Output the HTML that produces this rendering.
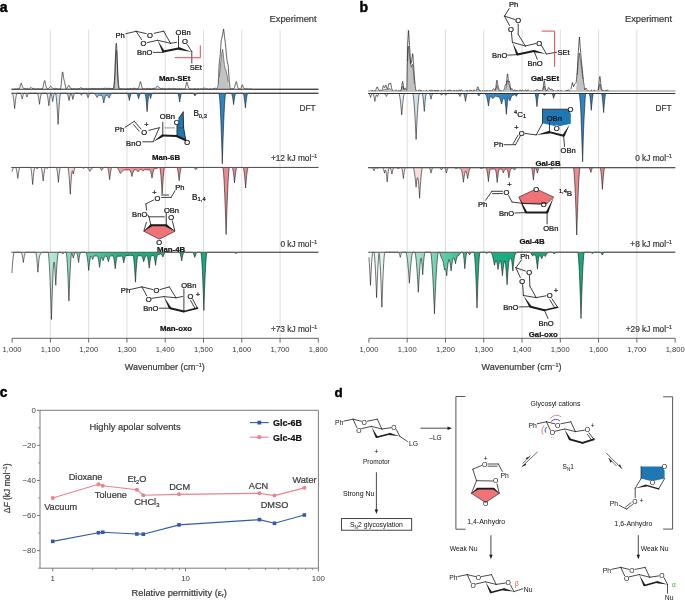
<!DOCTYPE html>
<html><head><meta charset="utf-8"><style>
html,body{margin:0;padding:0;background:#fff;overflow:hidden;width:685px;height:603px;}
svg{display:block;font-family:"Liberation Sans", sans-serif;will-change:transform;}
</style></head><body>
<svg width="685" height="603" viewBox="0 0 685 603">
<rect width="685" height="603" fill="#fff"/>
<line x1="50.38" y1="29.80" x2="50.38" y2="338.30" stroke="#d9d9d9" stroke-width="0.9" />
<line x1="88.66" y1="29.80" x2="88.66" y2="338.30" stroke="#d9d9d9" stroke-width="0.9" />
<line x1="126.94" y1="29.80" x2="126.94" y2="338.30" stroke="#d9d9d9" stroke-width="0.9" />
<line x1="165.22" y1="29.80" x2="165.22" y2="338.30" stroke="#d9d9d9" stroke-width="0.9" />
<line x1="203.50" y1="29.80" x2="203.50" y2="338.30" stroke="#d9d9d9" stroke-width="0.9" />
<line x1="241.78" y1="29.80" x2="241.78" y2="338.30" stroke="#d9d9d9" stroke-width="0.9" />
<line x1="280.06" y1="29.80" x2="280.06" y2="338.30" stroke="#d9d9d9" stroke-width="0.9" />
<line x1="12.10" y1="338.30" x2="318.34" y2="338.30" stroke="#555555" stroke-width="0.9" />
<line x1="12.10" y1="338.30" x2="12.10" y2="342.60" stroke="#555555" stroke-width="0.9" />
<text x="12.10" y="352.00" font-size="7.6" text-anchor="middle" font-weight="normal" fill="#3a3a3a" stroke="none">1,000</text>
<line x1="50.38" y1="338.30" x2="50.38" y2="342.60" stroke="#555555" stroke-width="0.9" />
<text x="50.38" y="352.00" font-size="7.6" text-anchor="middle" font-weight="normal" fill="#3a3a3a" stroke="none">1,100</text>
<line x1="88.66" y1="338.30" x2="88.66" y2="342.60" stroke="#555555" stroke-width="0.9" />
<text x="88.66" y="352.00" font-size="7.6" text-anchor="middle" font-weight="normal" fill="#3a3a3a" stroke="none">1,200</text>
<line x1="126.94" y1="338.30" x2="126.94" y2="342.60" stroke="#555555" stroke-width="0.9" />
<text x="126.94" y="352.00" font-size="7.6" text-anchor="middle" font-weight="normal" fill="#3a3a3a" stroke="none">1,300</text>
<line x1="165.22" y1="338.30" x2="165.22" y2="342.60" stroke="#555555" stroke-width="0.9" />
<text x="165.22" y="352.00" font-size="7.6" text-anchor="middle" font-weight="normal" fill="#3a3a3a" stroke="none">1,400</text>
<line x1="203.50" y1="338.30" x2="203.50" y2="342.60" stroke="#555555" stroke-width="0.9" />
<text x="203.50" y="352.00" font-size="7.6" text-anchor="middle" font-weight="normal" fill="#3a3a3a" stroke="none">1,500</text>
<line x1="241.78" y1="338.30" x2="241.78" y2="342.60" stroke="#555555" stroke-width="0.9" />
<text x="241.78" y="352.00" font-size="7.6" text-anchor="middle" font-weight="normal" fill="#3a3a3a" stroke="none">1,600</text>
<line x1="280.06" y1="338.30" x2="280.06" y2="342.60" stroke="#555555" stroke-width="0.9" />
<text x="280.06" y="352.00" font-size="7.6" text-anchor="middle" font-weight="normal" fill="#3a3a3a" stroke="none">1,700</text>
<line x1="318.34" y1="338.30" x2="318.34" y2="342.60" stroke="#555555" stroke-width="0.9" />
<text x="318.34" y="352.00" font-size="7.6" text-anchor="middle" font-weight="normal" fill="#3a3a3a" stroke="none">1,800</text>
<text x="164.72" y="369.80" font-size="9.0" text-anchor="middle" font-weight="normal" fill="#3a3a3a"  stroke="#3a3a3a" stroke-width="0.22">Wavenumber (cm<tspan dy="-3" font-size="5.5">−1</tspan><tspan dy="3">)</tspan></text>
<line x1="407.18" y1="29.80" x2="407.18" y2="338.30" stroke="#d9d9d9" stroke-width="0.9" />
<line x1="445.46" y1="29.80" x2="445.46" y2="338.30" stroke="#d9d9d9" stroke-width="0.9" />
<line x1="483.74" y1="29.80" x2="483.74" y2="338.30" stroke="#d9d9d9" stroke-width="0.9" />
<line x1="522.02" y1="29.80" x2="522.02" y2="338.30" stroke="#d9d9d9" stroke-width="0.9" />
<line x1="560.30" y1="29.80" x2="560.30" y2="338.30" stroke="#d9d9d9" stroke-width="0.9" />
<line x1="598.58" y1="29.80" x2="598.58" y2="338.30" stroke="#d9d9d9" stroke-width="0.9" />
<line x1="636.86" y1="29.80" x2="636.86" y2="338.30" stroke="#d9d9d9" stroke-width="0.9" />
<line x1="368.90" y1="338.30" x2="675.14" y2="338.30" stroke="#555555" stroke-width="0.9" />
<line x1="368.90" y1="338.30" x2="368.90" y2="342.60" stroke="#555555" stroke-width="0.9" />
<text x="368.90" y="352.00" font-size="7.6" text-anchor="middle" font-weight="normal" fill="#3a3a3a" stroke="none">1,000</text>
<line x1="407.18" y1="338.30" x2="407.18" y2="342.60" stroke="#555555" stroke-width="0.9" />
<text x="407.18" y="352.00" font-size="7.6" text-anchor="middle" font-weight="normal" fill="#3a3a3a" stroke="none">1,100</text>
<line x1="445.46" y1="338.30" x2="445.46" y2="342.60" stroke="#555555" stroke-width="0.9" />
<text x="445.46" y="352.00" font-size="7.6" text-anchor="middle" font-weight="normal" fill="#3a3a3a" stroke="none">1,200</text>
<line x1="483.74" y1="338.30" x2="483.74" y2="342.60" stroke="#555555" stroke-width="0.9" />
<text x="483.74" y="352.00" font-size="7.6" text-anchor="middle" font-weight="normal" fill="#3a3a3a" stroke="none">1,300</text>
<line x1="522.02" y1="338.30" x2="522.02" y2="342.60" stroke="#555555" stroke-width="0.9" />
<text x="522.02" y="352.00" font-size="7.6" text-anchor="middle" font-weight="normal" fill="#3a3a3a" stroke="none">1,400</text>
<line x1="560.30" y1="338.30" x2="560.30" y2="342.60" stroke="#555555" stroke-width="0.9" />
<text x="560.30" y="352.00" font-size="7.6" text-anchor="middle" font-weight="normal" fill="#3a3a3a" stroke="none">1,500</text>
<line x1="598.58" y1="338.30" x2="598.58" y2="342.60" stroke="#555555" stroke-width="0.9" />
<text x="598.58" y="352.00" font-size="7.6" text-anchor="middle" font-weight="normal" fill="#3a3a3a" stroke="none">1,600</text>
<line x1="636.86" y1="338.30" x2="636.86" y2="342.60" stroke="#555555" stroke-width="0.9" />
<text x="636.86" y="352.00" font-size="7.6" text-anchor="middle" font-weight="normal" fill="#3a3a3a" stroke="none">1,700</text>
<line x1="675.14" y1="338.30" x2="675.14" y2="342.60" stroke="#555555" stroke-width="0.9" />
<text x="675.14" y="352.00" font-size="7.6" text-anchor="middle" font-weight="normal" fill="#3a3a3a" stroke="none">1,800</text>
<text x="521.52" y="369.80" font-size="9.0" text-anchor="middle" font-weight="normal" fill="#3a3a3a"  stroke="#3a3a3a" stroke-width="0.22">Wavenumber (cm<tspan dy="-3" font-size="5.5">−1</tspan><tspan dy="3">)</tspan></text>
<text x="-0.20" y="11.90" font-size="14" text-anchor="start" font-weight="bold" fill="#000" stroke="#000" stroke-width="0.45">a</text>
<text x="359.60" y="11.60" font-size="14" text-anchor="start" font-weight="bold" fill="#000" stroke="#000" stroke-width="0.45">b</text>
<text x="316.60" y="22.30" font-size="9.3" text-anchor="end" font-weight="normal" fill="#3a3a3a"  stroke="#3a3a3a" stroke-width="0.22">Experiment</text>
<text x="672.00" y="22.30" font-size="9.3" text-anchor="end" font-weight="normal" fill="#3a3a3a"  stroke="#3a3a3a" stroke-width="0.22">Experiment</text>
<text x="315.60" y="110.80" font-size="8.3" text-anchor="end" font-weight="normal" fill="#3a3a3a"  stroke="#3a3a3a" stroke-width="0.22">DFT</text>
<text x="671.70" y="110.80" font-size="8.3" text-anchor="end" font-weight="normal" fill="#3a3a3a"  stroke="#3a3a3a" stroke-width="0.22">DFT</text>
<text x="317.20" y="161.30" font-size="8.3" text-anchor="end" font-weight="normal" fill="#3a3a3a"  stroke="#3a3a3a" stroke-width="0.22">+12 kJ mol<tspan dy="-3.6" font-size="5.2">−1</tspan></text>
<text x="317.20" y="247.20" font-size="8.3" text-anchor="end" font-weight="normal" fill="#3a3a3a"  stroke="#3a3a3a" stroke-width="0.22">0 kJ mol<tspan dy="-3.6" font-size="5.2">−1</tspan></text>
<text x="317.20" y="332.20" font-size="8.3" text-anchor="end" font-weight="normal" fill="#3a3a3a"  stroke="#3a3a3a" stroke-width="0.22">+73 kJ mol<tspan dy="-3.6" font-size="5.2">−1</tspan></text>
<text x="672.00" y="161.30" font-size="8.3" text-anchor="end" font-weight="normal" fill="#3a3a3a"  stroke="#3a3a3a" stroke-width="0.22">0 kJ mol<tspan dy="-3.6" font-size="5.2">−1</tspan></text>
<text x="672.00" y="247.40" font-size="8.3" text-anchor="end" font-weight="normal" fill="#3a3a3a"  stroke="#3a3a3a" stroke-width="0.22">+8 kJ mol<tspan dy="-3.6" font-size="5.2">−1</tspan></text>
<text x="672.00" y="332.40" font-size="8.3" text-anchor="end" font-weight="normal" fill="#3a3a3a"  stroke="#3a3a3a" stroke-width="0.22">+29 kJ mol<tspan dy="-3.6" font-size="5.2">−1</tspan></text>
<defs><linearGradient id="gba" gradientUnits="userSpaceOnUse" x1="12.10" y1="0" x2="318.40" y2="0"><stop offset="0" stop-color="#f3f7fb"/><stop offset="0.12" stop-color="#e2edf6"/><stop offset="0.2" stop-color="#b9d5ea"/><stop offset="0.3" stop-color="#7fb4de"/><stop offset="0.38" stop-color="#3f8fcb"/><stop offset="0.45" stop-color="#2b86c5"/><stop offset="1" stop-color="#2b86c5"/></linearGradient><linearGradient id="gpa" gradientUnits="userSpaceOnUse" x1="12.10" y1="0" x2="318.40" y2="0"><stop offset="0" stop-color="#fdf5f5"/><stop offset="0.12" stop-color="#fbe6e7"/><stop offset="0.2" stop-color="#f8d4d6"/><stop offset="0.3" stop-color="#f3b1b5"/><stop offset="0.4" stop-color="#ee8d93"/><stop offset="1" stop-color="#ec868d"/></linearGradient><linearGradient id="gga" gradientUnits="userSpaceOnUse" x1="12.10" y1="0" x2="318.40" y2="0"><stop offset="0" stop-color="#f2fbf7"/><stop offset="0.08" stop-color="#d4f1e5"/><stop offset="0.15" stop-color="#a6e2cb"/><stop offset="0.25" stop-color="#5fcba5"/><stop offset="0.35" stop-color="#22b185"/><stop offset="0.5" stop-color="#14ab7e"/><stop offset="1" stop-color="#14ab7e"/></linearGradient><linearGradient id="gbb" gradientUnits="userSpaceOnUse" x1="368.90" y1="0" x2="675.20" y2="0"><stop offset="0" stop-color="#f3f7fb"/><stop offset="0.12" stop-color="#e2edf6"/><stop offset="0.2" stop-color="#b9d5ea"/><stop offset="0.3" stop-color="#7fb4de"/><stop offset="0.38" stop-color="#3f8fcb"/><stop offset="0.45" stop-color="#2b86c5"/><stop offset="1" stop-color="#2b86c5"/></linearGradient><linearGradient id="gpb" gradientUnits="userSpaceOnUse" x1="368.90" y1="0" x2="675.20" y2="0"><stop offset="0" stop-color="#fdf5f5"/><stop offset="0.12" stop-color="#fbe6e7"/><stop offset="0.2" stop-color="#f8d4d6"/><stop offset="0.3" stop-color="#f3b1b5"/><stop offset="0.4" stop-color="#ee8d93"/><stop offset="1" stop-color="#ec868d"/></linearGradient><linearGradient id="ggb" gradientUnits="userSpaceOnUse" x1="368.90" y1="0" x2="675.20" y2="0"><stop offset="0" stop-color="#f2fbf7"/><stop offset="0.08" stop-color="#d4f1e5"/><stop offset="0.15" stop-color="#a6e2cb"/><stop offset="0.25" stop-color="#5fcba5"/><stop offset="0.35" stop-color="#22b185"/><stop offset="0.5" stop-color="#14ab7e"/><stop offset="1" stop-color="#14ab7e"/></linearGradient></defs>
<path d="M12.10,89.30 L12.1,89.3 113.8,88.0 114.2,85.7 114.6,81.3 115.0,74.0 115.4,64.6 115.8,55.6 116.2,50.4 116.3,50.0 116.6,51.4 117.0,58.0 117.4,67.5 117.8,76.4 118.2,82.9 118.6,86.6 118.8,88.0 218.2,89.3 219.3,77.3 220.5,64.3 221.8,53.3 222.6,49.3 223.4,55.3 224.3,64.3 225.2,68.3 226.3,71.3 227.3,76.3 228.3,82.3 229.3,89.3 318.4,89.3 L318.40,89.30 Z" fill="#c2c2c2" stroke="none"/>
<polyline points="113.8,88.0 114.2,85.7 114.6,81.3 115.0,74.0 115.4,64.6 115.8,55.6 116.2,50.4 116.3,50.0 116.6,51.4 117.0,58.0 117.4,67.5 117.8,76.4 118.2,82.9 118.6,86.6 118.8,88.0" fill="none" stroke="#333" stroke-width="0.55"/>
<polyline points="219.3,77.3 220.5,64.3 221.8,53.3 222.6,49.3 223.4,55.3 224.3,64.3 225.2,68.3 226.3,71.3 227.3,76.3 228.3,82.3" fill="none" stroke="#333" stroke-width="0.55"/>
<polyline points="12.1,89.3 13.3,89.3 13.7,89.3 14.1,89.2 14.5,89.1 14.9,89.0 15.1,89.0 15.3,89.0 15.7,89.1 15.8,89.1 16.1,89.1 16.2,89.2 16.5,89.1 16.6,89.1 16.9,89.0 16.9,89.0 17.0,88.9 17.4,88.8 17.6,88.7 17.8,88.8 18.2,88.9 18.6,89.1 18.9,89.2 19.0,89.2 19.0,89.2 19.3,88.8 19.4,88.6 19.4,88.6 19.4,88.5 19.7,88.0 19.8,87.5 20.1,86.6 20.2,85.9 20.5,84.8 20.6,84.2 20.7,83.9 20.9,83.5 21.0,83.2 21.2,83.2 21.3,83.3 21.3,83.3 21.4,83.5 21.7,84.2 21.7,84.3 21.8,84.7 22.1,85.6 22.1,85.8 22.2,86.2 22.5,86.9 22.5,86.9 22.5,87.0 22.6,87.2 22.9,87.6 23.0,87.8 23.1,87.9 23.3,88.0 23.4,88.1 23.4,88.3 23.7,88.4 23.8,88.5 24.1,88.6 24.2,88.6 24.5,88.5 24.6,88.5 24.9,88.4 25.0,88.3 25.0,88.3 25.2,88.3 25.4,88.4 25.6,88.5 25.8,88.6 26.0,88.7 26.2,88.8 26.4,88.8 26.6,88.8 26.8,88.7 27.0,88.6 27.0,88.6 27.2,88.5 27.5,88.5 27.6,88.5 28.0,88.7 28.4,89.0 28.8,89.2 28.8,89.1 29.2,89.1 29.2,89.1 29.2,89.1 29.3,89.1 29.6,88.9 29.6,88.9 30.0,88.4 30.0,88.4 30.4,87.8 30.4,87.8 30.6,87.5 30.8,87.4 30.8,87.4 31.2,87.5 31.2,87.5 31.2,87.5 31.4,87.7 31.6,87.9 31.6,87.9 31.8,88.1 32.0,88.3 32.0,88.3 32.1,88.4 32.4,88.4 32.4,88.4 32.5,88.5 32.5,88.4 32.8,88.4 33.0,88.3 33.0,88.3 33.2,88.3 33.2,88.3 33.2,88.3 33.4,88.3 33.4,88.3 33.8,88.4 33.8,88.5 34.1,88.6 34.2,88.6 34.5,88.6 34.6,88.6 34.8,88.7 35.0,88.7 35.0,88.7 35.0,88.7 35.4,88.9 35.8,89.1 36.0,89.1 36.2,89.1 36.4,89.1 36.6,89.1 36.6,89.1 36.8,89.0 37.2,88.7 37.6,88.5 37.8,88.4 38.0,88.4 38.3,88.6 38.4,88.7 38.7,88.9 38.8,88.9 39.1,89.0 39.2,89.0 39.5,89.0 39.6,89.0 39.6,89.0 39.9,88.9 40.1,88.9 40.3,88.9 40.5,88.9 40.7,89.0 40.9,89.0 41.1,89.0 41.2,89.0 41.5,88.9 41.6,88.9 41.9,88.8 41.9,88.8 42.0,88.7 42.2,88.7 42.3,88.7 42.4,88.4 42.5,88.4 42.6,88.2 42.8,87.8 42.9,87.8 43.0,87.4 43.2,86.6 43.2,86.5 43.4,85.7 43.6,84.6 43.6,84.4 43.8,83.4 44.0,82.3 44.0,82.2 44.1,82.1 44.1,81.9 44.2,81.4 44.4,80.8 44.6,80.6 44.7,80.6 44.8,80.8 44.9,80.9 45.0,81.4 45.2,82.3 45.3,82.5 45.4,83.3 45.6,84.5 45.7,84.7 45.8,85.4 45.9,85.8 46.0,86.4 46.1,86.5 46.4,87.5 46.5,87.6 46.7,88.0 46.8,88.1 46.8,88.2 46.9,88.3 47.0,88.4 47.2,88.7 47.3,88.7 47.6,88.8 47.7,88.8 47.7,88.8 48.0,88.7 48.1,88.6 48.1,88.6 48.4,88.5 48.5,88.4 48.5,88.4 48.5,88.4 48.6,88.3 48.8,88.2 48.9,88.1 49.0,88.0 49.2,87.8 49.3,87.7 49.4,87.6 49.6,87.4 49.7,87.2 49.8,87.1 50.0,86.9 50.1,86.7 50.2,86.6 50.4,86.4 50.4,86.4 50.5,86.3 50.6,86.3 50.7,86.3 50.9,86.3 50.9,86.3 51.0,86.4 51.2,86.5 51.3,86.7 51.4,86.8 51.6,87.0 51.7,87.3 51.8,87.4 52.0,87.6 52.1,87.8 52.2,87.9 52.4,88.0 52.5,88.1 52.6,88.2 52.7,88.2 52.8,88.3 52.9,88.4 53.0,88.4 53.2,88.5 53.3,88.7 53.6,88.8 53.7,89.0 53.9,89.1 54.0,89.1 54.3,89.1 54.4,89.1 54.7,88.9 54.8,88.9 54.8,88.9 55.1,88.6 55.5,88.3 55.6,88.3 55.8,88.3 55.9,88.3 56.0,88.3 56.3,88.5 56.4,88.5 56.7,88.7 56.8,88.7 57.1,88.8 57.2,88.8 57.4,88.9 57.5,88.9 57.6,88.9 57.6,89.0 58.0,89.1 58.4,89.2 58.5,89.2 58.8,89.2 58.9,89.2 59.2,89.2 59.2,89.2 59.3,89.2 59.7,89.2 60.1,89.1 60.3,89.1 60.4,89.1 60.5,88.2 60.5,88.2 60.8,87.4 60.9,86.6 60.9,86.5 61.2,84.9 61.3,83.5 61.3,83.4 61.6,80.9 61.7,79.0 61.7,78.8 62.0,76.1 62.1,74.4 62.1,74.3 62.1,74.2 62.4,72.7 62.4,72.7 62.5,72.2 62.6,72.1 62.6,71.9 62.8,72.2 62.9,72.9 63.0,73.3 63.0,73.3 63.2,74.5 63.3,75.8 63.4,76.3 63.4,76.4 63.6,77.6 63.7,78.6 63.8,78.9 63.8,79.0 64.0,79.6 64.1,80.2 64.2,80.3 64.2,80.4 64.2,80.4 64.4,80.8 64.5,81.2 64.6,81.6 64.6,81.6 64.8,82.4 64.8,82.6 64.8,83.2 65.0,83.9 65.0,84.0 65.4,86.1 65.4,86.1 65.8,87.8 65.8,87.8 65.8,87.9 66.2,88.7 66.2,88.7 66.2,88.7 66.4,88.9 66.5,88.9 66.6,88.9 66.6,88.9 66.6,88.8 66.9,88.5 67.0,88.4 67.3,87.8 67.4,87.7 67.4,87.7 67.6,87.2 67.7,87.0 67.8,86.9 67.8,86.9 68.1,86.2 68.2,86.1 68.2,86.1 68.5,85.6 68.6,85.5 68.6,85.5 68.9,85.3 68.9,85.3 69.0,85.3 69.0,85.3 69.2,85.5 69.3,85.6 69.4,85.7 69.4,85.8 69.4,85.9 69.6,86.3 69.7,86.5 69.8,86.7 70.0,87.3 70.1,87.5 70.2,87.7 70.4,88.1 70.5,88.2 70.6,88.3 70.8,88.4 70.9,88.5 71.0,88.5 71.0,88.5 71.2,88.6 71.3,88.6 71.4,88.7 71.6,88.7 72.0,88.8 72.1,88.9 72.4,89.0 72.5,89.0 72.8,89.0 72.9,89.0 73.2,88.8 73.2,88.8 73.3,88.8 73.7,88.6 74.0,88.5 74.1,88.5 74.5,88.7 74.9,89.0 75.0,89.0 75.3,89.1 75.4,89.2 75.7,89.2 75.8,89.2 75.8,89.2 76.2,89.1 76.6,89.0 76.8,88.9 76.9,88.9 77.0,88.9 77.3,89.0 77.4,89.0 77.7,89.0 77.8,89.0 78.1,89.0 78.2,89.0 78.5,88.9 78.6,88.9 78.6,88.9 78.7,88.9 78.7,88.9 78.8,88.8 78.9,88.8 79.0,88.8 79.2,88.8 79.3,88.7 79.4,88.7 79.6,88.6 79.7,88.5 79.8,88.4 80.0,88.3 80.1,88.1 80.2,88.0 80.4,87.9 80.5,87.8 80.5,87.8 80.6,87.7 80.6,87.7 80.8,87.7 81.0,87.7 81.2,87.8 81.4,87.9 81.5,88.0 81.6,88.1 81.8,88.2 81.8,88.2 82.0,88.3 82.2,88.4 82.2,88.4 82.4,88.5 82.5,88.5 82.6,88.6 82.6,88.6 83.0,88.6 83.0,88.6 83.4,88.6 83.4,88.6 83.6,88.6 83.8,88.7 83.8,88.7 84.2,88.9 84.2,88.9 84.4,89.0 84.5,89.1 84.6,89.1 84.9,89.1 85.0,89.1 85.3,89.0 85.4,88.9 85.4,88.9 85.7,88.7 86.1,88.4 86.3,88.4 86.5,88.4 86.9,88.6 87.3,88.9 87.5,89.1 87.7,89.1 87.8,89.1 88.1,89.1 88.1,89.1 88.2,89.0 88.7,88.7 89.0,88.5 89.3,88.4 89.5,88.4 89.8,88.7 90.0,88.8 90.2,88.9 90.4,88.9 90.7,88.9 90.8,88.9 91.0,88.8 91.1,88.7 91.2,88.7 91.6,88.4 91.8,88.4 92.0,88.4 92.1,88.4 92.4,88.6 92.5,88.6 92.8,88.8 92.9,88.8 93.2,88.7 93.3,88.7 93.6,88.6 93.7,88.6 93.7,88.6 93.9,88.6 94.1,88.6 94.2,88.6 94.5,88.7 94.5,88.7 94.9,88.8 95.0,88.8 95.3,88.8 95.3,88.8 95.7,88.7 95.8,88.7 95.8,88.8 96.0,88.7 96.2,88.8 96.3,88.8 96.5,88.9 96.8,88.9 97.0,88.9 97.2,88.9 97.3,88.9 97.5,88.8 97.8,88.7 97.8,88.7 98.0,88.7 98.0,88.7 98.2,88.6 98.3,88.6 98.4,88.6 98.8,88.6 98.8,88.6 99.2,88.7 99.2,88.7 99.5,88.6 99.6,88.6 99.8,88.7 100.0,88.7 100.0,88.7 100.0,88.7 100.3,88.8 100.4,88.8 100.7,88.9 100.8,88.9 101.1,88.9 101.2,88.9 101.5,88.6 101.6,88.6 101.6,88.6 101.9,88.3 102.0,88.3 102.2,88.2 102.3,88.3 102.5,88.3 102.7,88.4 102.8,88.5 103.1,88.7 103.1,88.7 103.2,88.7 103.5,88.7 103.5,88.7 103.7,88.7 103.9,88.6 103.9,88.6 104.0,88.6 104.0,88.6 104.3,88.4 104.5,88.3 104.7,88.2 104.8,88.2 104.9,88.2 104.9,88.2 105.1,88.2 105.2,88.2 105.3,88.2 105.5,88.3 105.7,88.4 105.7,88.4 105.9,88.5 106.0,88.5 106.1,88.5 106.3,88.5 106.5,88.4 106.5,88.4 106.7,88.4 106.7,88.4 106.8,88.3 106.9,88.3 107.0,88.3 107.1,88.3 107.2,88.3 107.3,88.3 107.4,88.3 107.7,88.4 107.7,88.4 107.8,88.4 107.8,88.4 108.1,88.4 108.2,88.4 108.5,88.3 108.6,88.3 108.7,88.2 108.9,88.2 108.9,88.2 109.0,88.3 109.0,88.3 109.1,88.3 109.4,88.4 109.5,88.4 109.8,88.4 109.9,88.4 110.2,88.4 110.3,88.4 110.5,88.4 110.6,88.5 110.7,88.5 110.7,88.5 111.1,88.7 111.2,88.8 111.5,88.9 111.6,88.9 111.9,88.9 112.0,88.8 112.3,88.6 112.4,88.6 112.4,88.6 112.8,88.3 113.0,88.2 113.2,88.3 113.4,88.4 113.6,88.5 113.7,87.0 113.8,86.3 114.0,85.1 114.0,84.8 114.2,83.2 114.4,80.7 114.5,80.1 114.6,77.1 114.8,73.1 114.8,72.2 114.9,71.3 115.0,68.1 115.2,62.2 115.2,61.9 115.3,60.3 115.4,57.3 115.7,51.5 115.7,50.2 115.8,48.0 116.0,44.6 116.1,44.0 116.2,43.4 116.3,43.2 116.5,43.7 116.5,44.2 116.6,45.4 116.8,49.3 116.9,50.6 117.0,53.2 117.1,54.2 117.1,56.0 117.2,59.2 117.3,60.9 117.4,63.6 117.7,69.9 117.7,71.3 117.8,73.7 118.0,78.5 118.1,79.5 118.2,81.0 118.5,83.9 118.5,84.4 118.6,85.3 118.8,86.7 118.9,86.9 118.9,87.0 119.0,87.1 119.0,88.6 119.2,88.6 119.4,88.6 119.5,88.6 119.8,88.7 119.9,88.8 120.2,88.9 120.3,88.9 120.6,89.0 120.7,89.0 121.0,88.9 121.1,88.9 121.1,89.0 121.3,88.9 121.5,89.0 121.9,89.0 122.3,89.2 122.5,89.2 122.7,89.2 122.9,89.2 123.1,89.2 123.1,89.2 123.3,89.2 123.7,89.1 124.1,89.0 124.3,89.0 124.5,89.0 124.9,89.1 125.3,89.2 125.6,89.3 125.7,89.2 126.0,89.2 126.1,89.2 126.1,89.2 126.4,89.2 126.8,89.0 127.2,88.9 127.4,88.9 127.6,88.9 128.0,89.0 128.4,89.1 128.4,89.1 128.8,89.1 128.8,89.1 129.2,89.0 129.2,89.0 129.2,89.0 129.6,88.7 130.0,88.5 130.2,88.4 130.4,88.5 130.8,88.7 131.2,89.0 131.5,89.1 131.6,89.1 131.9,89.1 132.0,89.1 132.1,89.1 132.3,89.0 132.7,88.7 133.1,88.5 133.1,88.4 133.3,88.3 133.5,88.3 133.5,88.3 133.9,88.4 133.9,88.4 134.3,88.4 134.3,88.4 134.7,88.3 134.7,88.3 135.0,88.4 135.1,88.4 135.1,88.4 135.2,88.4 135.5,88.7 135.9,89.0 136.3,89.1 136.3,89.1 136.7,89.1 136.7,89.1 136.8,89.1 137.1,89.0 137.5,88.7 137.9,88.4 138.1,88.4 138.2,88.4 138.3,88.0 138.6,87.8 138.7,87.6 138.7,87.5 138.9,87.0 139.1,86.6 139.1,86.4 139.3,85.5 139.5,84.9 139.5,84.6 139.8,83.5 139.9,82.9 139.9,82.7 139.9,82.7 140.2,82.0 140.3,81.7 140.4,81.7 140.4,81.6 140.6,81.7 140.7,82.2 140.8,82.3 140.9,83.0 141.1,83.9 141.2,84.0 141.3,84.9 141.5,85.8 141.6,86.0 141.8,86.7 141.9,87.4 142.0,87.4 142.2,87.9 142.2,88.0 142.3,88.3 142.3,88.3 142.4,88.3 142.6,88.6 142.7,89.0 142.8,89.0 143.1,89.1 143.2,89.1 143.5,89.2 143.6,89.2 143.9,89.2 144.0,89.2 144.0,89.2 144.3,89.1 144.7,89.0 144.9,89.0 145.1,89.0 145.5,89.1 145.6,89.1 145.9,89.1 146.0,89.1 146.3,89.0 146.4,89.0 146.7,88.8 146.8,88.8 146.8,88.7 147.2,88.5 147.4,88.4 147.6,88.4 148.0,88.7 148.1,88.7 148.4,88.9 148.5,88.9 148.8,88.9 148.9,88.9 149.2,88.8 149.3,88.7 149.3,88.7 149.7,88.5 149.9,88.4 150.1,88.5 150.5,88.7 150.9,89.0 151.0,89.0 151.3,89.1 151.4,89.1 151.7,89.0 151.8,89.0 151.8,89.0 152.2,88.7 152.6,88.5 152.6,88.5 152.8,88.4 153.0,88.4 153.0,88.4 153.4,88.4 153.4,88.4 153.8,88.4 153.8,88.4 154.2,88.4 154.2,88.3 154.2,88.3 154.4,88.3 154.6,88.3 154.6,88.3 154.6,88.3 154.7,88.3 155.0,88.4 155.0,88.4 155.1,88.4 155.4,88.3 155.4,88.3 155.5,88.3 155.8,88.1 155.8,88.0 155.9,87.9 156.2,87.5 156.2,87.4 156.3,87.3 156.3,87.2 156.6,86.8 156.7,86.6 156.9,86.3 157.0,86.3 157.1,86.2 157.2,86.2 157.4,86.2 157.5,86.2 157.6,86.2 157.7,86.3 157.8,86.3 157.9,86.5 157.9,86.5 158.2,86.7 158.3,86.8 158.3,86.8 158.6,87.0 158.7,87.1 158.8,87.2 158.8,87.2 158.8,87.3 159.0,87.4 159.0,87.4 159.2,87.6 159.2,87.6 159.4,87.8 159.6,87.9 159.6,88.0 159.8,88.1 159.9,88.2 160.0,88.2 160.2,88.3 160.3,88.3 160.4,88.4 160.6,88.4 160.7,88.5 160.7,88.5 160.8,88.5 160.8,88.5 160.8,88.5 161.0,88.5 161.1,88.6 161.2,88.7 161.5,88.7 161.6,88.7 161.9,88.6 162.0,88.5 162.3,88.4 162.4,88.4 162.5,88.4 162.5,88.4 162.7,88.4 163.1,88.7 163.2,88.8 163.5,88.9 163.6,89.0 163.9,89.0 164.0,89.0 164.3,89.0 164.3,89.0 164.4,88.9 164.8,88.8 165.0,88.8 165.2,88.8 165.4,88.8 165.6,88.9 165.8,89.0 166.0,89.0 166.2,89.1 166.4,89.1 166.6,89.1 166.8,89.0 166.9,89.0 167.0,89.0 167.2,89.0 167.2,89.0 167.4,89.0 167.6,88.9 167.8,88.9 168.0,88.8 168.2,88.7 168.4,88.6 168.6,88.4 168.8,88.3 169.0,88.3 169.0,88.3 169.0,88.3 169.2,88.3 169.4,88.4 169.6,88.5 169.8,88.6 170.0,88.6 170.2,88.6 170.4,88.6 170.6,88.6 170.8,88.6 170.8,88.6 170.9,88.6 171.0,88.6 171.4,88.8 171.6,88.9 171.8,89.0 171.9,89.0 172.2,89.0 172.3,88.9 172.6,88.8 172.7,88.7 172.8,88.7 173.2,88.5 173.4,88.4 173.4,88.4 173.6,88.4 173.8,88.5 173.9,88.6 174.2,88.7 174.3,88.7 174.6,88.7 174.8,88.7 175.0,88.7 175.2,88.7 175.2,88.7 175.2,88.7 175.4,88.7 175.7,88.8 175.8,88.8 176.1,88.9 176.2,88.9 176.4,89.0 176.6,89.0 176.8,89.0 177.0,89.0 177.1,89.0 177.2,89.0 177.4,89.0 177.7,89.0 177.8,89.1 178.1,89.0 178.2,89.0 178.4,88.9 178.6,88.8 178.8,88.7 178.9,88.7 179.0,88.7 179.3,88.6 179.4,88.6 179.6,88.7 179.8,88.8 180.0,88.8 180.2,88.9 180.4,88.9 180.6,88.9 180.8,88.9 181.0,88.8 181.1,88.8 181.2,88.8 181.4,88.7 181.6,88.8 182.0,88.9 182.1,89.0 182.4,89.1 182.5,89.1 182.8,89.2 182.9,89.2 183.2,89.1 183.2,89.2 183.3,89.1 183.7,89.1 183.9,89.1 184.1,89.1 184.5,89.1 184.7,88.9 184.9,88.8 185.0,88.6 185.1,88.5 185.3,88.1 185.4,87.6 185.5,87.5 185.7,86.8 185.7,86.7 185.8,86.0 185.9,85.8 186.2,84.0 186.3,83.8 186.6,82.4 186.7,82.3 186.8,82.1 186.9,82.1 187.0,82.2 187.1,82.2 187.2,82.6 187.4,83.3 187.5,83.5 187.7,84.3 187.8,85.2 187.9,85.3 188.1,86.1 188.2,86.8 188.3,86.9 188.4,87.3 188.6,87.7 188.6,87.7 188.7,87.7 188.8,88.0 188.9,88.0 189.1,88.1 189.1,88.2 189.1,88.2 189.2,88.4 189.3,88.4 189.7,88.6 189.7,88.6 190.1,88.8 190.1,88.8 190.4,88.9 190.5,88.9 190.5,88.9 190.7,88.9 190.8,88.9 190.9,88.9 190.9,88.9 191.3,89.0 191.3,89.0 191.7,89.0 191.7,89.0 192.1,88.9 192.1,88.9 192.3,89.0 192.5,89.0 192.5,89.0 192.5,89.0 192.9,89.1 193.0,89.1 193.3,89.1 193.4,89.1 193.7,89.0 193.8,89.0 194.1,88.8 194.1,88.8 194.2,88.7 194.6,88.5 194.9,88.4 195.0,88.5 195.4,88.7 195.8,89.0 196.2,89.1 196.2,89.1 196.6,89.2 196.6,89.2 196.7,89.2 197.0,89.1 197.4,88.8 197.8,88.7 198.0,88.6 198.2,88.6 198.6,88.8 199.0,89.0 199.2,89.1 199.4,89.2 199.6,89.2 199.8,89.1 199.8,89.2 200.0,89.1 200.4,88.9 200.8,88.8 201.0,88.7 201.2,88.7 201.6,88.9 201.6,88.9 202.0,89.0 202.0,89.0 202.4,88.9 202.4,88.9 202.8,88.6 202.8,88.6 202.8,88.6 203.2,88.3 203.3,88.3 203.4,88.2 203.6,88.2 203.7,88.2 204.0,88.2 204.1,88.2 204.4,88.2 204.5,88.2 204.8,88.2 204.9,88.2 205.1,88.2 205.2,88.2 205.3,88.3 205.3,88.3 205.4,88.3 205.7,88.5 205.8,88.6 206.1,88.7 206.2,88.8 206.5,88.8 206.6,88.8 206.9,88.7 206.9,88.7 207.0,88.7 207.2,88.7 207.4,88.7 207.8,88.9 208.2,89.1 208.5,89.2 208.6,89.2 208.9,89.2 209.0,89.2 209.0,89.2 209.3,89.1 209.7,88.9 210.1,88.7 210.3,88.7 210.5,88.7 210.9,88.9 211.3,89.1 211.5,89.2 211.7,89.2 211.9,89.2 212.1,89.1 212.1,89.1 212.3,89.0 212.7,88.8 213.1,88.5 213.3,88.5 213.5,88.5 213.8,88.5 213.9,88.5 214.2,88.5 214.3,88.5 214.6,88.4 214.7,88.3 214.9,88.2 215.0,88.2 215.1,88.1 215.2,88.2 215.2,88.2 215.3,88.2 215.4,88.2 215.8,88.3 215.8,88.3 216.2,88.4 216.2,88.4 216.6,88.4 216.6,88.4 216.8,88.4 216.9,88.4 217.0,88.5 217.0,88.5 217.1,88.5 217.3,88.6 217.4,88.2 217.5,87.8 217.8,86.7 217.9,86.2 218.2,85.0 218.3,84.5 218.3,84.3 218.6,77.7 218.7,76.4 218.7,75.3 218.9,69.9 219.1,66.4 219.1,66.2 219.3,62.3 219.5,60.6 219.5,60.5 219.9,57.3 219.9,57.2 220.2,54.9 220.3,53.4 220.3,53.2 220.7,47.8 220.7,47.6 220.8,46.8 220.9,44.6 221.1,42.2 221.1,42.0 221.2,40.9 221.5,39.6 221.5,39.6 221.9,37.8 221.9,37.8 222.3,35.9 222.3,35.9 222.6,34.5 222.7,33.9 222.7,33.8 222.8,33.6 222.9,32.5 223.1,31.6 223.3,30.3 223.5,29.5 223.6,29.0 223.8,30.4 223.9,31.8 224.2,33.9 224.3,35.2 224.5,36.8 224.6,37.1 224.7,38.2 224.8,38.7 224.9,40.0 225.2,41.7 225.3,42.6 225.3,43.1 225.8,47.7 226.2,52.3 226.4,55.1 226.4,55.2 226.6,56.3 226.8,58.3 226.9,59.4 227.0,59.8 227.2,61.3 227.3,62.0 227.6,63.1 228.0,64.7 228.2,65.5 228.2,66.0 228.4,68.4 228.8,74.2 229.2,80.0 229.2,80.1 229.3,81.3 229.6,83.8 229.7,85.0 230.0,87.4 230.1,88.0 230.1,88.6 230.2,89.1 230.5,89.0 230.9,88.9 231.1,88.9 231.2,88.8 231.3,88.8 231.5,88.8 231.7,88.8 231.9,88.8 232.1,88.8 232.3,88.7 232.5,88.7 232.7,88.6 232.9,88.6 232.9,88.6 232.9,88.6 233.0,88.6 233.1,88.6 233.3,88.7 233.5,88.7 233.8,88.7 233.9,88.7 234.0,88.4 234.2,88.1 234.3,87.9 234.4,87.7 234.6,87.2 234.7,86.9 234.7,86.7 234.8,86.6 234.8,86.5 234.9,85.9 235.2,85.0 235.3,84.2 235.4,83.8 235.6,83.2 235.8,82.5 235.8,82.3 236.0,81.9 236.2,81.7 236.2,81.6 236.2,81.6 236.4,81.7 236.6,82.1 236.6,82.3 236.6,82.4 236.8,82.8 237.0,84.0 237.2,84.6 237.3,85.1 237.4,85.7 237.4,85.9 237.6,86.5 237.8,87.3 237.8,87.5 238.0,87.8 238.2,88.3 238.2,88.3 238.4,88.5 238.4,88.6 238.6,88.8 238.6,88.8 239.0,88.7 239.0,88.7 239.1,88.7 239.2,88.7 239.4,88.8 239.8,88.9 240.2,89.1 240.3,89.1 240.5,89.1 240.6,89.0 240.7,88.9 240.9,88.6 241.0,88.5 241.0,88.4 241.1,88.2 241.3,87.6 241.5,86.9 241.7,86.1 241.9,85.4 242.1,85.0 242.1,84.9 242.3,84.8 242.4,84.9 242.5,85.0 242.7,85.6 242.8,86.0 242.9,86.2 243.1,86.9 243.2,87.3 243.3,87.5 243.5,88.0 243.6,88.2 243.7,88.2 243.9,88.4 243.9,88.4 244.0,88.5 244.1,88.5 244.1,88.6 244.2,88.6 244.4,88.6 244.8,88.8 244.8,88.8 245.2,88.9 245.2,88.9 245.6,88.9 245.7,88.9 246.0,88.6 246.1,88.6 246.1,88.6 246.4,88.4 246.7,88.3 246.8,88.4 247.2,88.6 247.5,88.8 247.7,88.9 247.9,89.0 248.1,89.1 248.3,89.1 248.4,89.1 248.5,89.1 248.7,89.1 249.1,89.0 249.2,89.0 249.3,89.0 249.5,89.0 249.6,89.0 249.9,89.0 250.0,89.0 250.3,89.0 250.4,89.0 250.7,88.9 250.8,88.9 251.1,88.9 251.1,88.9 251.1,88.9 251.2,88.9 251.6,89.0 252.0,89.2 252.4,89.2 252.8,89.3 252.9,89.3 318.4,89.3" fill="none" stroke="#1a1a1a" stroke-width="0.7" stroke-linejoin="round"/>
<path d="M12.10,93.30 L12.1,93.3 12.3,93.3 12.7,94.0 13.1,95.8 13.5,98.2 13.9,101.3 14.3,105.0 14.6,108.6 14.7,107.9 15.1,103.8 15.5,100.3 15.9,97.4 16.3,95.2 16.7,93.7 16.9,93.3 20.2,93.3 20.6,93.7 21.0,94.5 21.4,95.7 21.8,97.2 22.2,99.0 22.6,97.2 23.0,95.7 23.4,94.5 23.8,93.7 24.2,93.3 25.0,93.3 25.4,93.6 25.8,94.1 26.2,94.9 26.6,96.0 26.9,97.0 27.0,96.8 27.4,95.6 27.8,94.6 28.2,93.9 28.6,93.4 28.8,93.3 37.3,93.3 37.7,93.9 38.1,95.3 38.5,97.3 38.9,99.7 39.3,102.7 39.5,104.3 39.7,102.5 40.1,99.5 40.5,97.1 40.9,95.2 41.3,93.8 41.7,93.3 46.6,93.3 47.0,94.0 47.4,95.5 47.8,97.6 48.2,100.4 48.6,103.6 48.8,105.7 49.0,104.1 49.4,100.8 49.8,98.0 50.2,95.8 50.6,94.2 50.6,94.0 51.0,93.7 51.0,93.8 51.0,93.8 51.4,94.9 51.8,96.5 52.2,98.6 52.6,101.0 52.7,101.6 53.0,99.6 53.4,97.4 53.8,95.6 54.2,94.2 54.6,93.4 54.8,93.3 55.5,93.3 55.9,94.6 56.3,97.5 56.7,101.7 57.1,106.9 57.5,113.2 57.9,120.4 58.1,124.4 58.3,120.4 58.7,113.2 59.1,106.9 59.5,101.7 59.9,97.5 60.3,94.6 60.7,93.3 67.0,93.3 67.4,93.7 67.8,94.8 68.2,96.2 68.6,98.0 69.0,100.2 69.1,100.6 69.4,98.7 69.8,96.7 70.2,95.1 70.6,94.0 70.8,93.7 71.0,93.5 71.2,93.6 71.2,93.7 71.6,94.6 72.0,95.8 72.4,97.4 72.8,99.3 72.8,99.4 73.2,97.5 73.6,95.9 74.0,94.6 74.4,93.7 74.8,93.3 74.8,93.3 79.5,93.3 79.9,93.4 80.3,93.8 80.7,94.2 81.1,94.8 81.4,95.3 81.5,95.1 81.9,94.4 82.3,93.9 82.7,93.5 83.1,93.3 83.3,93.3 85.7,93.3 86.1,93.5 86.5,94.0 86.9,94.7 87.3,95.6 87.7,96.7 88.0,97.7 88.1,97.5 88.5,96.3 88.9,95.3 89.3,94.5 89.7,93.8 90.1,93.4 90.3,93.3 94.0,93.3 94.8,93.9 95.2,94.4 95.6,95.0 96.0,95.6 96.0,95.7 96.4,96.3 96.8,97.0 97.1,97.5 97.2,97.3 97.6,96.7 98.0,96.1 98.4,95.7 98.8,95.4 99.2,95.2 99.4,95.2 100.0,95.3 101.7,95.5 102.1,96.0 102.5,97.0 102.9,98.5 103.3,100.4 103.7,102.6 103.8,103.0 104.1,101.1 104.5,99.2 104.9,97.6 105.0,97.4 105.3,96.4 105.7,95.7 105.9,95.6 106.8,95.3 107.2,95.4 107.6,95.7 108.0,96.1 108.4,96.8 108.8,97.5 109.1,98.1 109.2,97.9 109.6,96.8 110.0,96.0 110.4,95.1 110.8,94.4 111.2,93.8 111.4,93.7 112.0,93.3 127.1,93.3 127.5,93.7 127.9,94.5 128.3,95.7 128.7,97.3 129.1,99.1 129.4,100.5 129.5,99.8 129.9,97.8 130.3,96.2 130.7,94.9 131.1,93.9 131.5,93.3 131.7,93.3 136.4,93.3 136.8,93.6 137.2,94.3 137.6,95.2 138.0,96.5 138.4,97.9 138.6,98.7 138.8,97.8 139.2,96.4 139.6,95.2 140.0,94.2 140.4,93.6 140.8,93.3 144.9,93.3 145.3,94.3 145.7,96.6 146.1,99.9 146.5,104.0 146.9,108.9 147.1,111.7 147.3,108.9 147.7,104.0 148.1,99.9 148.5,96.6 148.6,95.8 148.9,94.5 149.0,94.2 149.3,94.1 149.4,94.4 149.8,95.5 150.2,96.9 150.6,98.5 150.6,98.4 151.0,96.8 151.4,95.4 151.8,94.3 152.2,93.6 152.6,93.3 177.6,93.3 178.0,93.8 178.4,95.0 178.8,96.7 179.2,98.8 179.6,101.3 179.7,102.0 180.0,100.0 180.4,97.7 180.8,95.8 181.2,94.3 181.6,93.5 181.8,93.3 192.7,93.3 193.1,93.4 193.5,93.7 193.9,94.2 194.3,94.7 194.7,95.4 195.0,95.9 195.1,95.7 195.5,95.0 195.9,94.4 196.3,93.9 196.7,93.5 197.1,93.3 197.3,93.3 218.9,93.3 219.3,95.2 219.7,99.3 220.1,105.2 220.5,112.8 220.9,121.7 221.3,132.1 221.7,143.7 222.1,156.5 222.3,163.7 222.5,157.2 222.9,144.3 223.3,132.6 223.7,122.2 224.1,113.2 224.5,105.6 224.9,99.6 225.3,95.3 225.7,93.3 225.7,93.3 231.4,93.3 231.8,93.9 232.2,95.3 232.6,97.3 233.0,99.9 233.4,102.9 233.6,104.6 233.8,102.9 234.2,99.9 234.6,97.3 235.0,95.3 235.4,93.9 235.8,93.3 243.1,93.3 243.5,94.0 243.9,95.7 244.3,98.1 244.7,101.1 245.1,104.7 245.4,107.9 245.5,106.9 245.9,103.0 246.3,99.7 246.7,96.9 247.1,94.9 247.5,93.6 247.7,93.3 318.4,93.3 L318.40,93.30 Z" fill="url(#gba)" stroke="none"/>
<polyline points="12.1,93.3 12.3,93.3 12.7,94.0 13.1,95.8 13.5,98.2 13.9,101.3 14.3,105.0 14.6,108.6 14.7,107.9 15.1,103.8 15.5,100.3 15.9,97.4 16.3,95.2 16.7,93.7 16.9,93.3 20.2,93.3 20.6,93.7 21.0,94.5 21.4,95.7 21.8,97.2 22.2,99.0 22.6,97.2 23.0,95.7 23.4,94.5 23.8,93.7 24.2,93.3 25.0,93.3 25.4,93.6 25.8,94.1 26.2,94.9 26.6,96.0 26.9,97.0 27.0,96.8 27.4,95.6 27.8,94.6 28.2,93.9 28.6,93.4 28.8,93.3 37.3,93.3 37.7,93.9 38.1,95.3 38.5,97.3 38.9,99.7 39.3,102.7 39.5,104.3 39.7,102.5 40.1,99.5 40.5,97.1 40.9,95.2 41.3,93.8 41.7,93.3 46.6,93.3 47.0,94.0 47.4,95.5 47.8,97.6 48.2,100.4 48.6,103.6 48.8,105.7 49.0,104.1 49.4,100.8 49.8,98.0 50.2,95.8 50.6,94.2 50.6,94.0 51.0,93.7 51.0,93.8 51.0,93.8 51.4,94.9 51.8,96.5 52.2,98.6 52.6,101.0 52.7,101.6 53.0,99.6 53.4,97.4 53.8,95.6 54.2,94.2 54.6,93.4 54.8,93.3 55.5,93.3 55.9,94.6 56.3,97.5 56.7,101.7 57.1,106.9 57.5,113.2 57.9,120.4 58.1,124.4 58.3,120.4 58.7,113.2 59.1,106.9 59.5,101.7 59.9,97.5 60.3,94.6 60.7,93.3 67.0,93.3 67.4,93.7 67.8,94.8 68.2,96.2 68.6,98.0 69.0,100.2 69.1,100.6 69.4,98.7 69.8,96.7 70.2,95.1 70.6,94.0 70.8,93.7 71.0,93.5 71.2,93.6 71.2,93.7 71.6,94.6 72.0,95.8 72.4,97.4 72.8,99.3 72.8,99.4 73.2,97.5 73.6,95.9 74.0,94.6 74.4,93.7 74.8,93.3 74.8,93.3 79.5,93.3 79.9,93.4 80.3,93.8 80.7,94.2 81.1,94.8 81.4,95.3 81.5,95.1 81.9,94.4 82.3,93.9 82.7,93.5 83.1,93.3 83.3,93.3 85.7,93.3 86.1,93.5 86.5,94.0 86.9,94.7 87.3,95.6 87.7,96.7 88.0,97.7 88.1,97.5 88.5,96.3 88.9,95.3 89.3,94.5 89.7,93.8 90.1,93.4 90.3,93.3 94.0,93.3 94.8,93.9 95.2,94.4 95.6,95.0 96.0,95.6 96.0,95.7 96.4,96.3 96.8,97.0 97.1,97.5 97.2,97.3 97.6,96.7 98.0,96.1 98.4,95.7 98.8,95.4 99.2,95.2 99.4,95.2 100.0,95.3 101.7,95.5 102.1,96.0 102.5,97.0 102.9,98.5 103.3,100.4 103.7,102.6 103.8,103.0 104.1,101.1 104.5,99.2 104.9,97.6 105.0,97.4 105.3,96.4 105.7,95.7 105.9,95.6 106.8,95.3 107.2,95.4 107.6,95.7 108.0,96.1 108.4,96.8 108.8,97.5 109.1,98.1 109.2,97.9 109.6,96.8 110.0,96.0 110.4,95.1 110.8,94.4 111.2,93.8 111.4,93.7 112.0,93.3 127.1,93.3 127.5,93.7 127.9,94.5 128.3,95.7 128.7,97.3 129.1,99.1 129.4,100.5 129.5,99.8 129.9,97.8 130.3,96.2 130.7,94.9 131.1,93.9 131.5,93.3 131.7,93.3 136.4,93.3 136.8,93.6 137.2,94.3 137.6,95.2 138.0,96.5 138.4,97.9 138.6,98.7 138.8,97.8 139.2,96.4 139.6,95.2 140.0,94.2 140.4,93.6 140.8,93.3 144.9,93.3 145.3,94.3 145.7,96.6 146.1,99.9 146.5,104.0 146.9,108.9 147.1,111.7 147.3,108.9 147.7,104.0 148.1,99.9 148.5,96.6 148.6,95.8 148.9,94.5 149.0,94.2 149.3,94.1 149.4,94.4 149.8,95.5 150.2,96.9 150.6,98.5 150.6,98.4 151.0,96.8 151.4,95.4 151.8,94.3 152.2,93.6 152.6,93.3 177.6,93.3 178.0,93.8 178.4,95.0 178.8,96.7 179.2,98.8 179.6,101.3 179.7,102.0 180.0,100.0 180.4,97.7 180.8,95.8 181.2,94.3 181.6,93.5 181.8,93.3 192.7,93.3 193.1,93.4 193.5,93.7 193.9,94.2 194.3,94.7 194.7,95.4 195.0,95.9 195.1,95.7 195.5,95.0 195.9,94.4 196.3,93.9 196.7,93.5 197.1,93.3 197.3,93.3 218.9,93.3 219.3,95.2 219.7,99.3 220.1,105.2 220.5,112.8 220.9,121.7 221.3,132.1 221.7,143.7 222.1,156.5 222.3,163.7 222.5,157.2 222.9,144.3 223.3,132.6 223.7,122.2 224.1,113.2 224.5,105.6 224.9,99.6 225.3,95.3 225.7,93.3 225.7,93.3 231.4,93.3 231.8,93.9 232.2,95.3 232.6,97.3 233.0,99.9 233.4,102.9 233.6,104.6 233.8,102.9 234.2,99.9 234.6,97.3 235.0,95.3 235.4,93.9 235.8,93.3 243.1,93.3 243.5,94.0 243.9,95.7 244.3,98.1 244.7,101.1 245.1,104.7 245.4,107.9 245.5,106.9 245.9,103.0 246.3,99.7 246.7,96.9 247.1,94.9 247.5,93.6 247.7,93.3 318.4,93.3" fill="none" stroke="#151515" stroke-width="0.6" stroke-linejoin="round"/>
<path d="M12.00,167.40 L12.0,171.9 12.1,171.5 12.4,170.3 12.8,169.1 13.2,168.2 13.6,167.6 14.0,167.4 15.6,167.4 16.0,168.0 16.4,169.4 16.8,171.4 17.2,173.8 17.6,176.9 17.8,178.4 18.0,176.6 18.4,173.7 18.8,171.2 19.2,169.3 19.6,167.9 20.0,167.4 30.5,167.4 30.9,168.4 31.3,170.6 31.7,173.7 32.1,177.7 32.5,182.4 32.7,184.5 32.9,181.4 33.3,176.8 33.7,173.0 34.1,170.0 34.5,168.1 34.9,167.4 35.2,167.4 35.6,167.5 36.0,167.8 36.4,168.2 36.8,168.6 37.1,169.0 37.2,168.8 37.6,168.3 38.0,167.9 38.4,167.6 38.8,167.4 39.0,167.4 40.9,167.4 41.3,168.1 41.7,169.7 42.1,172.0 42.5,174.8 42.9,178.3 43.2,181.0 43.3,179.8 43.7,176.2 44.1,173.0 44.5,170.5 44.9,168.6 45.2,167.9 45.3,167.6 45.5,167.5 45.6,167.5 46.0,167.7 46.4,167.9 46.8,168.3 47.0,168.5 47.2,168.3 47.6,168.0 48.0,167.7 48.4,167.5 48.8,167.4 48.8,167.4 56.3,167.4 56.7,168.3 57.1,170.3 57.5,173.2 57.9,176.9 58.3,181.3 58.4,182.4 58.7,178.8 59.1,174.8 59.5,171.5 59.9,169.1 60.3,167.6 60.5,167.4 67.8,167.4 68.2,168.6 68.6,171.4 69.0,175.3 69.4,180.3 69.8,186.3 70.2,193.1 70.3,194.2 70.6,188.2 71.0,182.0 71.3,178.8 71.4,176.8 71.7,174.6 71.8,173.2 72.1,171.9 72.2,171.2 72.5,170.8 72.6,171.0 72.8,171.3 72.9,171.8 73.3,173.8 73.3,174.0 73.7,172.1 74.1,170.3 74.5,168.9 74.9,167.9 75.3,167.4 75.3,167.4 81.3,167.4 81.7,167.4 82.1,167.6 82.5,167.7 82.9,167.9 83.3,168.2 83.5,168.3 83.7,168.2 84.1,167.9 84.5,167.7 84.9,167.6 85.3,167.4 85.7,167.4 86.5,167.4 86.9,167.5 87.3,167.7 87.7,168.1 88.1,168.5 88.5,169.0 88.9,169.5 89.3,170.2 89.7,170.9 90.0,171.4 90.1,171.2 90.5,170.5 90.9,169.8 91.3,169.2 91.7,168.7 92.1,168.2 92.5,167.9 92.9,167.6 93.3,167.4 93.5,167.4 99.0,167.4 99.4,167.5 99.8,167.8 100.2,168.2 100.6,168.7 101.0,169.3 101.4,170.0 101.7,170.5 101.8,170.2 102.2,169.5 102.6,168.9 103.0,168.4 103.4,167.9 103.8,167.6 104.2,167.4 104.4,167.4 107.4,167.4 107.8,168.1 108.2,169.5 108.6,171.6 109.0,174.3 109.4,177.5 109.6,179.6 109.8,178.1 110.2,174.8 110.6,172.0 111.0,169.8 111.4,168.2 111.8,167.4 111.8,167.4 116.7,167.4 117.0,167.5 117.1,167.5 117.5,168.0 117.9,168.6 118.2,169.2 118.7,169.9 119.0,170.7 119.5,171.5 119.9,172.4 120.0,172.7 120.2,173.0 120.5,173.4 120.7,173.2 121.0,172.6 121.5,172.1 121.9,171.6 122.2,171.1 122.7,170.8 123.0,170.5 123.5,170.2 123.9,170.0 124.2,169.9 124.3,169.9 128.0,169.9 129.5,169.9 129.9,170.2 130.3,170.9 130.7,171.9 131.1,173.1 131.5,174.6 131.9,176.3 131.9,176.5 132.3,174.9 132.7,173.4 133.1,172.1 133.5,171.1 133.9,170.3 134.3,169.9 134.3,169.9 135.0,169.9 135.8,169.8 136.2,169.9 136.6,170.2 136.9,170.5 137.3,171.0 137.8,171.5 138.0,171.9 138.2,171.6 138.6,171.0 138.9,170.5 139.3,170.1 139.8,169.7 140.2,169.5 140.2,169.5 140.7,169.5 141.1,169.6 141.5,169.7 141.9,170.0 142.0,170.1 142.3,170.4 142.7,170.9 142.9,171.2 143.1,171.0 143.5,170.5 143.9,170.2 144.3,169.9 144.7,169.7 145.1,169.6 145.1,169.6 149.7,169.9 150.0,170.2 150.1,170.3 150.5,171.2 150.9,172.5 151.3,174.2 151.7,176.3 152.0,178.1 152.1,177.5 152.5,175.1 152.9,173.0 153.3,171.3 153.7,169.9 154.1,169.0 154.3,168.8 156.0,168.4 159.7,167.5 160.0,168.0 160.1,168.6 160.5,171.4 160.9,175.3 161.3,180.3 161.7,186.3 162.1,193.1 162.2,194.2 162.5,188.2 162.9,182.0 163.3,176.7 163.7,172.5 164.1,169.3 164.5,167.6 164.7,167.4 176.9,167.4 177.3,168.1 177.7,169.6 178.1,171.9 178.5,174.7 178.9,178.1 179.2,180.7 179.3,179.4 179.7,175.9 180.1,172.8 180.5,170.4 180.9,168.5 181.3,167.5 181.5,167.4 193.2,167.4 193.6,167.5 194.0,167.7 194.4,168.0 194.8,168.3 195.2,168.8 195.6,169.3 195.8,169.6 196.0,169.4 196.4,168.9 196.8,168.4 197.2,168.0 197.6,167.7 198.0,167.5 198.4,167.4 198.4,167.4 222.8,167.4 223.2,169.2 223.6,173.4 224.0,179.3 224.4,186.8 224.8,195.7 225.2,206.0 225.6,217.6 226.0,230.4 226.1,234.5 226.4,225.2 226.8,212.8 227.2,201.8 227.6,192.0 228.0,183.6 228.4,176.7 228.8,171.5 229.2,168.2 229.4,167.4 232.2,167.4 232.6,168.2 233.0,169.9 233.4,172.3 233.8,175.5 234.2,179.2 234.5,182.8 234.6,182.1 235.0,178.0 235.4,174.5 235.8,171.5 236.2,169.3 236.6,167.8 236.8,167.4 243.1,167.4 243.5,168.3 243.9,170.3 244.3,173.2 244.7,176.9 245.1,181.3 245.5,186.4 245.6,188.0 245.9,184.3 246.3,179.5 246.7,175.4 247.1,172.0 247.5,169.4 247.9,167.8 248.1,167.4 318.4,167.4 L318.40,167.40 Z" fill="url(#gpa)" stroke="none"/>
<polyline points="12.0,171.9 12.1,171.5 12.4,170.3 12.8,169.1 13.2,168.2 13.6,167.6 14.0,167.4 15.6,167.4 16.0,168.0 16.4,169.4 16.8,171.4 17.2,173.8 17.6,176.9 17.8,178.4 18.0,176.6 18.4,173.7 18.8,171.2 19.2,169.3 19.6,167.9 20.0,167.4 30.5,167.4 30.9,168.4 31.3,170.6 31.7,173.7 32.1,177.7 32.5,182.4 32.7,184.5 32.9,181.4 33.3,176.8 33.7,173.0 34.1,170.0 34.5,168.1 34.9,167.4 35.2,167.4 35.6,167.5 36.0,167.8 36.4,168.2 36.8,168.6 37.1,169.0 37.2,168.8 37.6,168.3 38.0,167.9 38.4,167.6 38.8,167.4 39.0,167.4 40.9,167.4 41.3,168.1 41.7,169.7 42.1,172.0 42.5,174.8 42.9,178.3 43.2,181.0 43.3,179.8 43.7,176.2 44.1,173.0 44.5,170.5 44.9,168.6 45.2,167.9 45.3,167.6 45.5,167.5 45.6,167.5 46.0,167.7 46.4,167.9 46.8,168.3 47.0,168.5 47.2,168.3 47.6,168.0 48.0,167.7 48.4,167.5 48.8,167.4 48.8,167.4 56.3,167.4 56.7,168.3 57.1,170.3 57.5,173.2 57.9,176.9 58.3,181.3 58.4,182.4 58.7,178.8 59.1,174.8 59.5,171.5 59.9,169.1 60.3,167.6 60.5,167.4 67.8,167.4 68.2,168.6 68.6,171.4 69.0,175.3 69.4,180.3 69.8,186.3 70.2,193.1 70.3,194.2 70.6,188.2 71.0,182.0 71.3,178.8 71.4,176.8 71.7,174.6 71.8,173.2 72.1,171.9 72.2,171.2 72.5,170.8 72.6,171.0 72.8,171.3 72.9,171.8 73.3,173.8 73.3,174.0 73.7,172.1 74.1,170.3 74.5,168.9 74.9,167.9 75.3,167.4 75.3,167.4 81.3,167.4 81.7,167.4 82.1,167.6 82.5,167.7 82.9,167.9 83.3,168.2 83.5,168.3 83.7,168.2 84.1,167.9 84.5,167.7 84.9,167.6 85.3,167.4 85.7,167.4 86.5,167.4 86.9,167.5 87.3,167.7 87.7,168.1 88.1,168.5 88.5,169.0 88.9,169.5 89.3,170.2 89.7,170.9 90.0,171.4 90.1,171.2 90.5,170.5 90.9,169.8 91.3,169.2 91.7,168.7 92.1,168.2 92.5,167.9 92.9,167.6 93.3,167.4 93.5,167.4 99.0,167.4 99.4,167.5 99.8,167.8 100.2,168.2 100.6,168.7 101.0,169.3 101.4,170.0 101.7,170.5 101.8,170.2 102.2,169.5 102.6,168.9 103.0,168.4 103.4,167.9 103.8,167.6 104.2,167.4 104.4,167.4 107.4,167.4 107.8,168.1 108.2,169.5 108.6,171.6 109.0,174.3 109.4,177.5 109.6,179.6 109.8,178.1 110.2,174.8 110.6,172.0 111.0,169.8 111.4,168.2 111.8,167.4 111.8,167.4 116.7,167.4 117.0,167.5 117.1,167.5 117.5,168.0 117.9,168.6 118.2,169.2 118.7,169.9 119.0,170.7 119.5,171.5 119.9,172.4 120.0,172.7 120.2,173.0 120.5,173.4 120.7,173.2 121.0,172.6 121.5,172.1 121.9,171.6 122.2,171.1 122.7,170.8 123.0,170.5 123.5,170.2 123.9,170.0 124.2,169.9 124.3,169.9 128.0,169.9 129.5,169.9 129.9,170.2 130.3,170.9 130.7,171.9 131.1,173.1 131.5,174.6 131.9,176.3 131.9,176.5 132.3,174.9 132.7,173.4 133.1,172.1 133.5,171.1 133.9,170.3 134.3,169.9 134.3,169.9 135.0,169.9 135.8,169.8 136.2,169.9 136.6,170.2 136.9,170.5 137.3,171.0 137.8,171.5 138.0,171.9 138.2,171.6 138.6,171.0 138.9,170.5 139.3,170.1 139.8,169.7 140.2,169.5 140.2,169.5 140.7,169.5 141.1,169.6 141.5,169.7 141.9,170.0 142.0,170.1 142.3,170.4 142.7,170.9 142.9,171.2 143.1,171.0 143.5,170.5 143.9,170.2 144.3,169.9 144.7,169.7 145.1,169.6 145.1,169.6 149.7,169.9 150.0,170.2 150.1,170.3 150.5,171.2 150.9,172.5 151.3,174.2 151.7,176.3 152.0,178.1 152.1,177.5 152.5,175.1 152.9,173.0 153.3,171.3 153.7,169.9 154.1,169.0 154.3,168.8 156.0,168.4 159.7,167.5 160.0,168.0 160.1,168.6 160.5,171.4 160.9,175.3 161.3,180.3 161.7,186.3 162.1,193.1 162.2,194.2 162.5,188.2 162.9,182.0 163.3,176.7 163.7,172.5 164.1,169.3 164.5,167.6 164.7,167.4 176.9,167.4 177.3,168.1 177.7,169.6 178.1,171.9 178.5,174.7 178.9,178.1 179.2,180.7 179.3,179.4 179.7,175.9 180.1,172.8 180.5,170.4 180.9,168.5 181.3,167.5 181.5,167.4 193.2,167.4 193.6,167.5 194.0,167.7 194.4,168.0 194.8,168.3 195.2,168.8 195.6,169.3 195.8,169.6 196.0,169.4 196.4,168.9 196.8,168.4 197.2,168.0 197.6,167.7 198.0,167.5 198.4,167.4 198.4,167.4 222.8,167.4 223.2,169.2 223.6,173.4 224.0,179.3 224.4,186.8 224.8,195.7 225.2,206.0 225.6,217.6 226.0,230.4 226.1,234.5 226.4,225.2 226.8,212.8 227.2,201.8 227.6,192.0 228.0,183.6 228.4,176.7 228.8,171.5 229.2,168.2 229.4,167.4 232.2,167.4 232.6,168.2 233.0,169.9 233.4,172.3 233.8,175.5 234.2,179.2 234.5,182.8 234.6,182.1 235.0,178.0 235.4,174.5 235.8,171.5 236.2,169.3 236.6,167.8 236.8,167.4 243.1,167.4 243.5,168.3 243.9,170.3 244.3,173.2 244.7,176.9 245.1,181.3 245.5,186.4 245.6,188.0 245.9,184.3 246.3,179.5 246.7,175.4 247.1,172.0 247.5,169.4 247.9,167.8 248.1,167.4 318.4,167.4" fill="none" stroke="#151515" stroke-width="0.6" stroke-linejoin="round"/>
<path d="M11.90,252.30 L11.9,273.0 12.1,270.0 12.4,265.5 12.8,260.8 13.2,256.9 13.6,254.1 14.0,252.5 14.2,252.3 21.2,252.3 21.6,252.9 22.0,254.2 22.4,256.0 22.8,258.4 23.2,261.2 23.4,262.5 23.6,260.6 24.0,257.9 24.4,255.6 24.8,253.9 25.2,252.7 25.6,252.3 35.6,252.3 36.0,253.3 36.5,255.7 36.9,259.1 37.2,263.4 37.6,268.6 37.7,269.7 37.9,272.2 38.0,270.1 38.1,269.0 38.5,265.0 38.5,264.1 38.9,260.9 38.9,260.2 39.2,257.8 39.3,257.4 39.6,255.9 39.7,255.6 40.0,255.2 40.0,255.0 40.1,254.7 40.1,254.7 40.5,254.0 40.9,253.4 41.3,252.9 41.7,252.5 42.1,252.3 42.3,252.3 48.1,252.3 48.5,254.2 48.9,258.3 49.3,264.2 49.7,271.7 50.1,280.7 50.5,291.0 50.9,302.6 51.3,315.4 51.4,319.5 51.7,310.2 52.1,297.8 52.5,286.7 52.9,277.0 53.1,271.3 53.3,268.8 53.5,265.2 53.7,263.8 53.9,262.3 54.1,262.0 54.3,262.5 54.5,263.4 54.7,265.9 54.7,266.2 55.1,272.6 55.5,280.0 55.8,285.3 55.9,282.4 56.3,274.7 56.7,268.0 57.1,262.3 57.5,257.7 57.9,254.4 58.3,252.5 58.5,252.3 60.6,252.3 61.0,252.4 61.4,252.6 61.8,252.9 62.2,253.3 62.6,253.7 62.8,254.0 63.0,253.8 63.4,253.3 63.8,252.9 64.2,252.6 64.6,252.4 65.0,252.3 65.0,252.3 66.1,252.3 66.5,254.1 66.9,258.0 67.3,263.8 67.7,271.0 68.1,279.7 68.5,289.6 68.9,300.8 68.9,301.1 69.3,290.1 69.7,280.1 70.1,271.4 70.5,264.1 70.9,258.3 70.9,258.2 71.3,254.5 71.3,254.4 71.7,253.2 71.7,253.2 71.7,253.2 72.1,254.1 72.5,255.2 72.9,256.5 73.3,258.0 73.7,256.5 74.1,255.2 74.5,254.1 74.9,253.2 75.3,252.6 75.7,252.3 76.4,252.3 76.8,252.9 77.2,254.2 77.6,256.0 78.0,258.4 78.4,261.2 78.6,262.5 78.8,260.6 79.2,257.9 79.6,255.6 80.0,253.9 80.4,252.7 80.8,252.3 85.0,252.3 86.4,253.7 86.8,254.8 87.2,256.9 87.6,259.8 88.0,263.2 88.0,263.5 88.4,267.0 88.7,270.5 88.8,269.7 89.2,265.7 89.6,262.2 90.0,259.4 90.3,257.7 90.4,257.3 90.7,256.3 90.8,256.2 91.0,256.1 91.1,256.2 91.5,256.8 91.9,257.6 92.3,258.5 92.6,259.4 92.7,259.2 93.1,258.2 93.5,257.4 93.9,256.7 94.3,256.2 94.7,255.9 94.9,255.9 97.4,256.1 97.8,256.7 98.2,258.2 98.6,260.2 99.0,262.7 99.4,265.8 99.6,267.4 99.8,265.6 100.0,264.2 100.2,262.7 100.6,260.1 100.7,259.4 101.0,258.3 101.1,257.9 101.4,257.3 101.5,257.2 101.8,257.4 101.9,257.7 102.3,258.6 102.7,259.7 103.1,260.8 103.1,260.7 103.5,259.4 103.9,258.3 104.3,257.4 104.7,256.7 105.1,256.2 105.5,256.0 106.0,256.0 106.4,256.3 106.8,256.9 107.2,257.7 107.6,258.8 108.0,260.2 108.4,261.7 108.8,260.1 109.2,258.8 109.6,257.6 110.0,256.7 110.4,256.1 110.8,255.8 113.0,255.9 113.4,256.7 113.8,258.2 114.2,260.4 114.6,263.2 115.0,266.5 115.2,268.8 115.4,267.3 115.8,263.9 116.2,261.0 116.6,258.7 117.0,257.1 117.4,256.2 117.4,256.2 120.0,256.3 121.7,256.1 122.1,256.5 122.5,257.5 122.9,258.8 123.3,260.5 123.7,262.6 123.7,262.8 124.1,260.9 124.5,259.0 124.9,257.5 125.3,256.4 125.7,255.8 125.7,255.7 130.0,255.3 133.0,255.5 133.4,256.7 133.8,259.4 134.2,263.4 134.6,268.3 135.0,274.3 135.4,281.1 135.5,282.2 135.8,276.2 136.2,270.1 136.6,264.9 137.0,260.6 137.4,257.6 137.8,255.8 138.0,255.7 140.0,255.8 141.3,255.8 141.7,256.1 142.1,256.7 142.5,257.6 142.9,258.8 143.3,260.2 143.7,261.8 143.7,261.8 144.1,260.2 144.5,258.9 144.9,257.7 145.3,256.8 145.7,256.1 146.1,255.8 146.1,255.8 147.0,255.8 147.4,256.5 147.8,258.0 148.2,260.1 148.6,262.9 149.0,266.1 149.2,268.2 149.4,266.6 149.8,263.3 150.0,261.6 150.2,260.5 150.6,258.2 151.0,256.5 151.4,255.7 151.4,255.6 153.4,255.4 153.8,255.9 154.2,257.1 154.6,259.0 155.0,261.3 155.4,264.1 155.6,265.3 155.8,263.4 156.2,260.6 156.6,258.3 157.0,256.5 157.4,255.3 157.8,254.8 158.0,254.8 160.6,253.9 161.0,253.9 161.4,254.3 161.8,254.8 162.2,255.5 162.6,256.3 162.9,257.1 163.0,256.9 163.4,255.7 163.8,254.6 164.2,253.7 164.6,252.9 165.0,252.4 165.0,252.4 165.2,252.3 179.4,252.3 179.8,252.7 180.2,253.7 180.6,255.2 181.0,257.0 181.4,259.1 181.7,261.0 181.8,260.4 182.2,258.1 182.6,256.1 183.0,254.5 183.4,253.2 183.8,252.5 184.0,252.3 192.4,252.3 192.8,252.6 193.2,253.1 193.6,253.9 194.0,254.9 194.4,256.1 194.8,257.4 194.8,257.3 195.2,255.9 195.6,254.8 196.0,253.8 196.4,253.0 196.8,252.5 197.2,252.3 200.8,252.3 201.2,254.1 201.6,258.2 202.0,264.1 202.4,271.5 202.8,280.4 203.2,290.6 203.6,302.1 203.9,310.5 204.0,306.4 204.4,294.5 204.8,283.8 205.2,274.5 205.6,266.5 206.0,260.1 206.4,255.3 206.8,252.6 207.0,252.3 233.3,252.3 233.7,252.4 234.1,252.5 234.5,252.7 234.9,252.9 235.3,253.1 235.7,253.4 235.9,253.6 236.1,253.4 236.5,253.1 236.9,252.9 237.3,252.6 237.7,252.5 238.1,252.3 238.5,252.3 318.4,252.3 L318.40,252.30 Z" fill="url(#gga)" stroke="none"/>
<polyline points="11.9,273.0 12.1,270.0 12.4,265.5 12.8,260.8 13.2,256.9 13.6,254.1 14.0,252.5 14.2,252.3 21.2,252.3 21.6,252.9 22.0,254.2 22.4,256.0 22.8,258.4 23.2,261.2 23.4,262.5 23.6,260.6 24.0,257.9 24.4,255.6 24.8,253.9 25.2,252.7 25.6,252.3 35.6,252.3 36.0,253.3 36.5,255.7 36.9,259.1 37.2,263.4 37.6,268.6 37.7,269.7 37.9,272.2 38.0,270.1 38.1,269.0 38.5,265.0 38.5,264.1 38.9,260.9 38.9,260.2 39.2,257.8 39.3,257.4 39.6,255.9 39.7,255.6 40.0,255.2 40.0,255.0 40.1,254.7 40.1,254.7 40.5,254.0 40.9,253.4 41.3,252.9 41.7,252.5 42.1,252.3 42.3,252.3 48.1,252.3 48.5,254.2 48.9,258.3 49.3,264.2 49.7,271.7 50.1,280.7 50.5,291.0 50.9,302.6 51.3,315.4 51.4,319.5 51.7,310.2 52.1,297.8 52.5,286.7 52.9,277.0 53.1,271.3 53.3,268.8 53.5,265.2 53.7,263.8 53.9,262.3 54.1,262.0 54.3,262.5 54.5,263.4 54.7,265.9 54.7,266.2 55.1,272.6 55.5,280.0 55.8,285.3 55.9,282.4 56.3,274.7 56.7,268.0 57.1,262.3 57.5,257.7 57.9,254.4 58.3,252.5 58.5,252.3 60.6,252.3 61.0,252.4 61.4,252.6 61.8,252.9 62.2,253.3 62.6,253.7 62.8,254.0 63.0,253.8 63.4,253.3 63.8,252.9 64.2,252.6 64.6,252.4 65.0,252.3 65.0,252.3 66.1,252.3 66.5,254.1 66.9,258.0 67.3,263.8 67.7,271.0 68.1,279.7 68.5,289.6 68.9,300.8 68.9,301.1 69.3,290.1 69.7,280.1 70.1,271.4 70.5,264.1 70.9,258.3 70.9,258.2 71.3,254.5 71.3,254.4 71.7,253.2 71.7,253.2 71.7,253.2 72.1,254.1 72.5,255.2 72.9,256.5 73.3,258.0 73.7,256.5 74.1,255.2 74.5,254.1 74.9,253.2 75.3,252.6 75.7,252.3 76.4,252.3 76.8,252.9 77.2,254.2 77.6,256.0 78.0,258.4 78.4,261.2 78.6,262.5 78.8,260.6 79.2,257.9 79.6,255.6 80.0,253.9 80.4,252.7 80.8,252.3 85.0,252.3 86.4,253.7 86.8,254.8 87.2,256.9 87.6,259.8 88.0,263.2 88.0,263.5 88.4,267.0 88.7,270.5 88.8,269.7 89.2,265.7 89.6,262.2 90.0,259.4 90.3,257.7 90.4,257.3 90.7,256.3 90.8,256.2 91.0,256.1 91.1,256.2 91.5,256.8 91.9,257.6 92.3,258.5 92.6,259.4 92.7,259.2 93.1,258.2 93.5,257.4 93.9,256.7 94.3,256.2 94.7,255.9 94.9,255.9 97.4,256.1 97.8,256.7 98.2,258.2 98.6,260.2 99.0,262.7 99.4,265.8 99.6,267.4 99.8,265.6 100.0,264.2 100.2,262.7 100.6,260.1 100.7,259.4 101.0,258.3 101.1,257.9 101.4,257.3 101.5,257.2 101.8,257.4 101.9,257.7 102.3,258.6 102.7,259.7 103.1,260.8 103.1,260.7 103.5,259.4 103.9,258.3 104.3,257.4 104.7,256.7 105.1,256.2 105.5,256.0 106.0,256.0 106.4,256.3 106.8,256.9 107.2,257.7 107.6,258.8 108.0,260.2 108.4,261.7 108.8,260.1 109.2,258.8 109.6,257.6 110.0,256.7 110.4,256.1 110.8,255.8 113.0,255.9 113.4,256.7 113.8,258.2 114.2,260.4 114.6,263.2 115.0,266.5 115.2,268.8 115.4,267.3 115.8,263.9 116.2,261.0 116.6,258.7 117.0,257.1 117.4,256.2 117.4,256.2 120.0,256.3 121.7,256.1 122.1,256.5 122.5,257.5 122.9,258.8 123.3,260.5 123.7,262.6 123.7,262.8 124.1,260.9 124.5,259.0 124.9,257.5 125.3,256.4 125.7,255.8 125.7,255.7 130.0,255.3 133.0,255.5 133.4,256.7 133.8,259.4 134.2,263.4 134.6,268.3 135.0,274.3 135.4,281.1 135.5,282.2 135.8,276.2 136.2,270.1 136.6,264.9 137.0,260.6 137.4,257.6 137.8,255.8 138.0,255.7 140.0,255.8 141.3,255.8 141.7,256.1 142.1,256.7 142.5,257.6 142.9,258.8 143.3,260.2 143.7,261.8 143.7,261.8 144.1,260.2 144.5,258.9 144.9,257.7 145.3,256.8 145.7,256.1 146.1,255.8 146.1,255.8 147.0,255.8 147.4,256.5 147.8,258.0 148.2,260.1 148.6,262.9 149.0,266.1 149.2,268.2 149.4,266.6 149.8,263.3 150.0,261.6 150.2,260.5 150.6,258.2 151.0,256.5 151.4,255.7 151.4,255.6 153.4,255.4 153.8,255.9 154.2,257.1 154.6,259.0 155.0,261.3 155.4,264.1 155.6,265.3 155.8,263.4 156.2,260.6 156.6,258.3 157.0,256.5 157.4,255.3 157.8,254.8 158.0,254.8 160.6,253.9 161.0,253.9 161.4,254.3 161.8,254.8 162.2,255.5 162.6,256.3 162.9,257.1 163.0,256.9 163.4,255.7 163.8,254.6 164.2,253.7 164.6,252.9 165.0,252.4 165.0,252.4 165.2,252.3 179.4,252.3 179.8,252.7 180.2,253.7 180.6,255.2 181.0,257.0 181.4,259.1 181.7,261.0 181.8,260.4 182.2,258.1 182.6,256.1 183.0,254.5 183.4,253.2 183.8,252.5 184.0,252.3 192.4,252.3 192.8,252.6 193.2,253.1 193.6,253.9 194.0,254.9 194.4,256.1 194.8,257.4 194.8,257.3 195.2,255.9 195.6,254.8 196.0,253.8 196.4,253.0 196.8,252.5 197.2,252.3 200.8,252.3 201.2,254.1 201.6,258.2 202.0,264.1 202.4,271.5 202.8,280.4 203.2,290.6 203.6,302.1 203.9,310.5 204.0,306.4 204.4,294.5 204.8,283.8 205.2,274.5 205.6,266.5 206.0,260.1 206.4,255.3 206.8,252.6 207.0,252.3 233.3,252.3 233.7,252.4 234.1,252.5 234.5,252.7 234.9,252.9 235.3,253.1 235.7,253.4 235.9,253.6 236.1,253.4 236.5,253.1 236.9,252.9 237.3,252.6 237.7,252.5 238.1,252.3 238.5,252.3 318.4,252.3" fill="none" stroke="#151515" stroke-width="0.6" stroke-linejoin="round"/>
<line x1="368.10" y1="91.0" x2="675.70" y2="91.0" stroke="#c6c6c6" stroke-width="1.8"/>
<path d="M368.90,91.00 L368.9,91.0 380.5,90.9 380.9,90.9 381.3,90.8 381.7,90.7 382.1,90.6 382.5,90.4 382.9,90.2 383.3,89.9 383.7,89.7 384.1,89.5 384.5,89.4 384.9,89.3 385.0,89.3 385.3,89.3 385.7,89.5 386.1,89.6 386.1,89.5 386.5,89.7 386.5,89.7 386.9,89.7 386.9,89.7 387.3,89.7 387.3,89.7 387.7,89.5 387.7,89.5 388.1,89.3 388.1,89.2 388.5,88.9 388.5,88.9 388.9,88.6 388.9,88.6 389.3,88.5 389.3,88.4 389.5,88.4 389.5,88.5 389.7,88.5 390.1,88.8 390.5,89.1 390.9,89.6 391.3,90.0 391.7,90.4 392.1,90.7 392.5,90.8 392.9,91.0 400.6,91.0 401.0,90.4 401.4,89.5 401.8,88.0 402.2,86.6 402.6,86.0 402.6,86.0 403.0,86.7 403.4,88.2 403.8,89.7 404.2,90.5 404.6,91.0 407.0,91.0 407.5,61.0 408.6,46.0 409.8,58.0 410.6,65.0 411.3,67.0 412.3,64.0 413.3,71.0 414.5,84.0 415.5,91.0 475.7,90.9 476.1,90.8 476.5,90.5 476.9,90.0 477.3,89.5 477.7,89.1 477.9,89.0 478.1,89.0 478.5,89.4 478.9,89.9 479.3,90.4 479.7,90.7 480.1,90.9 480.1,90.9 494.9,90.8 495.3,90.4 495.7,89.4 496.1,87.8 496.5,86.2 496.9,85.5 496.9,85.5 497.3,86.2 497.7,87.9 498.1,89.4 498.5,90.4 498.9,90.8 505.3,91.0 505.7,89.9 506.1,88.3 506.5,85.7 506.9,82.7 507.3,80.7 507.4,80.5 507.5,80.3 507.7,80.4 507.8,80.7 508.1,81.9 508.2,82.3 508.5,83.5 508.6,83.8 508.9,84.5 509.0,84.6 509.3,85.1 509.4,85.2 509.4,85.3 509.7,86.3 509.8,86.7 510.2,88.2 510.6,89.6 511.0,90.5 511.4,91.0 542.2,90.8 542.6,90.4 543.0,89.5 543.4,88.0 543.8,86.6 544.2,86.0 544.2,86.0 544.6,86.7 545.0,88.2 545.4,89.7 545.8,90.5 546.2,91.0 576.0,91.0 577.3,75.0 578.5,59.0 579.4,53.0 580.5,60.0 581.6,68.0 582.8,79.0 584.3,91.0 597.9,90.8 598.2,90.2 598.6,89.0 599.0,87.1 599.5,85.1 599.9,84.0 599.9,84.0 600.2,84.7 600.6,86.6 601.0,88.6 601.5,90.0 601.9,90.7 601.9,90.8 675.2,91.0 L675.20,91.00 Z" fill="#c2c2c2" stroke="none"/>
<polyline points="382.1,90.6 382.5,90.4 382.9,90.2 383.3,89.9 383.7,89.7 384.1,89.5 384.5,89.4 384.9,89.3 385.0,89.3 385.3,89.3 385.7,89.5 386.1,89.6 386.1,89.5 386.5,89.7 386.5,89.7 386.9,89.7 386.9,89.7 387.3,89.7 387.3,89.7 387.7,89.5 387.7,89.5 388.1,89.3 388.1,89.2 388.5,88.9 388.5,88.9 388.9,88.6 388.9,88.6 389.3,88.5 389.3,88.4 389.5,88.4 389.5,88.5 389.7,88.5 390.1,88.8 390.5,89.1 390.9,89.6 391.3,90.0 391.7,90.4" fill="none" stroke="#333" stroke-width="0.55"/>
<polyline points="401.0,90.4 401.4,89.5 401.8,88.0 402.2,86.6 402.6,86.0 402.6,86.0 403.0,86.7 403.4,88.2 403.8,89.7 404.2,90.5" fill="none" stroke="#333" stroke-width="0.55"/>
<polyline points="407.5,61.0 408.6,46.0 409.8,58.0 410.6,65.0 411.3,67.0 412.3,64.0 413.3,71.0 414.5,84.0" fill="none" stroke="#333" stroke-width="0.55"/>
<polyline points="476.5,90.5 476.9,90.0 477.3,89.5 477.7,89.1 477.9,89.0 478.1,89.0 478.5,89.4 478.9,89.9 479.3,90.4" fill="none" stroke="#333" stroke-width="0.55"/>
<polyline points="495.3,90.4 495.7,89.4 496.1,87.8 496.5,86.2 496.9,85.5 496.9,85.5 497.3,86.2 497.7,87.9 498.1,89.4 498.5,90.4" fill="none" stroke="#333" stroke-width="0.55"/>
<polyline points="505.7,89.9 506.1,88.3 506.5,85.7 506.9,82.7 507.3,80.7 507.4,80.5 507.5,80.3 507.7,80.4 507.8,80.7 508.1,81.9 508.2,82.3 508.5,83.5 508.6,83.8 508.9,84.5 509.0,84.6 509.3,85.1 509.4,85.2 509.4,85.3 509.7,86.3 509.8,86.7 510.2,88.2 510.6,89.6 511.0,90.5" fill="none" stroke="#333" stroke-width="0.55"/>
<polyline points="542.6,90.4 543.0,89.5 543.4,88.0 543.8,86.6 544.2,86.0 544.2,86.0 544.6,86.7 545.0,88.2 545.4,89.7 545.8,90.5" fill="none" stroke="#333" stroke-width="0.55"/>
<polyline points="577.3,75.0 578.5,59.0 579.4,53.0 580.5,60.0 581.6,68.0 582.8,79.0" fill="none" stroke="#333" stroke-width="0.55"/>
<polyline points="598.2,90.2 598.6,89.0 599.0,87.1 599.5,85.1 599.9,84.0 599.9,84.0 600.2,84.7 600.6,86.6 601.0,88.6 601.5,90.0" fill="none" stroke="#333" stroke-width="0.55"/>
<polyline points="371.3,90.6 371.7,90.4 371.9,90.3 372.1,90.4 372.5,90.5 372.8,90.7" fill="none" stroke="#1a1a1a" stroke-width="0.7" stroke-linejoin="round"/>
<polyline points="374.4,90.6 374.6,90.6 374.8,90.6 375.1,90.5 375.2,90.5 375.4,90.4 375.5,90.4 375.6,90.3 375.9,89.9 375.9,89.8 376.0,89.6 376.2,88.9 376.3,88.8 376.4,88.5 376.4,88.4 376.6,87.7 376.7,87.6 377.1,86.9 377.1,86.9 377.2,86.9 377.3,86.9 377.4,87.1 377.5,87.1 377.9,88.0 377.9,88.1 378.2,89.2 378.3,89.3 378.6,90.1 378.7,90.1 379.1,90.4 379.1,90.4 379.1,90.4 379.3,90.4 379.4,90.4 379.9,90.1 380.1,90.1 380.2,90.1 380.6,90.3 381.1,90.6 381.1,90.7" fill="none" stroke="#1a1a1a" stroke-width="0.7" stroke-linejoin="round"/>
<polyline points="381.9,90.5 381.9,90.5 381.9,90.4 382.2,90.0 382.3,89.5 382.6,88.8 382.7,88.0 383.0,87.1 383.0,87.1 383.1,86.5 383.4,85.9 383.5,85.8 383.5,85.7 383.6,85.7 383.8,85.9 383.9,86.3 383.9,86.4 384.0,86.7 384.2,86.9 384.3,87.3 384.3,87.3 384.4,87.5 384.6,87.7 384.7,87.6 384.7,87.6 384.8,87.6 384.8,87.5 385.0,87.2 385.1,86.7 385.2,86.3 385.3,86.1 385.4,85.9 385.4,85.8 385.5,85.5 385.6,85.2 385.7,85.0 385.9,84.9 385.9,85.0 386.0,85.1 386.1,85.3 386.3,85.9 386.4,86.4 386.5,86.7 386.7,87.7 386.8,88.2 386.9,88.4 387.0,88.8 387.1,88.8 387.1,88.8 387.2,88.9 387.2,89.0 387.3,89.1 387.4,89.1 387.6,88.8 387.7,88.6 387.8,88.7 387.8,88.5 387.9,88.2 388.1,87.1 388.2,86.6 388.3,86.2 388.5,85.1 388.6,84.7 388.7,84.4 388.9,84.0 388.9,84.0 389.0,84.0 389.0,84.0 389.0,83.7 389.1,83.7 389.4,84.0 389.4,84.0 389.5,84.1 389.7,84.1 389.8,84.1 389.8,84.1 389.9,84.0 389.9,83.8 390.2,83.3 390.2,83.2 390.3,83.1 390.3,83.0 390.6,83.0 390.6,83.0 390.7,83.1 390.7,83.3 390.8,83.8 391.0,84.7 391.1,85.1 391.1,85.5 391.4,87.1 391.5,87.5 391.5,87.9 391.8,88.8 391.8,89.0 391.9,89.1 391.9,89.3 392.2,89.8 392.2,90.1 392.3,90.2 392.6,90.4 392.7,90.5 393.1,90.6 393.1,90.7" fill="none" stroke="#1a1a1a" stroke-width="0.7" stroke-linejoin="round"/>
<polyline points="394.9,90.6 395.1,90.5 395.3,90.3 395.4,90.2 395.5,90.2 395.7,90.0 396.0,89.9 396.1,89.9 396.5,90.2 396.9,90.5 396.9,90.5" fill="none" stroke="#1a1a1a" stroke-width="0.7" stroke-linejoin="round"/>
<polyline points="398.1,90.7 398.5,90.5 398.7,90.5 398.9,90.5 399.0,90.5 399.3,90.6 399.4,90.7" fill="none" stroke="#1a1a1a" stroke-width="0.7" stroke-linejoin="round"/>
<polyline points="400.2,90.7 400.5,90.6 400.5,90.6 400.6,90.6 400.8,90.6 400.9,90.6 401.0,90.3 401.1,90.0 401.3,89.4 401.4,89.2 401.6,88.4 401.7,87.0 401.8,86.6 401.9,85.3 402.1,83.6 402.2,83.2 402.4,82.1 402.5,81.4 402.6,81.4 402.6,81.4 402.6,81.4 402.8,81.6 402.9,82.5 403.0,82.7 403.1,84.2 403.3,85.2 403.3,85.9 403.5,87.3 403.6,87.5 403.7,88.2 403.7,88.6 403.9,89.2 403.9,89.3 404.1,89.4 404.1,89.4 404.3,89.6 404.3,89.4 404.4,89.3 404.5,89.0 404.7,88.3 404.8,88.2 404.8,88.1 404.9,88.0 405.0,87.9 405.1,88.0 405.1,88.0 405.3,88.2 405.5,88.9 405.7,89.4 405.9,90.1 406.1,90.4" fill="none" stroke="#1a1a1a" stroke-width="0.7" stroke-linejoin="round"/>
<polyline points="406.8,90.4 406.9,87.9 406.9,86.9 407.2,70.8 407.2,70.2 407.6,45.6 407.6,45.5 408.0,39.3 408.2,36.0 408.4,33.3 408.4,32.9 408.6,30.5 408.8,33.7 408.8,34.2 409.2,39.8 409.2,40.3 409.6,45.7 409.6,45.8 409.6,46.3 410.0,52.6 410.0,53.1 410.1,53.3 410.3,56.9 410.3,57.6 410.4,59.3 410.8,63.7 410.8,63.6 411.2,63.1 411.4,62.9 411.6,61.1 411.6,60.9 412.0,57.9 412.0,57.8 412.0,57.7 412.1,57.5 412.4,55.4 412.7,53.7 412.8,55.0 413.2,59.4 413.4,61.8 413.5,62.5 413.6,64.5 414.0,71.1 414.3,75.8 414.3,76.2 414.4,77.1 414.7,80.7 414.8,81.6 415.1,85.0 415.2,85.7 415.2,85.8 415.2,86.1 415.5,88.3 415.8,90.3 415.9,90.3 416.2,90.2 416.3,90.3 416.7,90.4" fill="none" stroke="#1a1a1a" stroke-width="0.7" stroke-linejoin="round"/>
<polyline points="418.1,90.7 418.5,90.3 418.9,90.1 419.2,90.0 419.3,90.0 419.5,90.1 419.7,90.2 419.9,90.4 420.1,90.5 420.3,90.6 420.5,90.6 420.7,90.5 420.9,90.5 421.0,90.5 421.1,90.5 421.4,90.5 421.5,90.5 421.8,90.6 421.9,90.6" fill="none" stroke="#1a1a1a" stroke-width="0.7" stroke-linejoin="round"/>
<polyline points="423.1,90.7" fill="none" stroke="#1a1a1a" stroke-width="0.7" stroke-linejoin="round"/>
<polyline points="423.4,90.6 423.6,90.6 423.8,90.6" fill="none" stroke="#1a1a1a" stroke-width="0.7" stroke-linejoin="round"/>
<polyline points="426.0,90.7 426.4,90.5 426.6,90.5 426.8,90.5 427.2,90.6" fill="none" stroke="#1a1a1a" stroke-width="0.7" stroke-linejoin="round"/>
<polyline points="429.2,90.6 429.6,90.4 429.8,90.3 430.0,90.4 430.1,90.4 430.4,90.4 430.5,90.5 430.8,90.5 430.9,90.5 431.2,90.4 431.3,90.3 431.6,90.2 431.6,90.2 431.7,90.2 431.9,90.1 432.1,90.1 432.5,90.4 432.5,90.4 432.9,90.6 432.9,90.6" fill="none" stroke="#1a1a1a" stroke-width="0.7" stroke-linejoin="round"/>
<polyline points="433.7,90.7 433.7,90.6 434.1,90.5 434.4,90.5 434.5,90.5 434.6,90.5 434.9,90.6 435.0,90.6 435.3,90.7 435.4,90.7 435.7,90.6 435.8,90.6 436.1,90.6 436.2,90.5 436.2,90.6 436.4,90.5 436.6,90.6 436.7,90.5 437.0,90.6 437.1,90.6 437.4,90.6 437.5,90.6 437.8,90.5 437.9,90.5 438.2,90.4 438.2,90.4 438.3,90.4 438.5,90.4 438.7,90.4 439.1,90.5" fill="none" stroke="#1a1a1a" stroke-width="0.7" stroke-linejoin="round"/>
<polyline points="441.0,90.6 441.4,90.4 441.6,90.4 441.8,90.4 442.2,90.6" fill="none" stroke="#1a1a1a" stroke-width="0.7" stroke-linejoin="round"/>
<polyline points="444.0,90.4 444.4,90.2 444.6,90.1 444.8,90.2 445.2,90.4 445.6,90.7" fill="none" stroke="#1a1a1a" stroke-width="0.7" stroke-linejoin="round"/>
<polyline points="447.2,90.6 447.6,90.5 447.8,90.5 447.9,90.4 448.0,90.4 448.3,90.5 448.4,90.5 448.7,90.4 448.8,90.4 449.1,90.3 449.2,90.2 449.5,90.1 449.6,90.0 449.6,90.0 449.6,90.0 449.7,90.0 449.9,90.0 450.0,90.1 450.3,90.2 450.4,90.3 450.7,90.4 450.8,90.4 451.1,90.5 451.2,90.5 451.4,90.5 451.5,90.6 451.6,90.6 451.6,90.6" fill="none" stroke="#1a1a1a" stroke-width="0.7" stroke-linejoin="round"/>
<polyline points="453.2,90.6 453.3,90.6 453.3,90.6 453.7,90.5 453.9,90.5 454.1,90.5 454.5,90.6 454.6,90.7" fill="none" stroke="#1a1a1a" stroke-width="0.7" stroke-linejoin="round"/>
<polyline points="455.7,90.6 455.7,90.6 455.8,90.6 456.2,90.4 456.4,90.4 456.6,90.4 457.0,90.5 457.3,90.7" fill="none" stroke="#1a1a1a" stroke-width="0.7" stroke-linejoin="round"/>
<polyline points="458.1,90.7 458.2,90.6 458.3,90.6 458.5,90.4 458.9,90.2 459.1,90.1 459.3,90.1 459.4,90.2 459.7,90.3 459.8,90.3 460.1,90.4 460.2,90.4 460.5,90.3 460.6,90.2 460.9,90.1 460.9,90.0 461.0,90.0 461.3,89.9 461.4,90.0 461.4,90.0 461.8,90.2 461.8,90.2 462.2,90.5 462.2,90.5 462.6,90.7 462.6,90.7" fill="none" stroke="#1a1a1a" stroke-width="0.7" stroke-linejoin="round"/>
<polyline points="465.9,90.6 465.9,90.6 466.1,90.6 466.3,90.6 466.3,90.6 466.7,90.6 466.7,90.6 467.1,90.6 467.1,90.6 467.5,90.6 467.5,90.6 467.7,90.7 467.9,90.7 467.9,90.7" fill="none" stroke="#1a1a1a" stroke-width="0.7" stroke-linejoin="round"/>
<polyline points="468.9,90.7 469.1,90.6 469.3,90.5 469.5,90.4 469.5,90.4 469.7,90.4 469.8,90.3 469.9,90.3 470.1,90.3 470.2,90.3 470.5,90.4 470.6,90.4 470.9,90.5 471.0,90.5 471.3,90.5 471.4,90.5 471.6,90.5 471.7,90.5 471.8,90.5 471.8,90.5 472.2,90.7 472.2,90.6" fill="none" stroke="#1a1a1a" stroke-width="0.7" stroke-linejoin="round"/>
<polyline points="473.0,90.7 473.0,90.7 473.4,90.5 473.4,90.4 473.4,90.4 473.8,90.2 474.0,90.2 474.2,90.2 474.6,90.4 475.0,90.7" fill="none" stroke="#1a1a1a" stroke-width="0.7" stroke-linejoin="round"/>
<polyline points="476.1,90.6 476.2,90.3 476.5,89.9 476.6,89.6 476.8,89.0 476.9,88.9 477.0,88.5 477.3,87.7 477.4,87.4 477.7,86.8 477.8,86.8 477.9,86.8 478.1,87.0 478.2,87.2 478.2,87.3 478.5,88.1 478.6,88.4 478.6,88.5 478.7,88.7 478.9,89.4 479.0,89.6 479.3,90.1 479.4,90.2 479.7,90.4 479.7,90.5 479.8,90.5 480.0,90.5 480.2,90.5 480.6,90.6" fill="none" stroke="#1a1a1a" stroke-width="0.7" stroke-linejoin="round"/>
<polyline points="482.4,90.6 482.6,90.6 482.8,90.6 482.9,90.6 483.2,90.7" fill="none" stroke="#1a1a1a" stroke-width="0.7" stroke-linejoin="round"/>
<polyline points="484.4,90.7 484.4,90.7 484.5,90.6 484.8,90.6 484.9,90.6 485.1,90.6 485.3,90.7" fill="none" stroke="#1a1a1a" stroke-width="0.7" stroke-linejoin="round"/>
<polyline points="486.3,90.7 486.5,90.6 486.6,90.6 486.7,90.6 486.9,90.6 487.1,90.6 487.5,90.7" fill="none" stroke="#1a1a1a" stroke-width="0.7" stroke-linejoin="round"/>
<polyline points="489.3,90.6 489.7,90.4 490.0,90.4 490.1,90.4 490.5,90.6" fill="none" stroke="#1a1a1a" stroke-width="0.7" stroke-linejoin="round"/>
<polyline points="491.9,90.7 492.1,90.5 492.4,90.3 492.5,90.1 492.7,89.8 492.8,89.8 492.9,89.5 493.1,89.1 493.2,89.0 493.3,88.9 493.6,88.7 493.6,88.7 493.7,88.7 493.7,88.7 493.9,88.9 494.0,89.0 494.1,89.1 494.4,89.4 494.4,89.5 494.5,89.6 494.6,89.7 494.8,89.9 494.8,90.0 495.1,90.2 495.1,90.3 495.2,90.0 495.2,90.0 495.4,89.6 495.6,89.2 495.6,89.1 495.9,87.5 496.0,86.7 496.0,86.5 496.3,84.0 496.4,82.9 496.4,82.7 496.7,80.7 496.8,80.3 496.8,80.3 496.9,80.2 496.9,80.2 496.9,80.2 497.1,80.3 497.2,80.8 497.3,81.4 497.5,82.7 497.6,83.4 497.7,84.1 497.7,84.1 497.9,85.1 498.0,85.6 498.1,86.0 498.3,86.6 498.4,86.9 498.4,86.9 498.5,87.2 498.6,87.5 498.7,88.1 498.9,88.8 498.9,88.8 499.1,89.5 499.3,90.0 499.3,90.0 499.5,90.4 499.6,90.5 499.7,90.6 499.7,90.6" fill="none" stroke="#1a1a1a" stroke-width="0.7" stroke-linejoin="round"/>
<polyline points="500.1,90.7 500.5,90.6 500.7,90.5 500.9,90.6 501.3,90.7" fill="none" stroke="#1a1a1a" stroke-width="0.7" stroke-linejoin="round"/>
<polyline points="503.0,90.4 503.4,90.2 503.5,90.2 503.6,90.1 503.8,90.1 503.9,90.1 503.9,89.9 504.2,89.6 504.3,89.4 504.4,89.3 504.6,88.4 504.7,87.8 504.8,87.7 505.0,86.2 505.1,85.6 505.1,85.5 505.4,84.8 505.4,84.7 505.4,84.7 505.5,84.6 505.5,84.7 505.5,84.7 505.6,84.7 505.6,84.8 505.8,84.4 505.9,84.6 505.9,84.6 506.0,84.6 506.2,84.5 506.3,84.1 506.4,83.9 506.4,83.4 506.6,82.1 506.7,80.7 506.8,80.3 506.8,79.3 507.0,77.4 507.1,76.7 507.1,76.1 507.2,75.5 507.2,75.3 507.2,75.0 507.4,74.1 507.5,73.9 507.5,73.9 507.6,74.2 507.8,75.0 507.8,74.9 507.9,76.1 508.0,77.1 508.2,78.4 508.2,78.7 508.3,80.0 508.4,80.7 508.6,81.4 508.6,81.5 508.7,81.8 508.8,81.7 509.0,81.5 509.0,81.5 509.0,81.5 509.1,81.2 509.2,81.1 509.4,81.2 509.4,81.7 509.4,81.7 509.5,81.9 509.8,83.1 509.8,83.4 509.9,84.5 510.2,86.4 510.2,86.8 510.2,87.1 510.3,87.7 510.6,88.9 510.6,89.0 510.6,89.2 510.7,89.4 511.0,89.6 511.0,89.6 511.0,89.8 511.1,89.8 511.1,89.7 511.2,89.6 511.4,89.1 511.4,89.0 511.6,88.7 511.8,88.5 511.9,88.5 512.0,88.5 512.2,88.7 512.2,88.7 512.6,89.4 512.6,89.5 512.9,90.1 513.0,90.2 513.0,90.3 513.3,90.6 513.4,90.6 513.5,90.6 513.7,90.6 513.8,90.6 514.1,90.4 514.5,90.1 514.8,90.1 514.9,90.1 515.3,90.3 515.3,90.3 515.7,90.5 515.7,90.5 516.1,90.6 516.1,90.6 516.5,90.5 516.5,90.5 516.6,90.5 516.9,90.4 517.1,90.4 517.3,90.4 517.7,90.6" fill="none" stroke="#1a1a1a" stroke-width="0.7" stroke-linejoin="round"/>
<polyline points="518.9,90.7 519.0,90.7 519.4,90.3 519.8,90.1 520.0,90.0 520.2,90.0 520.6,90.3 521.0,90.5 521.4,90.6 521.8,90.4 521.9,90.4 522.2,90.2 522.4,90.1 522.6,90.2 523.0,90.4 523.4,90.7" fill="none" stroke="#1a1a1a" stroke-width="0.7" stroke-linejoin="round"/>
<polyline points="524.5,90.7 524.9,90.4 525.3,90.1 525.5,90.1 525.7,90.1 526.1,90.3 526.3,90.5 526.5,90.6 526.7,90.6 526.9,90.7 527.1,90.6 527.3,90.5 527.3,90.4 527.5,90.3 527.9,90.1 528.1,90.0 528.3,90.0 528.7,90.3 529.1,90.6" fill="none" stroke="#1a1a1a" stroke-width="0.7" stroke-linejoin="round"/>
<polyline points="531.1,90.6 531.3,90.6 531.5,90.6" fill="none" stroke="#1a1a1a" stroke-width="0.7" stroke-linejoin="round"/>
<polyline points="533.8,90.7 534.0,90.6 534.2,90.7" fill="none" stroke="#1a1a1a" stroke-width="0.7" stroke-linejoin="round"/>
<polyline points="534.6,90.7" fill="none" stroke="#1a1a1a" stroke-width="0.7" stroke-linejoin="round"/>
<polyline points="535.0,90.7 535.3,90.6 535.4,90.5 535.7,90.3 535.8,90.2 535.8,90.2 536.1,90.0 536.2,89.9 536.3,89.9 536.5,89.9 536.6,89.9 536.9,89.9 537.0,89.9 537.3,89.9 537.4,89.9 537.7,89.9 537.8,89.9 538.0,89.9 538.1,89.9 538.2,90.0 538.2,90.0 538.3,90.1 538.6,90.2 538.7,90.3 539.0,90.5 539.1,90.5 539.4,90.5 539.5,90.5 539.8,90.5 539.8,90.4 539.9,90.4 540.1,90.4 540.3,90.4 540.7,90.6" fill="none" stroke="#1a1a1a" stroke-width="0.7" stroke-linejoin="round"/>
<polyline points="542.3,90.6 542.5,90.1 542.7,89.9 542.8,89.5 542.9,89.1 542.9,89.0 543.1,88.3 543.2,87.5 543.3,86.4 543.5,85.2 543.6,84.1 543.7,82.9 543.9,81.8 544.0,81.1 544.1,80.6 544.2,80.6 544.3,80.6 544.4,81.0 544.5,81.8 544.6,82.4 544.7,82.8 544.7,82.9 544.7,83.2 544.8,84.0 544.9,85.3 545.1,86.5 545.2,87.5 545.3,88.4 545.5,89.1 545.6,89.6 545.7,90.0 545.9,90.2 545.9,90.2 546.0,90.5 546.3,90.4 546.4,90.4 546.4,90.5 546.5,90.5 546.7,90.5 546.7,90.5 547.0,90.5 547.1,90.4 547.1,90.4 547.4,90.2 547.5,90.2 547.5,90.1 547.8,89.4 547.9,89.4 547.9,89.2 548.2,88.4 548.3,88.3 548.3,88.2 548.3,88.1 548.5,87.7 548.6,87.6 548.7,87.6 548.7,87.6 548.8,87.6 549.0,87.8 549.1,87.9 549.1,88.0 549.4,88.8 549.5,88.9 549.5,89.0 549.8,89.5 549.8,89.6 549.9,89.7 549.9,89.7 550.2,89.9 550.2,89.9 550.3,89.9 550.3,89.9 550.4,89.8 550.5,89.8 550.6,89.7 550.6,89.8 550.7,89.7 551.0,89.3 551.1,89.2 551.2,89.0 551.4,89.0 551.5,89.0 551.5,89.0 551.6,89.0 551.8,89.1 551.9,89.3 552.0,89.5 552.2,89.6 552.3,89.8 552.3,89.8 552.4,90.0 552.6,90.1 552.8,90.2 553.0,90.3 553.0,90.3 553.1,90.4 553.2,90.4 553.2,90.4 553.5,90.5 553.6,90.6 553.9,90.7 554.0,90.7" fill="none" stroke="#1a1a1a" stroke-width="0.7" stroke-linejoin="round"/>
<polyline points="557.4,90.4 557.8,90.2 558.0,90.1 558.2,90.2 558.6,90.4 559.0,90.7" fill="none" stroke="#1a1a1a" stroke-width="0.7" stroke-linejoin="round"/>
<polyline points="560.5,90.6 560.9,90.4 561.1,90.4 561.3,90.4 561.7,90.5" fill="none" stroke="#1a1a1a" stroke-width="0.7" stroke-linejoin="round"/>
<polyline points="565.5,90.7 565.6,90.6 565.9,90.6 566.0,90.6 566.0,90.6 566.1,90.6 566.2,90.6 566.4,90.6 566.6,90.6 566.8,90.6 567.0,90.6 567.2,90.5 567.5,90.4 567.6,90.2 567.9,90.1 567.9,90.0 568.0,90.0 568.0,90.0 568.3,89.9 568.4,89.9 568.5,89.9 568.8,90.1 568.9,90.1 569.2,90.4 569.2,90.4 569.6,90.6 569.6,90.6 569.9,90.7" fill="none" stroke="#1a1a1a" stroke-width="0.7" stroke-linejoin="round"/>
<polyline points="570.9,89.4 571.1,88.5 571.2,87.8 571.5,86.8 571.6,86.0 571.7,85.9 571.9,85.0 572.3,83.1 572.4,82.5 572.7,83.5 572.8,83.9 572.9,84.3 573.1,85.0 573.2,85.5 573.5,86.6 573.5,86.8 573.6,86.6 573.9,86.0 574.0,85.7 574.3,85.0 574.4,84.7 574.6,84.3 574.7,84.2 574.7,84.2 574.8,84.0 575.2,83.5 575.6,83.1 575.9,82.7 576.0,82.5 576.2,82.1 576.3,81.2 576.4,80.0 576.5,79.3 576.7,76.9 577.1,72.5 577.3,70.2 577.5,66.7 577.5,66.1 577.7,62.4 577.9,59.3 577.9,58.8 578.3,52.2 578.3,51.7 578.4,50.3 578.7,46.5 578.7,46.1 579.1,41.2 579.1,40.8 579.3,37.9 579.4,37.0 579.5,38.0 579.5,38.4 579.6,38.9 579.9,43.2 580.3,47.6 580.3,47.9 580.7,52.6 580.9,55.2 581.1,57.4 581.1,57.7 581.3,59.6 581.5,61.9 581.9,66.0 582.3,69.5 582.3,69.9 582.3,70.1 582.7,73.5 582.7,74.1 582.8,74.4 583.1,77.4 583.5,81.1 583.5,81.5 583.9,83.9 584.0,85.0 584.1,85.3 584.2,86.3 584.3,86.5 584.4,87.6 584.6,88.9 584.7,89.1 584.8,90.0 584.8,89.9 585.0,89.6 585.1,89.6 585.2,89.2 585.4,88.8 585.5,88.7 585.6,88.4 585.8,88.1 585.8,88.1 585.9,88.1 585.9,88.1 586.0,88.1 586.0,88.1 586.2,88.3 586.4,88.6 586.6,89.1 586.8,89.6 586.9,89.7 587.0,90.1 587.2,90.4 587.2,90.4 587.4,90.6" fill="none" stroke="#1a1a1a" stroke-width="0.7" stroke-linejoin="round"/>
<polyline points="588.5,90.6 588.7,90.6 588.9,90.6" fill="none" stroke="#1a1a1a" stroke-width="0.7" stroke-linejoin="round"/>
<polyline points="590.5,90.6 590.5,90.6 590.7,90.5 591.1,90.3 591.3,90.2 591.5,90.3 591.9,90.5" fill="none" stroke="#1a1a1a" stroke-width="0.7" stroke-linejoin="round"/>
<polyline points="592.3,90.7" fill="none" stroke="#1a1a1a" stroke-width="0.7" stroke-linejoin="round"/>
<polyline points="593.5,90.5 593.9,90.4 594.1,90.3 594.3,90.3 594.4,90.4 594.7,90.5 594.8,90.5 595.1,90.7" fill="none" stroke="#1a1a1a" stroke-width="0.7" stroke-linejoin="round"/>
<polyline points="597.9,90.2 598.0,90.1 598.0,90.1 598.0,90.0 598.3,88.7 598.4,88.6 598.7,85.8 598.8,85.6 599.0,83.2 599.1,81.6 599.2,81.4 599.3,79.5 599.5,77.7 599.6,77.6 599.7,76.6 599.9,76.4 599.9,76.4 600.0,76.5 600.1,77.2 600.3,78.6 600.4,78.8 600.5,80.6 600.7,82.8 600.8,83.0 600.8,83.8 600.9,84.8 601.1,86.0 601.1,86.6 601.2,86.8 601.3,87.9 601.5,88.6 601.5,88.9 601.7,89.6 601.9,89.8 601.9,90.3 602.1,90.4 602.3,90.4 602.5,90.4 602.7,90.4 602.9,90.4 602.9,90.4 603.0,90.4 603.1,90.4 603.5,90.6 603.6,90.7" fill="none" stroke="#1a1a1a" stroke-width="0.7" stroke-linejoin="round"/>
<polyline points="604.7,90.6 604.7,90.6 604.8,90.5 605.2,90.3 605.5,90.3 605.6,90.3 605.7,90.3 606.0,90.4 606.1,90.4 606.4,90.5 606.5,90.5 606.8,90.4 606.9,90.4 607.2,90.2 607.3,90.2 607.3,90.2 607.5,90.2 607.7,90.2 608.1,90.4 608.5,90.7" fill="none" stroke="#1a1a1a" stroke-width="0.7" stroke-linejoin="round"/>
<path d="M368.90,93.50 L368.9,93.7 369.0,93.8 369.4,94.4 369.8,95.2 370.2,96.3 370.5,97.4 370.6,97.2 371.0,96.0 371.4,94.9 371.8,94.2 372.2,93.6 372.4,93.5 372.8,93.5 373.2,94.0 373.6,95.0 374.0,96.6 374.4,98.6 374.8,100.9 374.9,101.4 375.2,99.4 375.6,97.4 375.6,97.3 376.0,95.9 376.0,95.8 376.4,95.1 376.4,95.1 376.8,95.0 376.8,95.0 377.0,95.2 377.2,95.7 377.5,96.5 377.6,96.2 378.0,95.3 378.4,94.5 378.8,93.9 379.2,93.6 379.4,93.5 384.0,93.5 384.4,93.7 384.8,94.0 385.2,94.5 385.6,95.1 386.0,95.9 386.3,96.5 386.4,96.3 386.8,95.5 387.2,94.8 387.6,94.2 388.0,93.8 388.4,93.5 388.6,93.5 398.9,93.5 399.3,94.3 399.7,96.1 400.1,98.6 400.5,101.8 400.9,105.6 401.3,110.0 401.7,114.9 402.1,110.0 402.5,105.6 402.9,101.8 403.3,98.6 403.7,96.1 404.1,94.3 404.5,93.5 412.7,93.5 413.1,94.7 413.5,97.4 413.9,101.3 414.3,106.2 414.7,112.0 415.1,118.7 415.5,126.3 415.9,134.7 416.1,139.4 416.3,135.1 416.7,126.7 417.1,119.1 417.5,112.3 417.9,106.4 418.3,101.5 418.7,97.5 419.1,94.8 419.5,93.5 419.5,93.5 422.1,93.5 422.5,94.5 422.9,96.8 423.3,100.0 423.7,104.1 424.1,109.0 424.3,111.4 424.5,108.4 424.9,103.6 425.3,99.6 425.7,96.5 426.1,94.4 426.5,93.5 429.0,93.5 429.4,93.9 429.8,94.7 430.2,95.8 430.6,97.3 431.0,99.1 431.4,97.3 431.8,95.8 432.2,94.7 432.6,93.9 433.0,93.5 439.3,93.5 439.7,93.6 440.1,93.8 440.5,94.1 440.9,94.5 441.3,94.9 441.5,95.2 441.7,95.0 442.1,94.5 442.5,94.1 442.9,93.8 443.3,93.6 443.6,93.5 443.7,93.5 443.7,93.5 444.0,93.6 444.4,93.8 444.8,94.1 445.2,94.5 445.6,94.9 445.8,95.2 446.0,95.0 446.4,94.5 446.8,94.1 447.2,93.8 447.6,93.6 448.0,93.5 448.0,93.5 457.6,93.5 458.0,93.7 458.4,94.0 458.8,94.5 459.2,95.1 459.6,95.9 459.9,96.5 460.0,96.3 460.4,95.5 460.8,94.8 461.2,94.2 461.6,93.8 462.0,93.5 462.2,93.5 463.4,93.5 463.8,94.0 464.2,95.0 464.6,96.6 465.0,98.6 465.4,100.9 465.5,101.4 465.8,99.4 466.2,97.3 466.6,95.6 467.0,94.3 467.4,93.6 467.6,93.5 476.6,93.5 477.0,93.6 477.4,93.9 477.8,94.3 478.2,94.9 478.6,95.5 478.9,96.0 479.0,95.8 479.4,95.1 479.8,94.5 480.2,94.1 480.6,93.7 481.0,93.5 481.2,93.5 485.0,93.5 486.3,95.4 486.7,96.5 487.0,98.1 487.1,98.3 487.5,100.1 487.9,102.3 488.3,105.0 488.4,106.0 488.7,104.1 489.1,101.4 489.4,99.6 489.5,99.2 489.8,97.9 489.9,97.6 490.2,96.8 490.3,96.7 490.5,96.5 490.6,96.5 491.0,96.7 491.0,96.8 491.4,97.1 491.8,97.5 492.2,97.9 492.6,98.4 492.8,98.7 493.0,98.4 493.4,98.0 493.8,97.5 494.2,97.1 494.6,96.8 495.0,96.5 495.0,96.5 495.4,96.3 495.8,96.3 496.2,96.3 496.2,96.3 499.0,97.0 499.1,97.0 499.5,97.4 499.9,98.2 500.3,99.3 500.7,100.6 501.1,102.2 501.5,104.0 501.5,104.1 501.9,102.6 502.3,101.2 502.7,100.0 503.0,99.3 503.1,99.1 503.5,98.3 503.9,97.9 503.9,97.9 504.2,97.8 504.6,98.7 505.1,100.8 505.4,103.9 505.9,107.7 506.2,112.4 506.4,114.3 506.6,111.1 507.0,107.1 507.1,106.5 507.4,102.7 507.6,101.0 507.9,99.7 508.1,98.7 508.2,98.0 508.4,97.8 508.6,97.8 508.9,98.2 509.2,99.0 509.6,99.9 510.0,100.9 510.1,100.7 510.4,99.3 510.9,98.2 511.0,97.8 511.2,97.1 511.6,96.3 512.0,95.7 512.4,95.5 514.1,94.8 514.5,94.8 514.9,94.9 515.0,95.0 515.3,95.2 515.7,95.5 516.1,95.9 516.4,96.3 516.5,96.0 516.9,95.1 517.0,95.0 517.3,94.5 517.7,94.0 518.1,93.7 518.5,93.5 518.7,93.5 534.9,93.5 535.3,94.3 535.7,96.2 536.1,98.8 536.5,102.2 536.9,106.3 536.9,106.7 537.3,103.0 537.7,99.5 538.1,96.6 538.5,94.6 538.9,93.5 538.9,93.5 542.3,93.5 542.7,93.6 543.1,93.8 543.5,94.1 543.9,94.5 544.3,95.0 544.5,95.3 544.7,95.1 545.1,94.6 545.5,94.2 545.9,93.9 546.3,93.6 546.7,93.5 546.7,93.5 551.7,93.5 552.1,93.8 552.5,94.5 552.9,95.6 553.3,96.9 553.7,98.3 553.7,98.2 554.1,96.7 554.5,95.4 554.9,94.4 555.3,93.7 555.7,93.5 579.2,93.5 579.6,95.4 580.0,99.5 580.5,105.5 580.9,113.0 581.2,121.9 581.6,132.3 582.0,143.9 582.5,156.7 582.6,161.8 582.9,153.4 583.2,140.8 583.6,129.6 584.0,119.6 584.5,111.0 584.9,103.8 585.2,98.3 585.6,94.6 586.0,93.5 589.1,93.5 589.5,94.5 590.0,96.6 590.4,99.7 590.8,103.7 591.1,108.4 591.3,110.3 591.5,107.1 592.0,102.6 592.4,98.9 592.8,96.0 593.1,94.1 593.5,93.5 601.4,93.5 601.8,94.5 602.2,96.8 602.6,100.2 603.0,104.4 603.4,109.4 603.6,112.5 603.8,110.0 604.2,104.9 604.6,100.6 605.0,97.1 605.4,94.7 605.8,93.5 605.8,93.5 675.2,93.5 L675.20,93.50 Z" fill="url(#gbb)" stroke="none"/>
<polyline points="368.9,93.7 369.0,93.8 369.4,94.4 369.8,95.2 370.2,96.3 370.5,97.4 370.6,97.2 371.0,96.0 371.4,94.9 371.8,94.2 372.2,93.6 372.4,93.5 372.8,93.5 373.2,94.0 373.6,95.0 374.0,96.6 374.4,98.6 374.8,100.9 374.9,101.4 375.2,99.4 375.6,97.4 375.6,97.3 376.0,95.9 376.0,95.8 376.4,95.1 376.4,95.1 376.8,95.0 376.8,95.0 377.0,95.2 377.2,95.7 377.5,96.5 377.6,96.2 378.0,95.3 378.4,94.5 378.8,93.9 379.2,93.6 379.4,93.5 384.0,93.5 384.4,93.7 384.8,94.0 385.2,94.5 385.6,95.1 386.0,95.9 386.3,96.5 386.4,96.3 386.8,95.5 387.2,94.8 387.6,94.2 388.0,93.8 388.4,93.5 388.6,93.5 398.9,93.5 399.3,94.3 399.7,96.1 400.1,98.6 400.5,101.8 400.9,105.6 401.3,110.0 401.7,114.9 402.1,110.0 402.5,105.6 402.9,101.8 403.3,98.6 403.7,96.1 404.1,94.3 404.5,93.5 412.7,93.5 413.1,94.7 413.5,97.4 413.9,101.3 414.3,106.2 414.7,112.0 415.1,118.7 415.5,126.3 415.9,134.7 416.1,139.4 416.3,135.1 416.7,126.7 417.1,119.1 417.5,112.3 417.9,106.4 418.3,101.5 418.7,97.5 419.1,94.8 419.5,93.5 419.5,93.5 422.1,93.5 422.5,94.5 422.9,96.8 423.3,100.0 423.7,104.1 424.1,109.0 424.3,111.4 424.5,108.4 424.9,103.6 425.3,99.6 425.7,96.5 426.1,94.4 426.5,93.5 429.0,93.5 429.4,93.9 429.8,94.7 430.2,95.8 430.6,97.3 431.0,99.1 431.4,97.3 431.8,95.8 432.2,94.7 432.6,93.9 433.0,93.5 439.3,93.5 439.7,93.6 440.1,93.8 440.5,94.1 440.9,94.5 441.3,94.9 441.5,95.2 441.7,95.0 442.1,94.5 442.5,94.1 442.9,93.8 443.3,93.6 443.6,93.5 443.7,93.5 443.7,93.5 444.0,93.6 444.4,93.8 444.8,94.1 445.2,94.5 445.6,94.9 445.8,95.2 446.0,95.0 446.4,94.5 446.8,94.1 447.2,93.8 447.6,93.6 448.0,93.5 448.0,93.5 457.6,93.5 458.0,93.7 458.4,94.0 458.8,94.5 459.2,95.1 459.6,95.9 459.9,96.5 460.0,96.3 460.4,95.5 460.8,94.8 461.2,94.2 461.6,93.8 462.0,93.5 462.2,93.5 463.4,93.5 463.8,94.0 464.2,95.0 464.6,96.6 465.0,98.6 465.4,100.9 465.5,101.4 465.8,99.4 466.2,97.3 466.6,95.6 467.0,94.3 467.4,93.6 467.6,93.5 476.6,93.5 477.0,93.6 477.4,93.9 477.8,94.3 478.2,94.9 478.6,95.5 478.9,96.0 479.0,95.8 479.4,95.1 479.8,94.5 480.2,94.1 480.6,93.7 481.0,93.5 481.2,93.5 485.0,93.5 486.3,95.4 486.7,96.5 487.0,98.1 487.1,98.3 487.5,100.1 487.9,102.3 488.3,105.0 488.4,106.0 488.7,104.1 489.1,101.4 489.4,99.6 489.5,99.2 489.8,97.9 489.9,97.6 490.2,96.8 490.3,96.7 490.5,96.5 490.6,96.5 491.0,96.7 491.0,96.8 491.4,97.1 491.8,97.5 492.2,97.9 492.6,98.4 492.8,98.7 493.0,98.4 493.4,98.0 493.8,97.5 494.2,97.1 494.6,96.8 495.0,96.5 495.0,96.5 495.4,96.3 495.8,96.3 496.2,96.3 496.2,96.3 499.0,97.0 499.1,97.0 499.5,97.4 499.9,98.2 500.3,99.3 500.7,100.6 501.1,102.2 501.5,104.0 501.5,104.1 501.9,102.6 502.3,101.2 502.7,100.0 503.0,99.3 503.1,99.1 503.5,98.3 503.9,97.9 503.9,97.9 504.2,97.8 504.6,98.7 505.1,100.8 505.4,103.9 505.9,107.7 506.2,112.4 506.4,114.3 506.6,111.1 507.0,107.1 507.1,106.5 507.4,102.7 507.6,101.0 507.9,99.7 508.1,98.7 508.2,98.0 508.4,97.8 508.6,97.8 508.9,98.2 509.2,99.0 509.6,99.9 510.0,100.9 510.1,100.7 510.4,99.3 510.9,98.2 511.0,97.8 511.2,97.1 511.6,96.3 512.0,95.7 512.4,95.5 514.1,94.8 514.5,94.8 514.9,94.9 515.0,95.0 515.3,95.2 515.7,95.5 516.1,95.9 516.4,96.3 516.5,96.0 516.9,95.1 517.0,95.0 517.3,94.5 517.7,94.0 518.1,93.7 518.5,93.5 518.7,93.5 534.9,93.5 535.3,94.3 535.7,96.2 536.1,98.8 536.5,102.2 536.9,106.3 536.9,106.7 537.3,103.0 537.7,99.5 538.1,96.6 538.5,94.6 538.9,93.5 538.9,93.5 542.3,93.5 542.7,93.6 543.1,93.8 543.5,94.1 543.9,94.5 544.3,95.0 544.5,95.3 544.7,95.1 545.1,94.6 545.5,94.2 545.9,93.9 546.3,93.6 546.7,93.5 546.7,93.5 551.7,93.5 552.1,93.8 552.5,94.5 552.9,95.6 553.3,96.9 553.7,98.3 553.7,98.2 554.1,96.7 554.5,95.4 554.9,94.4 555.3,93.7 555.7,93.5 579.2,93.5 579.6,95.4 580.0,99.5 580.5,105.5 580.9,113.0 581.2,121.9 581.6,132.3 582.0,143.9 582.5,156.7 582.6,161.8 582.9,153.4 583.2,140.8 583.6,129.6 584.0,119.6 584.5,111.0 584.9,103.8 585.2,98.3 585.6,94.6 586.0,93.5 589.1,93.5 589.5,94.5 590.0,96.6 590.4,99.7 590.8,103.7 591.1,108.4 591.3,110.3 591.5,107.1 592.0,102.6 592.4,98.9 592.8,96.0 593.1,94.1 593.5,93.5 601.4,93.5 601.8,94.5 602.2,96.8 602.6,100.2 603.0,104.4 603.4,109.4 603.6,112.5 603.8,110.0 604.2,104.9 604.6,100.6 605.0,97.1 605.4,94.7 605.8,93.5 605.8,93.5 675.2,93.5" fill="none" stroke="#151515" stroke-width="0.6" stroke-linejoin="round"/>
<path d="M368.90,167.60 L368.9,167.6 372.1,167.6 372.5,167.8 372.9,168.3 373.3,169.1 373.7,170.0 374.0,170.9 374.1,170.7 374.5,169.6 374.9,168.8 375.3,168.1 375.7,167.7 375.7,167.7 375.9,167.6 376.1,167.7 376.5,167.8 376.9,168.0 377.3,168.3 377.5,168.5 377.7,168.4 378.1,168.1 378.5,167.8 378.9,167.7 379.3,167.6 379.3,167.6 382.5,167.6 382.9,168.0 383.3,168.8 383.7,169.9 384.1,171.4 384.5,173.1 384.5,173.1 384.9,171.3 385.1,170.5 385.3,170.1 385.5,170.1 385.7,170.4 385.9,171.1 386.1,171.9 386.3,173.3 386.5,174.6 386.7,176.8 387.1,181.1 387.2,181.9 387.5,178.2 387.9,174.4 388.3,171.3 388.7,169.1 389.1,167.7 389.3,167.6 389.9,167.6 390.3,168.0 390.7,168.9 391.1,170.2 391.5,171.9 391.9,173.9 391.9,174.0 392.3,172.1 392.7,170.4 393.1,169.0 393.5,168.1 393.9,167.6 393.9,167.6 396.4,167.6 396.8,167.7 397.1,167.9 397.6,168.3 397.9,168.7 398.2,169.0 398.4,168.8 398.8,168.4 399.1,168.0 399.6,167.8 399.9,167.6 400.1,167.6 401.4,167.6 401.8,168.3 402.2,170.0 402.6,172.3 403.0,175.2 403.4,178.4 403.4,178.0 403.8,174.6 404.2,171.8 404.6,169.6 405.0,168.1 405.4,167.6 413.1,167.6 413.5,168.3 413.9,169.7 414.3,171.8 414.7,174.4 415.1,177.6 415.5,181.2 415.9,185.2 416.1,187.2 416.3,184.8 416.7,180.8 416.7,180.7 417.1,178.3 417.1,178.2 417.5,177.6 417.5,177.6 417.9,178.4 417.9,178.5 418.3,180.7 418.3,180.8 418.7,184.6 418.7,184.7 419.1,189.4 419.1,190.2 419.5,196.9 419.6,198.2 419.9,192.5 420.3,186.2 420.7,180.7 421.1,176.0 421.5,172.2 421.9,169.4 422.3,167.8 422.5,167.6 429.0,167.6 429.4,168.0 429.8,168.8 430.2,169.9 430.6,171.4 431.0,173.1 431.0,173.1 431.4,171.3 431.8,169.9 432.2,168.7 432.6,167.9 433.0,167.6 439.2,167.6 439.6,167.7 440.0,168.0 440.4,168.4 440.8,168.9 441.2,169.5 441.5,170.0 441.6,169.8 442.0,169.1 442.4,168.6 442.8,168.1 443.2,167.8 443.6,167.6 443.8,167.6 444.4,167.6 444.8,168.0 445.2,168.8 445.6,169.9 446.0,171.4 446.4,173.1 446.4,173.1 446.8,171.3 447.2,169.9 447.6,168.7 448.0,167.9 448.4,167.6 454.2,167.6 454.6,167.7 455.0,167.8 455.4,168.1 455.8,168.4 456.2,168.8 456.4,169.0 456.6,168.8 457.0,168.4 457.4,168.1 457.8,167.9 458.2,167.7 458.6,167.6 458.6,167.6 459.0,167.6 461.0,169.6 461.2,169.7 461.6,170.5 462.0,172.0 462.4,174.3 462.8,177.0 463.2,180.3 463.4,182.2 463.6,180.6 464.0,177.6 464.4,175.1 464.8,173.2 465.0,172.4 465.2,171.7 465.6,170.9 465.6,170.9 465.6,170.9 466.0,171.2 466.4,172.2 466.8,173.7 467.2,175.6 467.6,177.9 467.7,178.6 468.0,176.5 468.4,174.1 468.8,172.1 469.0,171.2 469.2,170.4 469.6,169.2 469.8,168.8 471.0,167.6 479.2,167.6 479.6,167.7 480.0,167.8 480.4,168.1 480.8,168.4 481.2,168.8 481.4,169.0 481.6,168.8 482.0,168.4 482.4,168.1 482.8,167.9 483.2,167.7 483.6,167.6 483.6,167.6 485.0,167.6 486.4,168.6 486.8,169.8 487.0,170.8 487.2,171.7 487.6,174.3 488.0,177.6 488.4,181.5 488.4,181.6 488.8,177.8 489.2,174.5 489.6,171.8 490.0,170.0 490.4,169.1 490.4,169.1 493.0,169.1 495.2,169.1 495.6,169.9 496.0,171.8 496.4,174.5 496.8,178.0 497.2,182.1 497.2,182.5 497.6,178.7 498.0,175.2 498.4,172.3 498.8,170.3 499.0,169.5 499.2,169.2 499.2,169.1 501.2,169.1 501.6,169.3 502.0,169.8 502.4,170.5 502.8,171.4 503.2,172.5 503.3,172.9 503.6,172.1 504.0,171.1 504.4,170.3 504.8,169.6 505.0,169.3 505.2,169.2 505.4,169.1 506.8,169.0 507.2,169.5 507.6,170.6 508.0,172.3 508.4,174.4 508.8,176.9 508.9,177.8 509.2,175.8 509.6,173.4 510.0,171.4 510.4,169.8 510.8,168.8 511.0,168.6 511.0,168.6 512.4,168.2 512.8,168.3 513.2,168.5 513.6,168.8 514.0,169.2 514.4,169.7 514.7,170.1 514.8,169.8 515.0,169.5 515.2,169.1 515.6,168.6 516.0,168.1 516.4,167.8 516.8,167.6 517.0,167.6 531.4,167.6 531.8,168.4 532.2,170.2 532.6,172.8 533.0,176.1 533.4,180.0 533.4,180.1 533.8,176.3 534.2,173.0 534.6,170.3 535.0,168.5 535.4,167.6 535.4,167.6 535.8,168.0 536.2,168.8 536.6,169.9 537.0,171.4 537.4,173.1 537.4,173.1 537.8,171.3 538.2,169.9 538.6,168.7 539.0,167.9 539.4,167.6 549.3,167.6 549.7,167.7 550.1,167.9 550.5,168.2 550.9,168.5 551.3,168.9 551.5,169.2 551.7,169.0 552.1,168.6 552.5,168.2 552.9,167.9 553.3,167.7 553.7,167.6 553.7,167.6 573.4,167.6 573.8,169.4 574.2,173.5 574.6,179.5 575.0,187.0 575.4,195.9 575.8,206.2 576.2,217.8 576.6,230.6 576.7,235.0 577.0,226.0 577.4,213.6 577.8,202.4 578.2,192.6 578.6,184.2 579.0,177.2 579.4,171.9 579.8,168.5 580.0,167.6 588.9,167.6 589.3,167.9 589.7,168.7 590.1,169.7 590.5,171.0 590.9,172.5 590.9,172.4 591.3,170.8 591.7,169.5 592.1,168.5 592.5,167.8 592.9,167.6 600.1,167.6 600.5,168.7 600.9,171.2 601.3,174.8 601.7,179.3 602.1,184.7 602.4,189.3 602.5,187.7 602.9,181.9 603.3,176.9 603.7,172.9 604.1,169.8 604.5,168.0 604.7,167.6 675.2,167.6 L675.20,167.60 Z" fill="url(#gpb)" stroke="none"/>
<polyline points="368.9,167.6 372.1,167.6 372.5,167.8 372.9,168.3 373.3,169.1 373.7,170.0 374.0,170.9 374.1,170.7 374.5,169.6 374.9,168.8 375.3,168.1 375.7,167.7 375.7,167.7 375.9,167.6 376.1,167.7 376.5,167.8 376.9,168.0 377.3,168.3 377.5,168.5 377.7,168.4 378.1,168.1 378.5,167.8 378.9,167.7 379.3,167.6 379.3,167.6 382.5,167.6 382.9,168.0 383.3,168.8 383.7,169.9 384.1,171.4 384.5,173.1 384.5,173.1 384.9,171.3 385.1,170.5 385.3,170.1 385.5,170.1 385.7,170.4 385.9,171.1 386.1,171.9 386.3,173.3 386.5,174.6 386.7,176.8 387.1,181.1 387.2,181.9 387.5,178.2 387.9,174.4 388.3,171.3 388.7,169.1 389.1,167.7 389.3,167.6 389.9,167.6 390.3,168.0 390.7,168.9 391.1,170.2 391.5,171.9 391.9,173.9 391.9,174.0 392.3,172.1 392.7,170.4 393.1,169.0 393.5,168.1 393.9,167.6 393.9,167.6 396.4,167.6 396.8,167.7 397.1,167.9 397.6,168.3 397.9,168.7 398.2,169.0 398.4,168.8 398.8,168.4 399.1,168.0 399.6,167.8 399.9,167.6 400.1,167.6 401.4,167.6 401.8,168.3 402.2,170.0 402.6,172.3 403.0,175.2 403.4,178.4 403.4,178.0 403.8,174.6 404.2,171.8 404.6,169.6 405.0,168.1 405.4,167.6 413.1,167.6 413.5,168.3 413.9,169.7 414.3,171.8 414.7,174.4 415.1,177.6 415.5,181.2 415.9,185.2 416.1,187.2 416.3,184.8 416.7,180.8 416.7,180.7 417.1,178.3 417.1,178.2 417.5,177.6 417.5,177.6 417.9,178.4 417.9,178.5 418.3,180.7 418.3,180.8 418.7,184.6 418.7,184.7 419.1,189.4 419.1,190.2 419.5,196.9 419.6,198.2 419.9,192.5 420.3,186.2 420.7,180.7 421.1,176.0 421.5,172.2 421.9,169.4 422.3,167.8 422.5,167.6 429.0,167.6 429.4,168.0 429.8,168.8 430.2,169.9 430.6,171.4 431.0,173.1 431.0,173.1 431.4,171.3 431.8,169.9 432.2,168.7 432.6,167.9 433.0,167.6 439.2,167.6 439.6,167.7 440.0,168.0 440.4,168.4 440.8,168.9 441.2,169.5 441.5,170.0 441.6,169.8 442.0,169.1 442.4,168.6 442.8,168.1 443.2,167.8 443.6,167.6 443.8,167.6 444.4,167.6 444.8,168.0 445.2,168.8 445.6,169.9 446.0,171.4 446.4,173.1 446.4,173.1 446.8,171.3 447.2,169.9 447.6,168.7 448.0,167.9 448.4,167.6 454.2,167.6 454.6,167.7 455.0,167.8 455.4,168.1 455.8,168.4 456.2,168.8 456.4,169.0 456.6,168.8 457.0,168.4 457.4,168.1 457.8,167.9 458.2,167.7 458.6,167.6 458.6,167.6 459.0,167.6 461.0,169.6 461.2,169.7 461.6,170.5 462.0,172.0 462.4,174.3 462.8,177.0 463.2,180.3 463.4,182.2 463.6,180.6 464.0,177.6 464.4,175.1 464.8,173.2 465.0,172.4 465.2,171.7 465.6,170.9 465.6,170.9 465.6,170.9 466.0,171.2 466.4,172.2 466.8,173.7 467.2,175.6 467.6,177.9 467.7,178.6 468.0,176.5 468.4,174.1 468.8,172.1 469.0,171.2 469.2,170.4 469.6,169.2 469.8,168.8 471.0,167.6 479.2,167.6 479.6,167.7 480.0,167.8 480.4,168.1 480.8,168.4 481.2,168.8 481.4,169.0 481.6,168.8 482.0,168.4 482.4,168.1 482.8,167.9 483.2,167.7 483.6,167.6 483.6,167.6 485.0,167.6 486.4,168.6 486.8,169.8 487.0,170.8 487.2,171.7 487.6,174.3 488.0,177.6 488.4,181.5 488.4,181.6 488.8,177.8 489.2,174.5 489.6,171.8 490.0,170.0 490.4,169.1 490.4,169.1 493.0,169.1 495.2,169.1 495.6,169.9 496.0,171.8 496.4,174.5 496.8,178.0 497.2,182.1 497.2,182.5 497.6,178.7 498.0,175.2 498.4,172.3 498.8,170.3 499.0,169.5 499.2,169.2 499.2,169.1 501.2,169.1 501.6,169.3 502.0,169.8 502.4,170.5 502.8,171.4 503.2,172.5 503.3,172.9 503.6,172.1 504.0,171.1 504.4,170.3 504.8,169.6 505.0,169.3 505.2,169.2 505.4,169.1 506.8,169.0 507.2,169.5 507.6,170.6 508.0,172.3 508.4,174.4 508.8,176.9 508.9,177.8 509.2,175.8 509.6,173.4 510.0,171.4 510.4,169.8 510.8,168.8 511.0,168.6 511.0,168.6 512.4,168.2 512.8,168.3 513.2,168.5 513.6,168.8 514.0,169.2 514.4,169.7 514.7,170.1 514.8,169.8 515.0,169.5 515.2,169.1 515.6,168.6 516.0,168.1 516.4,167.8 516.8,167.6 517.0,167.6 531.4,167.6 531.8,168.4 532.2,170.2 532.6,172.8 533.0,176.1 533.4,180.0 533.4,180.1 533.8,176.3 534.2,173.0 534.6,170.3 535.0,168.5 535.4,167.6 535.4,167.6 535.8,168.0 536.2,168.8 536.6,169.9 537.0,171.4 537.4,173.1 537.4,173.1 537.8,171.3 538.2,169.9 538.6,168.7 539.0,167.9 539.4,167.6 549.3,167.6 549.7,167.7 550.1,167.9 550.5,168.2 550.9,168.5 551.3,168.9 551.5,169.2 551.7,169.0 552.1,168.6 552.5,168.2 552.9,167.9 553.3,167.7 553.7,167.6 553.7,167.6 573.4,167.6 573.8,169.4 574.2,173.5 574.6,179.5 575.0,187.0 575.4,195.9 575.8,206.2 576.2,217.8 576.6,230.6 576.7,235.0 577.0,226.0 577.4,213.6 577.8,202.4 578.2,192.6 578.6,184.2 579.0,177.2 579.4,171.9 579.8,168.5 580.0,167.6 588.9,167.6 589.3,167.9 589.7,168.7 590.1,169.7 590.5,171.0 590.9,172.5 590.9,172.4 591.3,170.8 591.7,169.5 592.1,168.5 592.5,167.8 592.9,167.6 600.1,167.6 600.5,168.7 600.9,171.2 601.3,174.8 601.7,179.3 602.1,184.7 602.4,189.3 602.5,187.7 602.9,181.9 603.3,176.9 603.7,172.9 604.1,169.8 604.5,168.0 604.7,167.6 675.2,167.6" fill="none" stroke="#151515" stroke-width="0.6" stroke-linejoin="round"/>
<path d="M368.90,252.20 L368.9,257.1 368.9,257.4 369.3,262.6 369.7,269.2 370.1,277.0 370.5,285.3 370.5,284.6 370.9,275.7 371.3,268.1 371.7,261.7 372.1,256.8 372.5,253.4 372.9,252.2 373.9,252.2 374.3,254.0 374.7,257.9 375.1,263.6 375.5,270.7 375.9,279.3 376.3,289.1 376.6,297.6 376.7,295.1 377.1,284.6 377.5,275.3 377.9,267.3 378.3,260.8 378.7,255.9 378.9,253.9 379.1,253.3 379.3,253.9 379.3,254.0 379.7,258.1 380.1,263.9 380.5,271.3 380.9,280.1 381.3,290.3 381.7,301.7 381.9,307.2 382.1,300.5 382.5,289.2 382.9,279.2 383.3,270.5 383.7,263.3 384.1,257.6 384.5,253.7 384.9,252.2 398.3,252.2 398.7,252.5 399.1,253.3 399.5,254.4 399.9,255.7 400.3,257.3 400.3,257.2 400.7,255.6 401.1,254.3 401.5,253.2 401.9,252.5 402.3,252.2 405.9,252.2 406.3,253.0 406.7,254.8 407.1,257.3 407.5,260.6 407.9,264.4 408.3,268.9 408.7,273.8 409.1,279.3 409.4,283.2 409.5,281.1 409.9,275.4 410.3,270.3 410.7,265.7 411.1,261.7 411.5,258.2 411.9,255.5 412.3,253.4 412.7,252.3 412.9,252.2 414.8,252.2 415.2,253.2 415.6,255.5 416.0,258.7 416.4,262.7 416.8,267.6 417.2,273.1 417.6,279.4 418.0,286.3 418.3,292.3 418.4,290.8 418.8,283.5 419.2,276.8 419.6,270.8 420.0,265.5 420.4,261.1 420.4,261.0 420.8,258.5 420.8,258.5 421.2,258.2 421.2,258.2 421.6,260.0 421.6,260.1 421.8,262.3 422.0,264.1 422.4,269.6 422.7,274.8 422.8,273.7 423.2,267.6 423.6,262.4 424.0,258.1 424.4,254.9 424.8,252.7 425.0,252.2 430.5,252.2 430.9,253.4 431.3,256.2 431.7,260.3 432.1,265.4 432.5,271.5 432.9,278.5 433.3,286.3 433.7,295.1 434.1,304.6 434.5,313.8 434.5,312.7 434.9,302.6 435.3,293.3 435.7,284.7 436.1,277.0 436.5,270.2 436.9,264.3 437.3,259.4 437.7,255.6 438.1,253.0 438.5,252.2 439.5,252.2 441.5,258.2 441.9,258.4 442.3,259.1 442.7,260.3 443.1,261.8 443.5,263.7 443.9,266.0 444.3,268.5 444.4,268.7 444.5,269.9 444.7,269.1 444.8,269.1 445.0,268.7 445.1,268.6 445.1,268.6 445.5,269.0 445.6,269.1 445.9,270.4 445.9,270.5 446.3,272.8 446.4,272.9 446.7,275.8 446.7,275.4 446.8,275.2 447.1,271.4 447.1,270.6 447.6,267.0 447.9,263.9 448.4,261.5 448.8,259.9 448.9,259.6 449.1,259.5 449.3,260.0 449.7,261.4 450.0,263.0 450.1,263.4 450.5,265.9 450.9,269.0 451.1,270.9 451.3,269.2 451.7,265.8 452.1,262.9 452.5,260.5 452.9,258.8 453.3,257.9 453.3,257.9 453.5,257.8 453.9,258.1 454.3,258.9 454.7,260.1 455.0,261.4 455.1,261.7 455.5,263.5 455.5,263.8 455.9,261.7 456.3,259.6 456.7,258.0 457.1,256.7 457.5,256.0 457.5,255.9 459.0,255.2 461.0,252.2 462.7,252.2 463.1,253.2 463.5,255.3 463.9,258.4 464.3,262.3 464.7,266.9 464.8,268.7 465.1,265.4 465.5,261.0 465.9,257.4 466.3,254.5 466.7,252.7 466.9,252.2 467.2,252.2 467.6,252.3 468.0,252.7 468.4,253.1 468.8,253.7 469.2,254.4 469.5,255.0 469.6,254.8 470.0,254.0 470.4,253.4 470.8,252.8 471.2,252.5 471.6,252.2 471.8,252.2 474.0,252.2 474.4,254.0 474.8,258.0 475.2,263.9 475.6,271.2 476.0,280.1 476.4,290.2 476.8,301.6 477.0,308.1 477.2,302.2 477.6,290.8 478.0,280.5 478.4,271.7 478.8,264.2 479.2,258.3 479.6,254.1 480.0,252.2 480.0,252.2 484.4,252.2 484.8,252.3 485.2,252.4 485.6,252.7 486.0,253.0 486.4,253.3 486.6,253.5 486.8,253.3 487.2,253.0 487.6,252.7 488.0,252.4 488.4,252.3 488.8,252.2 488.8,252.2 491.0,252.2 492.0,254.2 492.4,255.4 492.8,257.0 493.2,258.9 493.5,260.4 493.6,260.9 494.0,262.8 494.4,264.9 494.5,265.3 494.8,263.9 495.2,262.3 495.6,260.9 496.0,260.4 496.4,260.7 496.8,262.0 497.0,262.7 497.2,264.1 497.6,266.7 498.0,269.5 498.0,269.4 498.4,266.8 498.8,264.5 499.2,262.7 499.6,261.3 500.0,260.4 500.1,260.3 500.4,260.6 500.5,261.0 500.9,262.8 501.3,265.4 501.7,268.6 502.1,272.3 502.4,275.7 502.5,274.7 502.9,271.0 503.0,270.0 503.3,267.6 503.7,264.7 504.1,262.6 504.5,261.2 504.7,260.9 505.1,261.9 505.5,264.5 505.9,268.1 506.3,272.8 506.7,278.4 507.1,284.7 507.1,284.5 507.5,277.9 507.9,272.2 508.0,271.1 508.3,267.3 508.7,263.3 509.1,260.4 509.5,259.1 510.8,258.1 511.2,258.7 511.6,260.4 512.0,262.8 512.0,263.0 512.4,266.3 512.8,270.3 512.9,271.1 513.2,267.3 513.6,263.0 514.0,259.5 514.4,256.8 514.8,255.0 515.0,254.7 515.0,254.7 517.0,252.2 530.0,252.2 530.0,252.2 530.4,252.6 530.8,253.1 531.2,253.8 531.6,254.5 532.0,255.3 532.2,255.8 532.4,255.8 532.8,255.6 533.0,255.5 533.2,255.4 533.6,255.2 534.0,255.0 534.4,255.0 534.4,255.0 535.4,255.2 535.8,256.1 536.1,258.0 536.5,260.8 537.0,264.3 537.4,268.5 537.4,269.1 537.8,265.5 538.0,263.2 538.1,261.9 538.5,258.9 539.0,256.7 539.4,255.5 539.5,255.4 539.5,255.4 539.9,255.5 540.3,255.9 540.7,256.4 541.1,257.1 541.5,258.0 541.8,258.7 541.9,258.5 542.3,257.4 542.7,256.5 543.0,255.8 543.0,255.8 543.1,255.6 543.4,255.2 543.5,255.1 543.8,255.0 543.9,255.0 544.1,255.1 544.2,255.2 544.6,255.6 545.0,256.2 545.3,256.6 545.4,256.3 545.8,255.4 546.2,254.7 546.6,254.0 547.0,253.5 547.0,253.4 547.4,253.0 547.6,252.9 549.0,252.2 551.9,252.2 552.3,252.3 552.7,252.5 553.1,252.8 553.5,253.2 553.9,253.7 554.1,254.0 554.3,253.8 554.7,253.3 555.1,252.9 555.5,252.6 555.9,252.3 556.3,252.2 556.3,252.2 577.7,252.2 578.1,254.0 578.5,258.1 578.9,264.0 579.3,271.5 579.7,280.5 580.1,290.8 580.5,302.3 580.9,315.1 581.0,318.5 581.3,308.6 581.7,296.4 582.1,285.4 582.5,275.8 582.9,267.6 583.3,260.9 583.7,255.8 584.1,252.7 584.3,252.2 590.2,252.2 590.6,252.3 591.0,252.4 591.4,252.7 591.8,253.0 592.2,253.4 592.4,253.6 592.6,253.4 593.0,253.0 593.4,252.7 593.8,252.5 594.2,252.3 594.6,252.2 594.6,252.2 600.0,252.2 600.4,252.3 600.8,252.7 601.2,253.1 601.6,253.7 602.0,254.4 602.3,255.0 602.4,254.8 602.8,254.0 603.2,253.4 603.6,252.8 604.0,252.5 604.4,252.2 604.6,252.2 675.2,252.2 L675.20,252.20 Z" fill="url(#ggb)" stroke="none"/>
<polyline points="368.9,257.1 368.9,257.4 369.3,262.6 369.7,269.2 370.1,277.0 370.5,285.3 370.5,284.6 370.9,275.7 371.3,268.1 371.7,261.7 372.1,256.8 372.5,253.4 372.9,252.2 373.9,252.2 374.3,254.0 374.7,257.9 375.1,263.6 375.5,270.7 375.9,279.3 376.3,289.1 376.6,297.6 376.7,295.1 377.1,284.6 377.5,275.3 377.9,267.3 378.3,260.8 378.7,255.9 378.9,253.9 379.1,253.3 379.3,253.9 379.3,254.0 379.7,258.1 380.1,263.9 380.5,271.3 380.9,280.1 381.3,290.3 381.7,301.7 381.9,307.2 382.1,300.5 382.5,289.2 382.9,279.2 383.3,270.5 383.7,263.3 384.1,257.6 384.5,253.7 384.9,252.2 398.3,252.2 398.7,252.5 399.1,253.3 399.5,254.4 399.9,255.7 400.3,257.3 400.3,257.2 400.7,255.6 401.1,254.3 401.5,253.2 401.9,252.5 402.3,252.2 405.9,252.2 406.3,253.0 406.7,254.8 407.1,257.3 407.5,260.6 407.9,264.4 408.3,268.9 408.7,273.8 409.1,279.3 409.4,283.2 409.5,281.1 409.9,275.4 410.3,270.3 410.7,265.7 411.1,261.7 411.5,258.2 411.9,255.5 412.3,253.4 412.7,252.3 412.9,252.2 414.8,252.2 415.2,253.2 415.6,255.5 416.0,258.7 416.4,262.7 416.8,267.6 417.2,273.1 417.6,279.4 418.0,286.3 418.3,292.3 418.4,290.8 418.8,283.5 419.2,276.8 419.6,270.8 420.0,265.5 420.4,261.1 420.4,261.0 420.8,258.5 420.8,258.5 421.2,258.2 421.2,258.2 421.6,260.0 421.6,260.1 421.8,262.3 422.0,264.1 422.4,269.6 422.7,274.8 422.8,273.7 423.2,267.6 423.6,262.4 424.0,258.1 424.4,254.9 424.8,252.7 425.0,252.2 430.5,252.2 430.9,253.4 431.3,256.2 431.7,260.3 432.1,265.4 432.5,271.5 432.9,278.5 433.3,286.3 433.7,295.1 434.1,304.6 434.5,313.8 434.5,312.7 434.9,302.6 435.3,293.3 435.7,284.7 436.1,277.0 436.5,270.2 436.9,264.3 437.3,259.4 437.7,255.6 438.1,253.0 438.5,252.2 439.5,252.2 441.5,258.2 441.9,258.4 442.3,259.1 442.7,260.3 443.1,261.8 443.5,263.7 443.9,266.0 444.3,268.5 444.4,268.7 444.5,269.9 444.7,269.1 444.8,269.1 445.0,268.7 445.1,268.6 445.1,268.6 445.5,269.0 445.6,269.1 445.9,270.4 445.9,270.5 446.3,272.8 446.4,272.9 446.7,275.8 446.7,275.4 446.8,275.2 447.1,271.4 447.1,270.6 447.6,267.0 447.9,263.9 448.4,261.5 448.8,259.9 448.9,259.6 449.1,259.5 449.3,260.0 449.7,261.4 450.0,263.0 450.1,263.4 450.5,265.9 450.9,269.0 451.1,270.9 451.3,269.2 451.7,265.8 452.1,262.9 452.5,260.5 452.9,258.8 453.3,257.9 453.3,257.9 453.5,257.8 453.9,258.1 454.3,258.9 454.7,260.1 455.0,261.4 455.1,261.7 455.5,263.5 455.5,263.8 455.9,261.7 456.3,259.6 456.7,258.0 457.1,256.7 457.5,256.0 457.5,255.9 459.0,255.2 461.0,252.2 462.7,252.2 463.1,253.2 463.5,255.3 463.9,258.4 464.3,262.3 464.7,266.9 464.8,268.7 465.1,265.4 465.5,261.0 465.9,257.4 466.3,254.5 466.7,252.7 466.9,252.2 467.2,252.2 467.6,252.3 468.0,252.7 468.4,253.1 468.8,253.7 469.2,254.4 469.5,255.0 469.6,254.8 470.0,254.0 470.4,253.4 470.8,252.8 471.2,252.5 471.6,252.2 471.8,252.2 474.0,252.2 474.4,254.0 474.8,258.0 475.2,263.9 475.6,271.2 476.0,280.1 476.4,290.2 476.8,301.6 477.0,308.1 477.2,302.2 477.6,290.8 478.0,280.5 478.4,271.7 478.8,264.2 479.2,258.3 479.6,254.1 480.0,252.2 480.0,252.2 484.4,252.2 484.8,252.3 485.2,252.4 485.6,252.7 486.0,253.0 486.4,253.3 486.6,253.5 486.8,253.3 487.2,253.0 487.6,252.7 488.0,252.4 488.4,252.3 488.8,252.2 488.8,252.2 491.0,252.2 492.0,254.2 492.4,255.4 492.8,257.0 493.2,258.9 493.5,260.4 493.6,260.9 494.0,262.8 494.4,264.9 494.5,265.3 494.8,263.9 495.2,262.3 495.6,260.9 496.0,260.4 496.4,260.7 496.8,262.0 497.0,262.7 497.2,264.1 497.6,266.7 498.0,269.5 498.0,269.4 498.4,266.8 498.8,264.5 499.2,262.7 499.6,261.3 500.0,260.4 500.1,260.3 500.4,260.6 500.5,261.0 500.9,262.8 501.3,265.4 501.7,268.6 502.1,272.3 502.4,275.7 502.5,274.7 502.9,271.0 503.0,270.0 503.3,267.6 503.7,264.7 504.1,262.6 504.5,261.2 504.7,260.9 505.1,261.9 505.5,264.5 505.9,268.1 506.3,272.8 506.7,278.4 507.1,284.7 507.1,284.5 507.5,277.9 507.9,272.2 508.0,271.1 508.3,267.3 508.7,263.3 509.1,260.4 509.5,259.1 510.8,258.1 511.2,258.7 511.6,260.4 512.0,262.8 512.0,263.0 512.4,266.3 512.8,270.3 512.9,271.1 513.2,267.3 513.6,263.0 514.0,259.5 514.4,256.8 514.8,255.0 515.0,254.7 515.0,254.7 517.0,252.2 530.0,252.2 530.0,252.2 530.4,252.6 530.8,253.1 531.2,253.8 531.6,254.5 532.0,255.3 532.2,255.8 532.4,255.8 532.8,255.6 533.0,255.5 533.2,255.4 533.6,255.2 534.0,255.0 534.4,255.0 534.4,255.0 535.4,255.2 535.8,256.1 536.1,258.0 536.5,260.8 537.0,264.3 537.4,268.5 537.4,269.1 537.8,265.5 538.0,263.2 538.1,261.9 538.5,258.9 539.0,256.7 539.4,255.5 539.5,255.4 539.5,255.4 539.9,255.5 540.3,255.9 540.7,256.4 541.1,257.1 541.5,258.0 541.8,258.7 541.9,258.5 542.3,257.4 542.7,256.5 543.0,255.8 543.0,255.8 543.1,255.6 543.4,255.2 543.5,255.1 543.8,255.0 543.9,255.0 544.1,255.1 544.2,255.2 544.6,255.6 545.0,256.2 545.3,256.6 545.4,256.3 545.8,255.4 546.2,254.7 546.6,254.0 547.0,253.5 547.0,253.4 547.4,253.0 547.6,252.9 549.0,252.2 551.9,252.2 552.3,252.3 552.7,252.5 553.1,252.8 553.5,253.2 553.9,253.7 554.1,254.0 554.3,253.8 554.7,253.3 555.1,252.9 555.5,252.6 555.9,252.3 556.3,252.2 556.3,252.2 577.7,252.2 578.1,254.0 578.5,258.1 578.9,264.0 579.3,271.5 579.7,280.5 580.1,290.8 580.5,302.3 580.9,315.1 581.0,318.5 581.3,308.6 581.7,296.4 582.1,285.4 582.5,275.8 582.9,267.6 583.3,260.9 583.7,255.8 584.1,252.7 584.3,252.2 590.2,252.2 590.6,252.3 591.0,252.4 591.4,252.7 591.8,253.0 592.2,253.4 592.4,253.6 592.6,253.4 593.0,253.0 593.4,252.7 593.8,252.5 594.2,252.3 594.6,252.2 594.6,252.2 600.0,252.2 600.4,252.3 600.8,252.7 601.2,253.1 601.6,253.7 602.0,254.4 602.3,255.0 602.4,254.8 602.8,254.0 603.2,253.4 603.6,252.8 604.0,252.5 604.4,252.2 604.6,252.2 675.2,252.2" fill="none" stroke="#151515" stroke-width="0.6" stroke-linejoin="round"/>
<line x1="11.30" y1="89.3" x2="318.40" y2="89.3" stroke="#333333" stroke-width="1.05"/>
<line x1="11.30" y1="93.3" x2="318.40" y2="93.3" stroke="#333333" stroke-width="1.05"/>
<line x1="11.30" y1="167.4" x2="318.40" y2="167.4" stroke="#555555" stroke-width="1.05"/>
<line x1="11.30" y1="252.3" x2="318.40" y2="252.3" stroke="#555555" stroke-width="1.05"/>
<line x1="368.10" y1="93.5" x2="675.20" y2="93.5" stroke="#333333" stroke-width="1.05"/>
<line x1="368.10" y1="167.6" x2="675.20" y2="167.6" stroke="#555555" stroke-width="1.05"/>
<line x1="368.10" y1="252.2" x2="675.20" y2="252.2" stroke="#555555" stroke-width="1.05"/>
<text x="115.4" y="37.8" font-size="7.6" text-anchor="start" font-weight="normal" fill="#111"  stroke="#111" stroke-width="0.22">Ph</text>
<line x1="125.9" y1="33.7" x2="136.1" y2="31.3" stroke="#1c1c1c" stroke-width="0.85" stroke-linecap="round"/>
<line x1="136.1" y1="31.3" x2="146.2" y2="33.6" stroke="#1c1c1c" stroke-width="0.85" stroke-linecap="round"/>
<line x1="154.0" y1="33.3" x2="163.7" y2="31.2" stroke="#1c1c1c" stroke-width="0.85" stroke-linecap="round"/>
<line x1="163.7" y1="31.2" x2="170.5" y2="43.3" stroke="#1c1c1c" stroke-width="0.85" stroke-linecap="round"/>
<line x1="136.1" y1="31.3" x2="141.6" y2="39.6" stroke="#1c1c1c" stroke-width="0.85" stroke-linecap="round"/>
<line x1="147.2" y1="42.6" x2="157.6" y2="40.3" stroke="#1c1c1c" stroke-width="0.85" stroke-linecap="round"/>
<line x1="157.6" y1="40.3" x2="170.5" y2="43.3" stroke="#1c1c1c" stroke-width="0.85" stroke-linecap="round"/>
<line x1="170.5" y1="43.3" x2="176.5" y2="42.4" stroke="#1c1c1c" stroke-width="0.85" stroke-linecap="round"/>
<line x1="187.3" y1="44.5" x2="191.8" y2="51.7" stroke="#1c1c1c" stroke-width="0.85" stroke-linecap="round"/>
<line x1="178.5" y1="48.5" x2="178.5" y2="35.8" stroke="#1c1c1c" stroke-width="0.85" stroke-linecap="round"/>
<line x1="153.4" y1="52.4" x2="163.2" y2="52.4" stroke="#1c1c1c" stroke-width="0.85" stroke-linecap="round"/>
<line x1="191.8" y1="51.7" x2="191.8" y2="63.0" stroke="#1c1c1c" stroke-width="0.85" stroke-linecap="round"/>
<polygon points="157.6,40.3 162.4,52.2 164.6,51.0" fill="#1c1c1c"/>
<line x1="163.5" y1="51.6" x2="178.5" y2="48.4" stroke="#1c1c1c" stroke-width="2.0" stroke-linecap="round"/>
<polygon points="191.8,51.9 178.8,47.1 178.2,49.7" fill="#1c1c1c"/>
<text x="150.0" y="37.9" font-size="7.6" text-anchor="middle" font-weight="normal" fill="#111"  stroke="#111" stroke-width="0.22">O</text>
<text x="143.4" y="46.2" font-size="7.6" text-anchor="middle" font-weight="normal" fill="#111"  stroke="#111" stroke-width="0.22">O</text>
<text x="144.7" y="55.3" font-size="7.6" text-anchor="middle" font-weight="normal" fill="#111"  stroke="#111" stroke-width="0.22">BnO</text>
<text x="183.2" y="34.7" font-size="7.6" text-anchor="middle" font-weight="normal" fill="#111"  stroke="#111" stroke-width="0.22">OBn</text>
<text x="184.9" y="43.7" font-size="7.6" text-anchor="middle" font-weight="normal" fill="#111"  stroke="#111" stroke-width="0.22">O</text>
<text x="195.8" y="70.0" font-size="7.6" text-anchor="middle" font-weight="normal" fill="#111"  stroke="#111" stroke-width="0.22">SEt</text>
<text x="174.7" y="80.8" font-size="7.8" text-anchor="middle" font-weight="bold" fill="#111"  stroke="#111" stroke-width="0.22">Man-SEt</text>
<polyline points="175.2,57.7 200.3,57.7 200.3,45.8" fill="none" stroke="#e8474f" stroke-width="1.0" stroke-linejoin="round" stroke-linecap="round"/>
<polygon points="177.0,124.8 178.8,118.2 183.2,112.0 183.6,127.7 185.8,140.1 182.1,138.7 177.0,135.0" fill="#1f77b4" stroke="none" stroke-width="0.7" stroke-linejoin="round"/>
<text x="119.5" y="131.9" font-size="7.6" text-anchor="middle" font-weight="normal" fill="#111"  stroke="#111" stroke-width="0.22">Ph</text>
<line x1="125.1" y1="127.3" x2="134.3" y2="121.3" stroke="#1c1c1c" stroke-width="0.85" stroke-linecap="round"/>
<line x1="134.3" y1="121.3" x2="141.0" y2="129.0" stroke="#1c1c1c" stroke-width="0.85" stroke-linecap="round"/>
<line x1="133.6" y1="124.6" x2="139.2" y2="131.2" stroke="#1c1c1c" stroke-width="0.85" stroke-linecap="round"/>
<text x="144.1" y="134.8" font-size="7.6" text-anchor="middle" font-weight="normal" fill="#111"  stroke="#111" stroke-width="0.22">O</text>
<text x="146.4" y="127.3" font-size="7.4" text-anchor="middle" font-weight="normal" fill="#111"  stroke="#111" stroke-width="0.22">+</text>
<line x1="148.9" y1="130.3" x2="159.8" y2="127.6" stroke="#1c1c1c" stroke-width="0.85" stroke-linecap="round"/>
<line x1="159.0" y1="128.4" x2="153.2" y2="141.6" stroke="#1c1c1c" stroke-width="0.85" stroke-linecap="round"/>
<text x="133.7" y="145.7" font-size="7.6" text-anchor="middle" font-weight="normal" fill="#111"  stroke="#111" stroke-width="0.22">BnO</text>
<line x1="142.7" y1="141.8" x2="153.2" y2="141.8" stroke="#1c1c1c" stroke-width="0.85" stroke-linecap="round"/>
<polygon points="153.2,141.8 163.3,136.7 161.9,134.5" fill="#1c1c1c"/>
<line x1="162.6" y1="135.6" x2="176.5" y2="136.0" stroke="#1c1c1c" stroke-width="2.0" stroke-linecap="round"/>
<line x1="176.5" y1="136.0" x2="185.3" y2="140.0" stroke="#1c1c1c" stroke-width="2.0" stroke-linecap="round"/>
<line x1="162.8" y1="122.2" x2="162.8" y2="135.5" stroke="#1c1c1c" stroke-width="0.85" stroke-linecap="round"/>
<line x1="165.0" y1="127.9" x2="174.5" y2="127.9" stroke="#888" stroke-width="0.9" stroke-linecap="round"/>
<line x1="179.2" y1="127.9" x2="182.1" y2="127.9" stroke="#444" stroke-width="0.9" stroke-linecap="round"/>
<line x1="177.0" y1="124.6" x2="177.0" y2="135.0" stroke="#1c1c1c" stroke-width="0.85" stroke-linecap="round"/>
<line x1="178.8" y1="118.2" x2="183.2" y2="112.0" stroke="#1c1c1c" stroke-width="0.85" stroke-linecap="round"/>
<line x1="183.2" y1="112.0" x2="183.6" y2="127.7" stroke="#1c1c1c" stroke-width="0.85" stroke-linecap="round"/>
<line x1="183.6" y1="127.7" x2="185.8" y2="140.1" stroke="#1c1c1c" stroke-width="0.85" stroke-linecap="round"/>
<text x="167.4" y="118.7" font-size="7.6" text-anchor="middle" font-weight="normal" fill="#111"  stroke="#111" stroke-width="0.22">OBn</text>
<circle cx="176.6" cy="122.0" r="2.6" fill="#fff"/>
<text x="176.6" y="124.9" font-size="7.6" text-anchor="middle" font-weight="normal" fill="#111"  stroke="#111" stroke-width="0.22">O</text>
<text x="187.2" y="145.4" font-size="7.6" text-anchor="middle" font-weight="normal" fill="#111"  stroke="#111" stroke-width="0.22">O</text>
<text x="193.4" y="116.2" font-size="8.2" text-anchor="start" font-weight="normal" fill="#111"  stroke="#111" stroke-width="0.22">B<tspan dy="1.6" font-size="5.8">0,3</tspan></text>
<text x="166.0" y="160.1" font-size="7.8" text-anchor="middle" font-weight="bold" fill="#111"  stroke="#111" stroke-width="0.22">Man-6B</text>
<polygon points="143.9,231.3 150.9,225.3 166.3,225.3 175.0,231.3 159.3,239.2" fill="#f07378" stroke="#1c1c1c" stroke-width="0.6" stroke-linejoin="round"/>
<polygon points="143.9,231.3 152.0,226.3 150.4,224.3" fill="#1c1c1c"/>
<line x1="151.0" y1="225.3" x2="166.2" y2="225.3" stroke="#1c1c1c" stroke-width="2.1" stroke-linecap="round"/>
<polygon points="175.0,231.3 166.7,224.2 165.3,226.4" fill="#1c1c1c"/>
<text x="179.8" y="189.7" font-size="7.6" text-anchor="middle" font-weight="normal" fill="#111"  stroke="#111" stroke-width="0.22">Ph</text>
<line x1="175.0" y1="190.8" x2="171.3" y2="197.2" stroke="#1c1c1c" stroke-width="0.85" stroke-linecap="round"/>
<line x1="161.6" y1="195.0" x2="168.8" y2="195.0" stroke="#1c1c1c" stroke-width="0.85" stroke-linecap="round"/>
<line x1="161.6" y1="197.4" x2="171.3" y2="197.4" stroke="#1c1c1c" stroke-width="0.85" stroke-linecap="round"/>
<text x="157.4" y="200.6" font-size="7.6" text-anchor="middle" font-weight="normal" fill="#111"  stroke="#111" stroke-width="0.22">O</text>
<text x="154.4" y="194.6" font-size="7.4" text-anchor="middle" font-weight="normal" fill="#111"  stroke="#111" stroke-width="0.22">+</text>
<line x1="153.6" y1="200.0" x2="145.9" y2="203.9" stroke="#1c1c1c" stroke-width="0.85" stroke-linecap="round"/>
<line x1="145.9" y1="203.9" x2="146.6" y2="210.0" stroke="#1c1c1c" stroke-width="0.85" stroke-linecap="round"/>
<line x1="147.8" y1="214.8" x2="148.9" y2="216.8" stroke="#1c1c1c" stroke-width="0.85" stroke-linecap="round"/>
<text x="139.7" y="216.6" font-size="7.6" text-anchor="middle" font-weight="normal" fill="#111"  stroke="#111" stroke-width="0.22">BnO</text>
<line x1="148.9" y1="216.8" x2="164.3" y2="216.8" stroke="#1c1c1c" stroke-width="0.85" stroke-linecap="round"/>
<line x1="148.9" y1="216.8" x2="150.9" y2="225.0" stroke="#1c1c1c" stroke-width="0.85" stroke-linecap="round"/>
<line x1="143.9" y1="231.0" x2="146.4" y2="222.3" stroke="#1c1c1c" stroke-width="0.85" stroke-linecap="round"/>
<text x="171.5" y="213.1" font-size="7.6" text-anchor="middle" font-weight="normal" fill="#111"  stroke="#111" stroke-width="0.22">OBn</text>
<line x1="166.3" y1="213.6" x2="166.3" y2="225.0" stroke="#1c1c1c" stroke-width="0.85" stroke-linecap="round"/>
<text x="171.3" y="220.1" font-size="7.6" text-anchor="middle" font-weight="normal" fill="#111"  stroke="#111" stroke-width="0.22">O</text>
<line x1="172.3" y1="220.8" x2="174.8" y2="230.8" stroke="#1c1c1c" stroke-width="0.85" stroke-linecap="round"/>
<text x="159.3" y="244.9" font-size="7.6" text-anchor="middle" font-weight="normal" fill="#111"  stroke="#111" stroke-width="0.22">O</text>
<text x="192.1" y="199.6" font-size="8.2" text-anchor="start" font-weight="normal" fill="#111"  stroke="#111" stroke-width="0.22">B<tspan dy="1.6" font-size="5.8">1,4</tspan></text>
<text x="171.1" y="251.7" font-size="7.8" text-anchor="middle" font-weight="bold" fill="#111"  stroke="#111" stroke-width="0.22">Man-4B</text>
<text x="125.5" y="293.3" font-size="7.6" text-anchor="middle" font-weight="normal" fill="#111"  stroke="#111" stroke-width="0.22">Ph</text>
<line x1="130.2" y1="289.5" x2="141.9" y2="286.9" stroke="#1c1c1c" stroke-width="0.85" stroke-linecap="round"/>
<line x1="141.9" y1="286.9" x2="153.0" y2="289.6" stroke="#1c1c1c" stroke-width="0.85" stroke-linecap="round"/>
<line x1="160.0" y1="289.6" x2="169.3" y2="286.9" stroke="#1c1c1c" stroke-width="0.85" stroke-linecap="round"/>
<line x1="169.3" y1="286.9" x2="176.0" y2="297.8" stroke="#1c1c1c" stroke-width="0.85" stroke-linecap="round"/>
<line x1="141.9" y1="286.9" x2="146.8" y2="295.9" stroke="#1c1c1c" stroke-width="0.85" stroke-linecap="round"/>
<line x1="151.8" y1="298.3" x2="163.8" y2="296.6" stroke="#1c1c1c" stroke-width="0.85" stroke-linecap="round"/>
<line x1="163.8" y1="296.6" x2="176.0" y2="297.8" stroke="#1c1c1c" stroke-width="0.85" stroke-linecap="round"/>
<line x1="176.0" y1="297.8" x2="182.5" y2="296.5" stroke="#1c1c1c" stroke-width="0.85" stroke-linecap="round"/>
<text x="148.7" y="301.7" font-size="7.6" text-anchor="middle" font-weight="normal" fill="#111"  stroke="#111" stroke-width="0.22">O</text>
<text x="156.5" y="292.9" font-size="7.6" text-anchor="middle" font-weight="normal" fill="#111"  stroke="#111" stroke-width="0.22">O</text>
<text x="150.8" y="311.1" font-size="7.6" text-anchor="middle" font-weight="normal" fill="#111"  stroke="#111" stroke-width="0.22">BnO</text>
<line x1="159.3" y1="308.2" x2="170.2" y2="308.2" stroke="#1c1c1c" stroke-width="0.85" stroke-linecap="round"/>
<polygon points="163.8,296.6 169.1,308.9 171.3,307.7" fill="#1c1c1c"/>
<line x1="170.2" y1="308.3" x2="183.9" y2="311.5" stroke="#1c1c1c" stroke-width="2.0" stroke-linecap="round"/>
<line x1="183.9" y1="311.5" x2="197.5" y2="308.1" stroke="#1c1c1c" stroke-width="1.6" stroke-linecap="round"/>
<line x1="183.9" y1="289.0" x2="183.9" y2="311.0" stroke="#1c1c1c" stroke-width="0.85" stroke-linecap="round"/>
<text x="188.8" y="287.8" font-size="7.6" text-anchor="middle" font-weight="normal" fill="#111"  stroke="#111" stroke-width="0.22">OBn</text>
<text x="190.5" y="298.5" font-size="7.6" text-anchor="middle" font-weight="normal" fill="#111"  stroke="#111" stroke-width="0.22">O</text>
<text x="198.0" y="296.7" font-size="7.4" text-anchor="middle" font-weight="normal" fill="#111"  stroke="#111" stroke-width="0.22">+</text>
<line x1="192.5" y1="299.0" x2="197.5" y2="308.1" stroke="#1c1c1c" stroke-width="0.85" stroke-linecap="round"/>
<line x1="190.5" y1="300.2" x2="195.2" y2="308.8" stroke="#1c1c1c" stroke-width="0.85" stroke-linecap="round"/>
<text x="176.0" y="331.4" font-size="7.8" text-anchor="middle" font-weight="bold" fill="#111"  stroke="#111" stroke-width="0.22">Man-oxo</text>
<text x="513.7" y="7.3" font-size="7.6" text-anchor="middle" font-weight="normal" fill="#111"  stroke="#111" stroke-width="0.22">Ph</text>
<line x1="509.2" y1="8.6" x2="504.5" y2="16.1" stroke="#1c1c1c" stroke-width="0.85" stroke-linecap="round"/>
<line x1="504.5" y1="16.1" x2="515.2" y2="19.6" stroke="#1c1c1c" stroke-width="0.85" stroke-linecap="round"/>
<line x1="504.5" y1="16.1" x2="509.5" y2="25.5" stroke="#1c1c1c" stroke-width="0.85" stroke-linecap="round"/>
<text x="518.2" y="23.3" font-size="7.6" text-anchor="middle" font-weight="normal" fill="#111"  stroke="#111" stroke-width="0.22">O</text>
<text x="511.0" y="31.7" font-size="7.6" text-anchor="middle" font-weight="normal" fill="#111"  stroke="#111" stroke-width="0.22">O</text>
<line x1="518.2" y1="24.0" x2="518.2" y2="34.3" stroke="#1c1c1c" stroke-width="0.85" stroke-linecap="round"/>
<line x1="518.2" y1="34.3" x2="525.3" y2="46.0" stroke="#1c1c1c" stroke-width="0.85" stroke-linecap="round"/>
<line x1="511.4" y1="32.5" x2="512.4" y2="42.3" stroke="#1c1c1c" stroke-width="0.85" stroke-linecap="round"/>
<line x1="512.4" y1="42.3" x2="525.3" y2="46.0" stroke="#1c1c1c" stroke-width="0.85" stroke-linecap="round"/>
<line x1="525.3" y1="46.0" x2="535.8" y2="43.5" stroke="#1c1c1c" stroke-width="0.85" stroke-linecap="round"/>
<line x1="541.5" y1="45.5" x2="546.4" y2="53.9" stroke="#1c1c1c" stroke-width="0.85" stroke-linecap="round"/>
<polygon points="512.4,42.3 516.3,55.1 518.5,54.1" fill="#1c1c1c"/>
<line x1="517.4" y1="54.6" x2="534.0" y2="51.1" stroke="#1c1c1c" stroke-width="2.0" stroke-linecap="round"/>
<polygon points="546.4,54.0 534.3,49.9 533.7,52.3" fill="#1c1c1c"/>
<text x="539.1" y="45.9" font-size="7.6" text-anchor="middle" font-weight="normal" fill="#111"  stroke="#111" stroke-width="0.22">O</text>
<line x1="546.4" y1="54.0" x2="556.8" y2="52.2" stroke="#1c1c1c" stroke-width="0.85" stroke-linecap="round"/>
<text x="563.6" y="54.5" font-size="7.6" text-anchor="middle" font-weight="normal" fill="#111"  stroke="#111" stroke-width="0.22">SEt</text>
<text x="499.7" y="58.2" font-size="7.6" text-anchor="middle" font-weight="normal" fill="#111"  stroke="#111" stroke-width="0.22">BnO</text>
<line x1="507.8" y1="55.1" x2="517.2" y2="54.7" stroke="#1c1c1c" stroke-width="0.85" stroke-linecap="round"/>
<line x1="534.0" y1="51.1" x2="537.3" y2="59.3" stroke="#1c1c1c" stroke-width="0.85" stroke-linecap="round"/>
<text x="535.1" y="66.4" font-size="7.6" text-anchor="middle" font-weight="normal" fill="#111"  stroke="#111" stroke-width="0.22">BnO</text>
<text x="545.0" y="80.8" font-size="7.8" text-anchor="middle" font-weight="bold" fill="#111"  stroke="#111" stroke-width="0.22">Gal-SEt</text>
<polyline points="542.0,31.1 554.6,31.1 554.6,66.5" fill="none" stroke="#e8474f" stroke-width="1.0" stroke-linejoin="round" stroke-linecap="round"/>
<polygon points="542.5,109.2 568.4,109.2 570.8,113.6 570.8,123.7 560.3,126.1 554.7,126.1 549.1,124.7 542.5,123.3" fill="#1f77b4" stroke="none" stroke-width="0.7" stroke-linejoin="round"/>
<line x1="542.5" y1="109.2" x2="567.0" y2="109.2" stroke="#1c1c1c" stroke-width="0.8" stroke-linecap="round"/>
<line x1="542.5" y1="109.2" x2="542.5" y2="123.3" stroke="#1c1c1c" stroke-width="0.78" stroke-linecap="round"/>
<text x="514.0" y="116.7" font-size="8.0" text-anchor="start" font-weight="normal" fill="#111"  stroke="#111" stroke-width="0.22"><tspan dy="-2.8" font-size="5.6">4</tspan><tspan dy="2.8">C</tspan><tspan dy="1.6" font-size="5.6">1</tspan></text>
<text x="516.4" y="130.3" font-size="7.4" text-anchor="middle" font-weight="normal" fill="#111"  stroke="#111" stroke-width="0.22">+</text>
<text x="521.7" y="135.7" font-size="7.6" text-anchor="middle" font-weight="normal" fill="#111"  stroke="#111" stroke-width="0.22">O</text>
<line x1="520.3" y1="136.0" x2="515.5" y2="144.7" stroke="#1c1c1c" stroke-width="0.85" stroke-linecap="round"/>
<line x1="518.0" y1="135.2" x2="513.2" y2="143.5" stroke="#1c1c1c" stroke-width="0.85" stroke-linecap="round"/>
<line x1="515.5" y1="144.7" x2="504.0" y2="144.7" stroke="#1c1c1c" stroke-width="0.85" stroke-linecap="round"/>
<text x="498.5" y="147.4" font-size="7.6" text-anchor="middle" font-weight="normal" fill="#111"  stroke="#111" stroke-width="0.22">Ph</text>
<line x1="525.4" y1="133.5" x2="536.2" y2="134.9" stroke="#1c1c1c" stroke-width="0.85" stroke-linecap="round"/>
<line x1="536.2" y1="134.9" x2="542.5" y2="123.3" stroke="#1c1c1c" stroke-width="0.85" stroke-linecap="round"/>
<polygon points="536.2,134.9 549.8,133.4 549.2,130.8" fill="#1c1c1c"/>
<line x1="549.5" y1="132.1" x2="563.6" y2="135.7" stroke="#1c1c1c" stroke-width="2.0" stroke-linecap="round"/>
<polygon points="569.6,124.5 562.5,135.1 564.7,136.3" fill="#1c1c1c"/>
<line x1="549.5" y1="122.5" x2="549.5" y2="132.1" stroke="#1c1c1c" stroke-width="0.85" stroke-linecap="round"/>
<text x="554.3" y="121.2" font-size="7.6" text-anchor="middle" font-weight="normal" fill="#111"  stroke="#111" stroke-width="0.22">OBn</text>
<text x="570.4" y="112.3" font-size="7.6" text-anchor="middle" font-weight="normal" fill="#111"  stroke="#111" stroke-width="0.22">O</text>
<circle cx="556.7" cy="127.8" r="2.5" fill="#fff"/>
<text x="556.7" y="130.6" font-size="7.6" text-anchor="middle" font-weight="normal" fill="#111"  stroke="#111" stroke-width="0.22">O</text>
<line x1="563.6" y1="135.7" x2="564.5" y2="146.5" stroke="#1c1c1c" stroke-width="0.85" stroke-linecap="round"/>
<text x="568.1" y="153.2" font-size="7.6" text-anchor="middle" font-weight="normal" fill="#111"  stroke="#111" stroke-width="0.22">OBn</text>
<text x="548.0" y="165.5" font-size="7.8" text-anchor="middle" font-weight="bold" fill="#111"  stroke="#111" stroke-width="0.22">Gal-6B</text>
<polygon points="518.7,197.1 536.2,188.9 553.7,197.1 547.1,203.4 522.6,203.4" fill="#f07378" stroke="#1c1c1c" stroke-width="0.6" stroke-linejoin="round"/>
<text x="509.4" y="187.2" font-size="7.4" text-anchor="middle" font-weight="normal" fill="#111"  stroke="#111" stroke-width="0.22">+</text>
<text x="506.4" y="195.1" font-size="7.6" text-anchor="middle" font-weight="normal" fill="#111"  stroke="#111" stroke-width="0.22">O</text>
<line x1="502.5" y1="191.3" x2="491.9" y2="191.3" stroke="#1c1c1c" stroke-width="0.85" stroke-linecap="round"/>
<line x1="502.5" y1="193.6" x2="492.6" y2="193.6" stroke="#1c1c1c" stroke-width="0.85" stroke-linecap="round"/>
<line x1="491.9" y1="191.3" x2="485.6" y2="200.2" stroke="#1c1c1c" stroke-width="0.85" stroke-linecap="round"/>
<text x="482.7" y="206.5" font-size="7.6" text-anchor="middle" font-weight="normal" fill="#111"  stroke="#111" stroke-width="0.22">Ph</text>
<line x1="508.6" y1="195.5" x2="512.0" y2="202.0" stroke="#1c1c1c" stroke-width="0.85" stroke-linecap="round"/>
<line x1="512.0" y1="202.0" x2="522.6" y2="203.4" stroke="#1c1c1c" stroke-width="0.85" stroke-linecap="round"/>
<line x1="522.6" y1="203.4" x2="540.5" y2="204.2" stroke="#1c1c1c" stroke-width="0.85" stroke-linecap="round"/>
<polygon points="518.7,197.1 525.0,212.9 527.2,211.9" fill="#1c1c1c"/>
<line x1="526.1" y1="212.4" x2="547.1" y2="212.4" stroke="#1c1c1c" stroke-width="2.0" stroke-linecap="round"/>
<polygon points="553.7,197.1 546.0,211.9 548.2,212.9" fill="#1c1c1c"/>
<circle cx="536.2" cy="188.9" r="2.7" fill="#fff"/>
<text x="536.2" y="191.6" font-size="7.6" text-anchor="middle" font-weight="normal" fill="#111"  stroke="#111" stroke-width="0.22">O</text>
<text x="543.6" y="207.4" font-size="7.6" text-anchor="middle" font-weight="normal" fill="#111"  stroke="#111" stroke-width="0.22">O</text>
<text x="506.5" y="216.1" font-size="7.6" text-anchor="middle" font-weight="normal" fill="#111"  stroke="#111" stroke-width="0.22">BnO</text>
<line x1="515.0" y1="213.0" x2="526.1" y2="212.6" stroke="#1c1c1c" stroke-width="0.85" stroke-linecap="round"/>
<line x1="547.1" y1="212.4" x2="547.1" y2="223.8" stroke="#1c1c1c" stroke-width="0.85" stroke-linecap="round"/>
<text x="550.8" y="230.7" font-size="7.6" text-anchor="middle" font-weight="normal" fill="#111"  stroke="#111" stroke-width="0.22">OBn</text>
<text x="559.0" y="195.9" font-size="8.0" text-anchor="start" font-weight="normal" fill="#111"  stroke="#111" stroke-width="0.22"><tspan dy="-2.8" font-size="5.6">1,4</tspan><tspan dy="2.8">B</tspan></text>
<text x="532.0" y="244.3" font-size="7.8" text-anchor="middle" font-weight="bold" fill="#111"  stroke="#111" stroke-width="0.22">Gal-4B</text>
<text x="524.8" y="259.1" font-size="7.6" text-anchor="middle" font-weight="normal" fill="#111"  stroke="#111" stroke-width="0.22">Ph</text>
<line x1="521.5" y1="260.0" x2="515.9" y2="267.8" stroke="#1c1c1c" stroke-width="0.85" stroke-linecap="round"/>
<line x1="515.9" y1="267.8" x2="525.5" y2="271.0" stroke="#1c1c1c" stroke-width="0.85" stroke-linecap="round"/>
<line x1="515.9" y1="267.8" x2="520.3" y2="277.5" stroke="#1c1c1c" stroke-width="0.85" stroke-linecap="round"/>
<text x="529.2" y="274.9" font-size="7.6" text-anchor="middle" font-weight="normal" fill="#111"  stroke="#111" stroke-width="0.22">O</text>
<text x="522.2" y="283.6" font-size="7.6" text-anchor="middle" font-weight="normal" fill="#111"  stroke="#111" stroke-width="0.22">O</text>
<line x1="529.4" y1="275.5" x2="529.9" y2="286.2" stroke="#1c1c1c" stroke-width="0.85" stroke-linecap="round"/>
<line x1="529.9" y1="286.2" x2="536.2" y2="297.6" stroke="#1c1c1c" stroke-width="0.85" stroke-linecap="round"/>
<line x1="522.6" y1="284.3" x2="523.4" y2="295.5" stroke="#1c1c1c" stroke-width="0.85" stroke-linecap="round"/>
<line x1="523.4" y1="295.5" x2="536.2" y2="297.6" stroke="#1c1c1c" stroke-width="0.85" stroke-linecap="round"/>
<line x1="536.2" y1="297.6" x2="546.2" y2="295.8" stroke="#1c1c1c" stroke-width="0.85" stroke-linecap="round"/>
<text x="549.7" y="298.2" font-size="7.6" text-anchor="middle" font-weight="normal" fill="#111"  stroke="#111" stroke-width="0.22">O</text>
<text x="555.8" y="292.9" font-size="7.4" text-anchor="middle" font-weight="normal" fill="#111"  stroke="#111" stroke-width="0.22">+</text>
<line x1="552.0" y1="298.8" x2="557.6" y2="307.2" stroke="#1c1c1c" stroke-width="0.85" stroke-linecap="round"/>
<line x1="549.8" y1="299.8" x2="554.8" y2="308.0" stroke="#1c1c1c" stroke-width="0.85" stroke-linecap="round"/>
<polygon points="523.4,295.5 529.4,307.3 531.4,306.1" fill="#1c1c1c"/>
<line x1="530.4" y1="306.7" x2="544.5" y2="310.2" stroke="#1c1c1c" stroke-width="2.0" stroke-linecap="round"/>
<line x1="544.5" y1="310.2" x2="557.6" y2="307.2" stroke="#1c1c1c" stroke-width="1.6" stroke-linecap="round"/>
<text x="510.8" y="309.9" font-size="7.6" text-anchor="middle" font-weight="normal" fill="#111"  stroke="#111" stroke-width="0.22">BnO</text>
<line x1="519.2" y1="306.9" x2="530.4" y2="306.7" stroke="#1c1c1c" stroke-width="0.85" stroke-linecap="round"/>
<line x1="544.5" y1="310.2" x2="548.0" y2="318.5" stroke="#1c1c1c" stroke-width="0.85" stroke-linecap="round"/>
<text x="546.0" y="326.2" font-size="7.6" text-anchor="middle" font-weight="normal" fill="#111"  stroke="#111" stroke-width="0.22">BnO</text>
<text x="543.3" y="336.8" font-size="7.8" text-anchor="middle" font-weight="bold" fill="#111"  stroke="#111" stroke-width="0.22">Gal-oxo</text>
<text x="334.4" y="396.8" font-size="13.4" text-anchor="start" font-weight="bold" fill="#000" stroke="#000" stroke-width="0.4">d</text>
<text x="339.1" y="424.9" font-size="6.8" text-anchor="middle" font-weight="normal" fill="#111" >Ph</text>
<line x1="343.8" y1="421.1" x2="353.0" y2="419.2" stroke="#1c1c1c" stroke-width="0.8" stroke-linecap="round"/>
<line x1="353.0" y1="419.2" x2="361.4" y2="421.2" stroke="#1c1c1c" stroke-width="0.8" stroke-linecap="round"/>
<line x1="367.3" y1="421.2" x2="377.3" y2="419.2" stroke="#1c1c1c" stroke-width="0.8" stroke-linecap="round"/>
<line x1="377.3" y1="419.2" x2="381.9" y2="429.0" stroke="#1c1c1c" stroke-width="0.8" stroke-linecap="round"/>
<line x1="353.0" y1="419.2" x2="356.8" y2="427.5" stroke="#1c1c1c" stroke-width="0.8" stroke-linecap="round"/>
<line x1="361.6" y1="428.6" x2="371.4" y2="426.4" stroke="#1c1c1c" stroke-width="0.8" stroke-linecap="round"/>
<line x1="371.4" y1="426.4" x2="381.9" y2="429.0" stroke="#1c1c1c" stroke-width="0.8" stroke-linecap="round"/>
<text x="364.2" y="425.0" font-size="6.8" text-anchor="middle" font-weight="normal" fill="#111" >O</text>
<text x="358.9" y="432.7" font-size="6.8" text-anchor="middle" font-weight="normal" fill="#111" >O</text>
<line x1="381.9" y1="429.0" x2="391.1" y2="427.7" stroke="#1c1c1c" stroke-width="0.8" stroke-linecap="round"/>
<line x1="396.4" y1="429.7" x2="399.7" y2="436.2" stroke="#1c1c1c" stroke-width="0.8" stroke-linecap="round"/>
<text x="394.0" y="429.5" font-size="6.8" text-anchor="middle" font-weight="normal" fill="#111" >O</text>
<polygon points="371.4,426.6 375.7,437.7 377.7,436.7" fill="#1c1c1c"/>
<line x1="376.7" y1="437.2" x2="389.2" y2="433.9" stroke="#1c1c1c" stroke-width="1.6" stroke-linecap="round"/>
<polygon points="399.7,436.2 389.5,432.7 388.9,435.1" fill="#1c1c1c"/>
<line x1="376.7" y1="437.2" x2="376.7" y2="437.2" stroke="#1c1c1c" stroke-width="0.8" stroke-linecap="round"/>
<line x1="399.7" y1="436.2" x2="407.5" y2="441.5" stroke="#1c1c1c" stroke-width="0.78" stroke-linecap="round"/>
<text x="413.5" y="445.7" font-size="6.8" text-anchor="middle" font-weight="normal" fill="#111" >LG</text>
<text x="376.2" y="453.5" font-size="7.0" text-anchor="middle" font-weight="normal" fill="#111" >+</text>
<text x="376.4" y="463.8" font-size="6.5" text-anchor="middle" font-weight="normal" fill="#111" >Promotor</text>
<line x1="420.9" y1="428.2" x2="448.5" y2="428.2" stroke="#1c1c1c" stroke-width="0.8" stroke-linecap="round"/>
<polygon points="447.5,426.5 447.5,429.9 452.0,428.2" fill="#1c1c1c"/>
<text x="435.5" y="440.3" font-size="6.5" text-anchor="middle" font-weight="normal" fill="#111" >–LG</text>
<line x1="376.4" y1="472.6" x2="376.4" y2="510.5" stroke="#1c1c1c" stroke-width="0.8" stroke-linecap="round"/>
<polygon points="374.7,509.5 378.1,509.5 376.4,514.0" fill="#1c1c1c"/>
<text x="358.7" y="495.9" font-size="7.0" text-anchor="middle" font-weight="normal" fill="#111" >Strong Nu</text>
<rect x="341.4" y="518.6" width="70.3" height="11.6" fill="none" stroke="#222" stroke-width="0.85"/>
<text x="376.4" y="527.1" font-size="6.85" text-anchor="middle" font-weight="normal" fill="#111" >S<tspan dy="1.6" font-size="4.7">N</tspan><tspan dy="-1.6">2 glycosylation</tspan></text>
<polyline points="465.0,396.5 455.9,396.5 455.9,529.2 465.3,529.2" fill="none" stroke="#444" stroke-width="0.9" stroke-linejoin="round" stroke-linecap="round"/>
<polyline points="663.5,396.8 672.6,396.8 672.6,529.1 663.5,529.1" fill="none" stroke="#444" stroke-width="0.9" stroke-linejoin="round" stroke-linecap="round"/>
<text x="555.5" y="405.9" font-size="6.9" text-anchor="middle" font-weight="normal" fill="#111" >Glycosyl cations</text>
<text x="532.6" y="427.5" font-size="6.8" text-anchor="middle" font-weight="normal" fill="#111" >Ph</text>
<line x1="537.3" y1="423.7" x2="546.5" y2="421.8" stroke="#1c1c1c" stroke-width="0.8" stroke-linecap="round"/>
<line x1="546.5" y1="421.8" x2="554.9" y2="423.8" stroke="#1c1c1c" stroke-width="0.8" stroke-linecap="round"/>
<line x1="560.8" y1="423.8" x2="570.8" y2="421.8" stroke="#1c1c1c" stroke-width="0.8" stroke-linecap="round"/>
<line x1="570.8" y1="421.8" x2="575.4" y2="431.6" stroke="#1c1c1c" stroke-width="0.8" stroke-linecap="round"/>
<line x1="546.5" y1="421.8" x2="550.3" y2="430.1" stroke="#1c1c1c" stroke-width="0.8" stroke-linecap="round"/>
<line x1="555.1" y1="431.2" x2="564.9" y2="429.0" stroke="#1c1c1c" stroke-width="0.8" stroke-linecap="round"/>
<line x1="564.9" y1="429.0" x2="575.4" y2="431.6" stroke="#1c1c1c" stroke-width="0.8" stroke-linecap="round"/>
<text x="557.7" y="427.6" font-size="6.8" text-anchor="middle" font-weight="normal" fill="#111" >O</text>
<text x="552.4" y="435.3" font-size="6.8" text-anchor="middle" font-weight="normal" fill="#111" >O</text>
<line x1="575.4" y1="431.6" x2="584.5" y2="430.2" stroke="#1c1c1c" stroke-width="0.8" stroke-linecap="round"/>
<text x="587.5" y="432.1" font-size="6.8" text-anchor="middle" font-weight="normal" fill="#111" >O</text>
<text x="592.7" y="427.7" font-size="6.6" text-anchor="middle" font-weight="normal" fill="#111" >+</text>
<line x1="589.1" y1="433.0" x2="593.8" y2="439.3" stroke="#1c1c1c" stroke-width="0.8" stroke-linecap="round"/>
<line x1="587.5" y1="434.4" x2="591.4" y2="439.8" stroke="#1c1c1c" stroke-width="0.8" stroke-linecap="round"/>
<polygon points="564.5,429.6 568.9,439.9 570.9,438.7" fill="#1c1c1c"/>
<line x1="569.9" y1="439.3" x2="582.5" y2="442.8" stroke="#1c1c1c" stroke-width="1.9" stroke-linecap="round"/>
<line x1="582.5" y1="442.8" x2="593.8" y2="439.3" stroke="#1c1c1c" stroke-width="1.9" stroke-linecap="round"/>
<path d="M550.2,418.6 Q555.5,412.8 561.2,416.8" fill="none" stroke="#e8474f" stroke-width="0.7"/>
<path d="M551.2,421.4 Q555.6,417.6 559.8,420.8" fill="none" stroke="#2b3fd6" stroke-width="0.9"/>
<path d="M544.0,425.6 Q540.4,430.2 543.0,434.4" fill="none" stroke="#e8474f" stroke-width="0.7"/>
<path d="M546.6,427.0 Q544.0,430.0 545.6,432.6" fill="none" stroke="#2b3fd6" stroke-width="0.9"/>
<text x="552.4" y="438.6" font-size="4.5" text-anchor="middle" font-weight="normal" fill="#111" >··</text>
<line x1="521.9" y1="466.7" x2="537.2" y2="452.2" stroke="#1c1c1c" stroke-width="0.65" stroke-linecap="round"/>
<polygon points="521.90,466.70 525.17,463.60 526.40,464.91" fill="#1c1c1c"/>
<line x1="522.8" y1="463.3" x2="530.2" y2="456.2" stroke="#1c1c1c" stroke-width="0.65" stroke-linecap="round"/>
<polygon points="530.17,456.24 526.91,459.34 525.67,458.03" fill="#1c1c1c"/>
<line x1="606.5" y1="453.3" x2="621.9" y2="468.7" stroke="#1c1c1c" stroke-width="0.65" stroke-linecap="round"/>
<polygon points="621.90,468.70 618.72,465.52 619.99,464.25" fill="#1c1c1c"/>
<line x1="608.7" y1="458.2" x2="616.1" y2="465.6" stroke="#1c1c1c" stroke-width="0.65" stroke-linecap="round"/>
<polygon points="608.69,458.18 611.87,461.36 610.60,462.63" fill="#1c1c1c"/>
<text x="568.2" y="469.4" font-size="6.5" text-anchor="middle" font-weight="normal" fill="#111" >S<tspan dy="1.6" font-size="4.5">N</tspan><tspan dy="-1.6">1</tspan></text>
<polygon points="471.5,493.4 477.4,488.7 493.8,488.7 499.3,493.4 485.6,502.6" fill="#f07378" stroke="#1c1c1c" stroke-width="0.6" stroke-linejoin="round"/>
<polygon points="471.5,493.4 478.2,489.5 477.0,487.9" fill="#1c1c1c"/>
<line x1="477.6" y1="488.7" x2="493.6" y2="488.7" stroke="#1c1c1c" stroke-width="1.8" stroke-linecap="round"/>
<polygon points="499.3,493.4 494.2,487.9 493.0,489.5" fill="#1c1c1c"/>
<text x="485.6" y="506.0" font-size="6.8" text-anchor="middle" font-weight="normal" fill="#111" >O</text>
<line x1="471.5" y1="493.4" x2="476.5" y2="480.7" stroke="#1c1c1c" stroke-width="0.78" stroke-linecap="round"/>
<line x1="476.5" y1="480.7" x2="492.6" y2="481.0" stroke="#1c1c1c" stroke-width="0.78" stroke-linecap="round"/>
<line x1="497.0" y1="484.0" x2="499.3" y2="493.4" stroke="#1c1c1c" stroke-width="0.78" stroke-linecap="round"/>
<text x="495.6" y="483.4" font-size="6.8" text-anchor="middle" font-weight="normal" fill="#111" >O</text>
<line x1="476.5" y1="480.7" x2="472.8" y2="469.2" stroke="#1c1c1c" stroke-width="0.78" stroke-linecap="round"/>
<line x1="472.8" y1="469.2" x2="481.5" y2="465.5" stroke="#1c1c1c" stroke-width="0.78" stroke-linecap="round"/>
<text x="484.7" y="467.4" font-size="6.8" text-anchor="middle" font-weight="normal" fill="#111" >O</text>
<text x="485.6" y="461.4" font-size="6.6" text-anchor="middle" font-weight="normal" fill="#111" >+</text>
<line x1="488.0" y1="464.0" x2="498.4" y2="464.0" stroke="#1c1c1c" stroke-width="0.78" stroke-linecap="round"/>
<line x1="488.0" y1="466.2" x2="497.2" y2="466.2" stroke="#1c1c1c" stroke-width="0.78" stroke-linecap="round"/>
<line x1="498.4" y1="464.0" x2="502.2" y2="471.5" stroke="#1c1c1c" stroke-width="0.78" stroke-linecap="round"/>
<text x="504.7" y="477.7" font-size="6.8" text-anchor="middle" font-weight="normal" fill="#111" >Ph</text>
<text x="486.2" y="524.0" font-size="7.0" text-anchor="middle" font-weight="normal" fill="#111" >1,4-Anhydro</text>
<polygon points="641.1,466.5 662.0,466.5 664.6,470.4 664.6,478.5 654.3,480.7 649.6,480.7 641.1,478.5" fill="#1f77b4" stroke="none" stroke-width="0.7" stroke-linejoin="round"/>
<line x1="641.1" y1="466.5" x2="641.1" y2="478.5" stroke="#1c1c1c" stroke-width="0.78" stroke-linecap="round"/>
<text x="664.3" y="469.0" font-size="6.8" text-anchor="middle" font-weight="normal" fill="#111" >O</text>
<circle cx="652.4" cy="482.2" r="2.3" fill="#fff"/>
<text x="652.4" y="484.7" font-size="6.8" text-anchor="middle" font-weight="normal" fill="#111" >O</text>
<line x1="641.1" y1="478.5" x2="635.2" y2="488.3" stroke="#1c1c1c" stroke-width="0.78" stroke-linecap="round"/>
<line x1="664.6" y1="478.5" x2="658.6" y2="488.9" stroke="#1c1c1c" stroke-width="0.78" stroke-linecap="round"/>
<polygon points="635.2,488.3 646.6,486.4 646.0,484.4" fill="#1c1c1c"/>
<line x1="646.3" y1="485.4" x2="658.6" y2="488.9" stroke="#1c1c1c" stroke-width="1.5" stroke-linecap="round"/>
<line x1="635.2" y1="488.3" x2="635.2" y2="497.6" stroke="#1c1c1c" stroke-width="0.78" stroke-linecap="round"/>
<text x="634.9" y="503.7" font-size="6.8" text-anchor="middle" font-weight="normal" fill="#111" >O</text>
<text x="641.5" y="502.8" font-size="6.6" text-anchor="middle" font-weight="normal" fill="#111" >+</text>
<line x1="632.6" y1="504.4" x2="626.6" y2="509.1" stroke="#1c1c1c" stroke-width="0.78" stroke-linecap="round"/>
<line x1="631.0" y1="502.8" x2="625.6" y2="507.0" stroke="#1c1c1c" stroke-width="0.78" stroke-linecap="round"/>
<line x1="626.6" y1="509.1" x2="619.2" y2="505.4" stroke="#1c1c1c" stroke-width="0.78" stroke-linecap="round"/>
<text x="614.0" y="506.2" font-size="6.8" text-anchor="middle" font-weight="normal" fill="#111" >Ph</text>
<text x="633.4" y="526.4" font-size="7.0" text-anchor="middle" font-weight="normal" fill="#111" >1,6-Anhydro</text>
<line x1="490.9" y1="535.6" x2="490.9" y2="555.8" stroke="#1c1c1c" stroke-width="0.8" stroke-linecap="round"/>
<polygon points="489.2,554.8 492.6,554.8 490.9,559.3" fill="#1c1c1c"/>
<text x="463.6" y="550.7" font-size="6.8" text-anchor="middle" font-weight="normal" fill="#111" >Weak Nu</text>
<line x1="638.3" y1="535.6" x2="638.3" y2="555.8" stroke="#1c1c1c" stroke-width="0.8" stroke-linecap="round"/>
<polygon points="636.6,554.8 640.0,554.8 638.3,559.3" fill="#1c1c1c"/>
<text x="654.6" y="550.9" font-size="6.8" text-anchor="middle" font-weight="normal" fill="#111" >Weak Nu</text>
<text x="453.3" y="580.3" font-size="6.8" text-anchor="middle" font-weight="normal" fill="#111" >Ph</text>
<line x1="458.0" y1="576.5" x2="467.2" y2="574.6" stroke="#1c1c1c" stroke-width="0.8" stroke-linecap="round"/>
<line x1="467.2" y1="574.6" x2="475.6" y2="576.6" stroke="#1c1c1c" stroke-width="0.8" stroke-linecap="round"/>
<line x1="481.5" y1="576.6" x2="491.5" y2="574.6" stroke="#1c1c1c" stroke-width="0.8" stroke-linecap="round"/>
<line x1="491.5" y1="574.6" x2="496.1" y2="584.4" stroke="#1c1c1c" stroke-width="0.8" stroke-linecap="round"/>
<line x1="467.2" y1="574.6" x2="471.0" y2="582.9" stroke="#1c1c1c" stroke-width="0.8" stroke-linecap="round"/>
<line x1="475.8" y1="584.0" x2="485.6" y2="581.8" stroke="#1c1c1c" stroke-width="0.8" stroke-linecap="round"/>
<line x1="485.6" y1="581.8" x2="496.1" y2="584.4" stroke="#1c1c1c" stroke-width="0.8" stroke-linecap="round"/>
<text x="478.4" y="580.4" font-size="6.8" text-anchor="middle" font-weight="normal" fill="#111" >O</text>
<text x="473.1" y="588.1" font-size="6.8" text-anchor="middle" font-weight="normal" fill="#111" >O</text>
<line x1="496.1" y1="584.4" x2="505.3" y2="583.1" stroke="#1c1c1c" stroke-width="0.8" stroke-linecap="round"/>
<line x1="510.6" y1="585.1" x2="513.9" y2="591.6" stroke="#1c1c1c" stroke-width="0.8" stroke-linecap="round"/>
<text x="508.2" y="584.9" font-size="6.8" text-anchor="middle" font-weight="normal" fill="#111" >O</text>
<polygon points="485.6,582.0 489.9,593.1 491.9,592.1" fill="#1c1c1c"/>
<line x1="490.9" y1="592.6" x2="503.4" y2="589.3" stroke="#1c1c1c" stroke-width="1.6" stroke-linecap="round"/>
<polygon points="513.9,591.6 503.7,588.1 503.1,590.5" fill="#1c1c1c"/>
<line x1="490.9" y1="592.6" x2="490.9" y2="592.6" stroke="#1c1c1c" stroke-width="0.8" stroke-linecap="round"/>
<line x1="513.9" y1="591.6" x2="522.8" y2="588.8" stroke="#1c1c1c" stroke-width="0.78" stroke-linecap="round"/>
<text x="528.2" y="591.7" font-size="6.8" text-anchor="middle" font-weight="normal" fill="#111" >Nu</text>
<text x="516.8" y="585.9" font-size="6.5" text-anchor="middle" font-weight="normal" fill="#e8474f" >β</text>
<text x="606.9" y="573.1" font-size="6.8" text-anchor="middle" font-weight="normal" fill="#111" >Ph</text>
<line x1="611.6" y1="569.3" x2="620.8" y2="567.4" stroke="#1c1c1c" stroke-width="0.8" stroke-linecap="round"/>
<line x1="620.8" y1="567.4" x2="629.2" y2="569.4" stroke="#1c1c1c" stroke-width="0.8" stroke-linecap="round"/>
<line x1="635.1" y1="569.4" x2="645.1" y2="567.4" stroke="#1c1c1c" stroke-width="0.8" stroke-linecap="round"/>
<line x1="645.1" y1="567.4" x2="649.7" y2="577.2" stroke="#1c1c1c" stroke-width="0.8" stroke-linecap="round"/>
<line x1="620.8" y1="567.4" x2="624.6" y2="575.7" stroke="#1c1c1c" stroke-width="0.8" stroke-linecap="round"/>
<line x1="629.4" y1="576.8" x2="639.2" y2="574.6" stroke="#1c1c1c" stroke-width="0.8" stroke-linecap="round"/>
<line x1="639.2" y1="574.6" x2="649.7" y2="577.2" stroke="#1c1c1c" stroke-width="0.8" stroke-linecap="round"/>
<text x="632.0" y="573.2" font-size="6.8" text-anchor="middle" font-weight="normal" fill="#111" >O</text>
<text x="626.7" y="580.9" font-size="6.8" text-anchor="middle" font-weight="normal" fill="#111" >O</text>
<line x1="649.7" y1="577.2" x2="658.9" y2="575.9" stroke="#1c1c1c" stroke-width="0.8" stroke-linecap="round"/>
<line x1="664.2" y1="577.9" x2="667.5" y2="584.4" stroke="#1c1c1c" stroke-width="0.8" stroke-linecap="round"/>
<text x="661.8" y="577.7" font-size="6.8" text-anchor="middle" font-weight="normal" fill="#111" >O</text>
<polygon points="639.2,574.8 643.5,585.9 645.5,584.9" fill="#1c1c1c"/>
<line x1="644.5" y1="585.4" x2="657.0" y2="582.1" stroke="#1c1c1c" stroke-width="1.6" stroke-linecap="round"/>
<polygon points="667.5,584.4 657.3,580.9 656.7,583.3" fill="#1c1c1c"/>
<line x1="644.5" y1="585.4" x2="644.5" y2="585.4" stroke="#1c1c1c" stroke-width="0.8" stroke-linecap="round"/>
<line x1="667.5" y1="584.4" x2="667.5" y2="593.2" stroke="#1c1c1c" stroke-width="0.78" stroke-linecap="round"/>
<text x="669.1" y="599.8" font-size="6.8" text-anchor="middle" font-weight="normal" fill="#111" >Nu</text>
<text x="673.8" y="586.8" font-size="6.5" text-anchor="middle" font-weight="normal" fill="#3aa745" >α</text>
<text x="-0.20" y="397.30" font-size="13.8" text-anchor="start" font-weight="bold" fill="#000" stroke="#000" stroke-width="0.45">c</text>
<path d="M40.0,410.3 H318.4 V568.2 H40.0 Z" fill="none" stroke="#7a7a7a" stroke-width="1.0"/>
<line x1="37.00" y1="410.30" x2="40.00" y2="410.30" stroke="#7a7a7a" stroke-width="1.0" />
<text x="35.80" y="413.00" font-size="7.9" text-anchor="end" font-weight="normal" fill="#3a3a3a" stroke="none">0</text>
<line x1="38.20" y1="427.85" x2="40.00" y2="427.85" stroke="#7a7a7a" stroke-width="0.9" />
<line x1="37.00" y1="445.39" x2="40.00" y2="445.39" stroke="#7a7a7a" stroke-width="1.0" />
<text x="35.80" y="448.09" font-size="7.9" text-anchor="end" font-weight="normal" fill="#3a3a3a" stroke="none">−20</text>
<line x1="38.20" y1="462.94" x2="40.00" y2="462.94" stroke="#7a7a7a" stroke-width="0.9" />
<line x1="37.00" y1="480.48" x2="40.00" y2="480.48" stroke="#7a7a7a" stroke-width="1.0" />
<text x="35.80" y="483.18" font-size="7.9" text-anchor="end" font-weight="normal" fill="#3a3a3a" stroke="none">−40</text>
<line x1="38.20" y1="498.02" x2="40.00" y2="498.02" stroke="#7a7a7a" stroke-width="0.9" />
<line x1="37.00" y1="515.57" x2="40.00" y2="515.57" stroke="#7a7a7a" stroke-width="1.0" />
<text x="35.80" y="518.27" font-size="7.9" text-anchor="end" font-weight="normal" fill="#3a3a3a" stroke="none">−60</text>
<line x1="38.20" y1="533.12" x2="40.00" y2="533.12" stroke="#7a7a7a" stroke-width="0.9" />
<line x1="37.00" y1="550.66" x2="40.00" y2="550.66" stroke="#7a7a7a" stroke-width="1.0" />
<text x="35.80" y="553.36" font-size="7.9" text-anchor="end" font-weight="normal" fill="#3a3a3a" stroke="none">−80</text>
<line x1="38.20" y1="568.21" x2="40.00" y2="568.21" stroke="#7a7a7a" stroke-width="0.9" />
<line x1="52.70" y1="568.20" x2="52.70" y2="571.40" stroke="#7a7a7a" stroke-width="1.0" />
<line x1="92.69" y1="568.20" x2="92.69" y2="570.00" stroke="#7a7a7a" stroke-width="0.9" />
<line x1="116.09" y1="568.20" x2="116.09" y2="570.00" stroke="#7a7a7a" stroke-width="0.9" />
<line x1="132.68" y1="568.20" x2="132.68" y2="570.00" stroke="#7a7a7a" stroke-width="0.9" />
<line x1="145.56" y1="568.20" x2="145.56" y2="570.00" stroke="#7a7a7a" stroke-width="0.9" />
<line x1="156.08" y1="568.20" x2="156.08" y2="570.00" stroke="#7a7a7a" stroke-width="0.9" />
<line x1="164.97" y1="568.20" x2="164.97" y2="570.00" stroke="#7a7a7a" stroke-width="0.9" />
<line x1="172.68" y1="568.20" x2="172.68" y2="570.00" stroke="#7a7a7a" stroke-width="0.9" />
<line x1="179.47" y1="568.20" x2="179.47" y2="570.00" stroke="#7a7a7a" stroke-width="0.9" />
<line x1="185.55" y1="568.20" x2="185.55" y2="571.40" stroke="#7a7a7a" stroke-width="1.0" />
<line x1="225.54" y1="568.20" x2="225.54" y2="570.00" stroke="#7a7a7a" stroke-width="0.9" />
<line x1="248.94" y1="568.20" x2="248.94" y2="570.00" stroke="#7a7a7a" stroke-width="0.9" />
<line x1="265.53" y1="568.20" x2="265.53" y2="570.00" stroke="#7a7a7a" stroke-width="0.9" />
<line x1="278.41" y1="568.20" x2="278.41" y2="570.00" stroke="#7a7a7a" stroke-width="0.9" />
<line x1="288.93" y1="568.20" x2="288.93" y2="570.00" stroke="#7a7a7a" stroke-width="0.9" />
<line x1="297.82" y1="568.20" x2="297.82" y2="570.00" stroke="#7a7a7a" stroke-width="0.9" />
<line x1="305.53" y1="568.20" x2="305.53" y2="570.00" stroke="#7a7a7a" stroke-width="0.9" />
<line x1="312.32" y1="568.20" x2="312.32" y2="570.00" stroke="#7a7a7a" stroke-width="0.9" />
<line x1="318.40" y1="568.20" x2="318.40" y2="571.40" stroke="#7a7a7a" stroke-width="1.0" />
<text x="52.70" y="581.00" font-size="7.9" text-anchor="middle" font-weight="normal" fill="#3a3a3a" stroke="none">1</text>
<text x="185.55" y="581.00" font-size="7.9" text-anchor="middle" font-weight="normal" fill="#3a3a3a" stroke="none">10</text>
<text x="318.40" y="581.00" font-size="7.9" text-anchor="middle" font-weight="normal" fill="#3a3a3a" stroke="none">100</text>
<text x="179.20" y="595.50" font-size="9.3" text-anchor="middle" font-weight="normal" fill="#3a3a3a"  stroke="#3a3a3a" stroke-width="0.22">Relative permittivity (ε<tspan dy="1.8" font-size="5.5">r</tspan><tspan dy="-1.8">)</tspan></text>
<text x="10.40" y="488.40" font-size="8.5" text-anchor="middle" font-weight="normal" fill="#3a3a3a" transform="rotate(-90 10.4 488.4)" stroke="#3a3a3a" stroke-width="0.22">Δ<tspan font-style="italic">F</tspan> (kJ mol<tspan dy="-3" font-size="5.5">−1</tspan><tspan dy="3">)</tspan></text>
<text x="89.60" y="429.60" font-size="9.3" text-anchor="start" font-weight="normal" fill="#3a3a3a"  stroke="#3a3a3a" stroke-width="0.22">Highly apolar solvents</text>
<polyline points="52.70,498.02 98.45,484.34 102.73,485.74 136.86,489.78 143.32,495.22 179.02,494.34 259.45,493.29 274.47,495.57 304.36,487.85" fill="none" stroke="#e8838a" stroke-width="1.1"/>
<polyline points="52.70,541.36 98.45,532.76 102.73,532.24 136.86,533.99 143.32,534.17 179.02,524.87 259.45,519.61 274.47,523.29 304.36,515.04" fill="none" stroke="#3558a8" stroke-width="1.1"/>
<circle cx="52.70" cy="498.02" r="2.0" fill="#e8838a"/>
<circle cx="98.45" cy="484.34" r="2.0" fill="#e8838a"/>
<circle cx="102.73" cy="485.74" r="2.0" fill="#e8838a"/>
<circle cx="136.86" cy="489.78" r="2.0" fill="#e8838a"/>
<circle cx="143.32" cy="495.22" r="2.0" fill="#e8838a"/>
<circle cx="179.02" cy="494.34" r="2.0" fill="#e8838a"/>
<circle cx="259.45" cy="493.29" r="2.0" fill="#e8838a"/>
<circle cx="274.47" cy="495.57" r="2.0" fill="#e8838a"/>
<circle cx="304.36" cy="487.85" r="2.0" fill="#e8838a"/>
<rect x="50.90" y="539.56" width="3.6" height="3.6" fill="#3558a8"/>
<rect x="96.65" y="530.96" width="3.6" height="3.6" fill="#3558a8"/>
<rect x="100.93" y="530.44" width="3.6" height="3.6" fill="#3558a8"/>
<rect x="135.06" y="532.19" width="3.6" height="3.6" fill="#3558a8"/>
<rect x="141.52" y="532.37" width="3.6" height="3.6" fill="#3558a8"/>
<rect x="177.22" y="523.07" width="3.6" height="3.6" fill="#3558a8"/>
<rect x="257.65" y="517.81" width="3.6" height="3.6" fill="#3558a8"/>
<rect x="272.67" y="521.49" width="3.6" height="3.6" fill="#3558a8"/>
<rect x="302.56" y="513.24" width="3.6" height="3.6" fill="#3558a8"/>
<line x1="250.00" y1="422.60" x2="268.70" y2="422.60" stroke="#3558a8" stroke-width="1.1" />
<rect x="257.40" y="420.70" width="3.8" height="3.8" fill="#3558a8"/>
<line x1="250.00" y1="437.20" x2="268.70" y2="437.20" stroke="#e8838a" stroke-width="1.1" />
<circle cx="259.3" cy="437.2" r="2.1" fill="#e8838a"/>
<text x="273.00" y="425.90" font-size="9" text-anchor="start" font-weight="bold" fill="#111"  stroke="#111" stroke-width="0.22">Glc-6B</text>
<text x="273.00" y="440.50" font-size="9" text-anchor="start" font-weight="bold" fill="#111"  stroke="#111" stroke-width="0.22">Glc-4B</text>
<text x="60.70" y="510.00" font-size="9.2" text-anchor="middle" font-weight="normal" fill="#3a3a3a"  stroke="#3a3a3a" stroke-width="0.22">Vacuum</text>
<text x="85.60" y="480.00" font-size="9.2" text-anchor="middle" font-weight="normal" fill="#3a3a3a"  stroke="#3a3a3a" stroke-width="0.22">Dioxane</text>
<text x="110.90" y="498.00" font-size="9.2" text-anchor="middle" font-weight="normal" fill="#3a3a3a"  stroke="#3a3a3a" stroke-width="0.22">Toluene</text>
<text x="179.70" y="489.80" font-size="9.2" text-anchor="middle" font-weight="normal" fill="#3a3a3a"  stroke="#3a3a3a" stroke-width="0.22">DCM</text>
<text x="258.50" y="488.50" font-size="9.2" text-anchor="middle" font-weight="normal" fill="#3a3a3a"  stroke="#3a3a3a" stroke-width="0.22">ACN</text>
<text x="274.50" y="507.60" font-size="9.2" text-anchor="middle" font-weight="normal" fill="#3a3a3a"  stroke="#3a3a3a" stroke-width="0.22">DMSO</text>
<text x="304.50" y="483.20" font-size="9.2" text-anchor="middle" font-weight="normal" fill="#3a3a3a"  stroke="#3a3a3a" stroke-width="0.22">Water</text>
<text x="127.40" y="482.20" font-size="9.2" text-anchor="start" font-weight="normal" fill="#3a3a3a"  stroke="#3a3a3a" stroke-width="0.22">Et<tspan dy="1.8" font-size="5.8">2</tspan><tspan dy="-1.8">O</tspan></text>
<text x="134.20" y="504.90" font-size="9.2" text-anchor="start" font-weight="normal" fill="#3a3a3a"  stroke="#3a3a3a" stroke-width="0.22">CHCl<tspan dy="1.8" font-size="5.8">3</tspan></text>
</svg></body></html>
